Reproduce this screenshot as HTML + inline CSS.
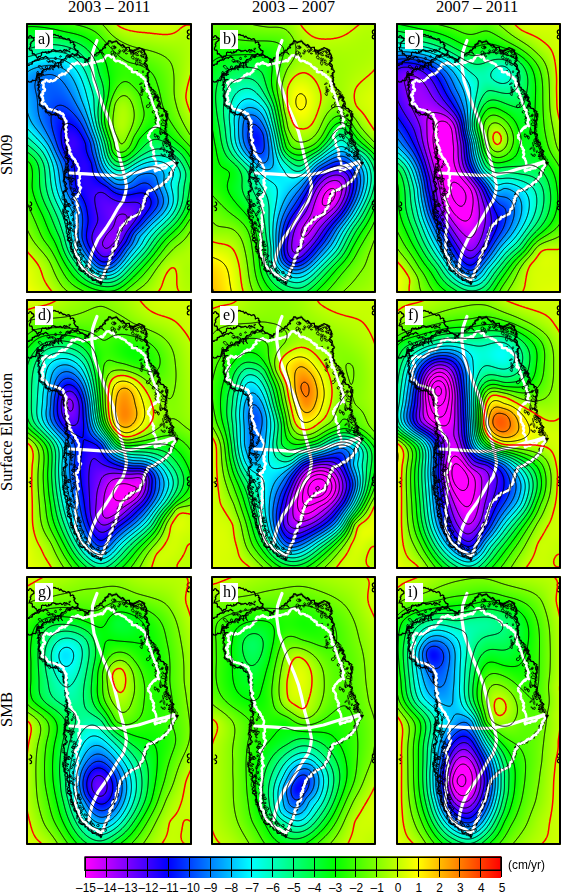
<!DOCTYPE html>
<html><head><meta charset="utf-8">
<style>
html,body{margin:0;padding:0;background:#fff;}
body{width:563px;height:893px;position:relative;overflow:hidden;font-family:"Liberation Serif",serif;color:#000;}
.t{position:absolute;font-size:16.6px;line-height:16px;white-space:nowrap;}
.r{position:absolute;font-size:16.6px;line-height:16px;white-space:nowrap;transform-origin:0 0;transform:rotate(-90deg);}
.s{position:absolute;font-family:"Liberation Sans",sans-serif;font-size:11.9px;line-height:12px;white-space:nowrap;}
canvas{position:absolute;display:block;}
.pn{position:absolute;background:radial-gradient(ellipse 32% 42% at 42% 55%,#3040ff 0%,#00c8ff 45%,#30ff60 75%,#b4f800 100%);box-shadow:inset 0 0 0 2px #000;}
#cbw{background:linear-gradient(90deg,#fff 0,#fff 5px,#f0f 5px,#00f 88px,#0ff 171px,#0f0 254px,#ff0 337px,#f00 421px,#fff 421px);}
</style></head><body>
<div class="t" style="left:68px;top:-1px">2003 &#8211; 2011</div>
<div class="t" style="left:252px;top:-1px">2003 &#8211; 2007</div>
<div class="t" style="left:436px;top:-1px">2007 &#8211; 2011</div>
<div class="r" style="left:-1px;top:175px">SM09</div>
<div class="r" style="left:-1px;top:491px">Surface Elevation</div>
<div class="r" style="left:-1px;top:727px">SMB</div>
<div class="pn" style="left:26px;top:23px;width:166px;height:270px"><svg width="166" height="270" viewBox="0 0 166 270" style="position:absolute;left:0;top:0"><path fill="#7000ff" fill-rule="evenodd" d="M72 169l6 1 3 2 3 2 4 3 5 1 5 1 6 0 6 0 4 2 0 5-2 4-2 4-2 4-2 2-3 4-2 4-3 4-2 4-2 4-2 2-3 4-3 4-3 2-5 1-4-1-3-4-3-4-1-4-1-4 0-6 2-4 2-4 1-4 0-6-1-4-1-6-1-6 2-5z"/><path fill="#1000ff" fill-rule="evenodd" d="M36 92l4 0 4 2 4 3 3 3 3 4 2 4 2 4 2 3 2 5 1 4 1 6 1 4 2 4 1 5 1 5 2 4 3 4 2 2 4 3 4 3 3 2 5 2 4 1 6-1 4 0 5-2 5-1 5 1 3 2 3 4 1 4 0 5-2 4-2 3-3 4-3 3-2 3-4 4-2 2-3 4-3 4-2 4-2 4-2 3-2 3-3 4-3 4-2 2-4 3-4 1-5 0-3-2-4-4-2-2-3-4-2-4-2-4-1-4 0-6 0-4 1-6 0-6-1-4-1-6-2-4-2-4-2-4-3-4-2-4 0-4-1-6 0-6-1-4-2-5-2-4-2-3-3-4-1-4-2-6-1-4-1-6 0-6 2-6 2-3zM71 170l-3 4 1 6 1 6 1 4 0 6-1 5-2 4-2 5-1 4 1 4 2 5 2 4 2 3 4 3 6 0 3-3 3-3 3-3 3-4 2-4 2-4 2-3 2-3 3-4 3-4 2-3 2-4 2-5 0-4-2-2-6-1-6 0-6-1-4-1-4-1-4-3-4-3-4-1z"/><path fill="#0050ff" fill-rule="evenodd" d="M18 52l6-1 4 1 4 2 4 4 2 3 2 3 3 4 2 4 2 4 2 4 3 4 2 4 2 4 2 4 2 4 1 4 2 4 2 4 1 4 2 6 1 4 1 6 1 4 1 4 2 5 2 3 3 4 3 3 3 3 3 2 6 1 6 0 4-2 4-3 2-2 4-3 6-1 4 0 4 1 2 4 1 5 2 4 1 4 2 4 1 6-1 4-2 4-3 4-3 3-3 3-3 3-3 3-3 3-3 3-3 3-2 4-2 5-2 3-3 3-2 4-3 4-2 2-3 4-3 2-4 3-6 1-6-2-3-2-3-3-3-3-3-4-2-3-2-4-2-4-2-5 0-4 0-6 0-6 0-6-1-6-2-4-2-4-3-4-2-4-2-4-1-4-1-5-1-5 0-6-1-4-2-5-2-5-2-4-2-4-2-4-1-4-2-4-2-4-3-4-2-4-2-4-1-4-1-4-1-6 0-6-1-6-1-4-1-6 2-6 2-2 5-2zM36 92l-4 3-2 5 0 6 1 6 1 6 1 4 2 4 2 4 2 4 3 4 1 4 1 4 1 6 1 6 0 4 2 6 2 3 2 3 2 4 2 4 2 6 0 4 1 6-1 6 0 4 0 6 1 4 1 4 2 4 3 4 3 4 2 3 4 3 4 1 4-1 4-2 4-4 2-3 2-3 3-4 3-4 2-3 2-5 2-3 2-3 4-4 2-2 3-4 3-3 2-3 3-4 3-4 1-4-1-4-3-4-3-3-4-2-6 1-4 1-4 1-6 1-6-1-4-2-4-2-2-2-4-3-4-3-2-3-2-3-2-6-1-4-1-4-2-5-1-5-1-6-2-4-2-4-2-4-2-4-2-3-3-3-3-3-4-2-4-1z"/><path fill="#00afff" fill-rule="evenodd" d="M14 40l6-2 6 0 6 1 4 1 4 2 4 3 2 3 3 4 2 4 2 4 1 4 2 5 1 5 2 4 1 4 2 6 1 4 1 4 2 6 1 4 1 4 2 5 2 5 1 4 1 6 1 4 1 4 2 4 2 4 4 4 3 2 5 2 2 0 6-2 4-2 2-2 4-2 4-2 5-2 5-1 6-1 5 2 3 2 3 4 1 6-2 6 2 5 2 5 0 4 0 6-1 4-3 4-2 3-3 3-3 3-3 3-3 3-3 3-3 3-3 3-2 4-2 4-3 4-2 2-3 4-3 4-2 2-3 4-3 3-3 3-3 2-4 2-6 1-4-1-5-2-3-2-3-4-3-3-2-3-4-4-2-4-2-4-2-4-1-4-1-6 0-4-1-6 0-6-1-4-2-4-2-4-3-4-1-4-2-4-2-6-1-4 0-6-1-5-1-5-1-4-2-5-2-5-2-4-2-3-2-3-3-4-3-3-2-3-4-4-2-2-3-4-1-4 0-6 0-6 0-6 0-6 0-6 0-6 0-6 0-6 1-4 5-2 4-1 4-1zM17 52l-5 2-2 2-2 6 1 6 1 4 1 6 0 6 1 6 1 4 1 4 2 4 2 4 3 4 2 4 2 4 1 4 2 4 2 4 2 4 2 5 2 5 1 4 0 6 1 5 1 5 1 4 2 4 2 4 3 4 2 4 2 4 1 6 0 6 0 6 0 6 0 4 2 5 2 4 2 4 2 3 3 4 3 3 3 3 3 2 6 2 6-1 4-3 3-2 3-4 2-2 3-4 2-4 3-3 2-3 2-5 2-4 3-3 3-3 3-3 3-3 3-3 3-3 3-3 3-4 2-4 1-4-1-6-2-4-1-4-2-4-1-5-2-4-4-1-4 0-6 1-4 3-2 2-4 3-4 2-6 0-6-1-3-2-3-3-3-3-3-4-2-3-2-5-1-4-1-4-1-6-1-4-2-6-1-4-2-4-2-4-1-4-2-4-2-4-2-4-2-4-3-4-2-4-2-4-2-4-3-4-2-3-2-3-4-4-4-2-4-1-6 1z"/><path fill="#00ffef" fill-rule="evenodd" d="M26 28l4 0 6 1 4 1 4 2 4 3 4 3 2 2 2 4 3 4 1 4 2 4 2 6 1 4 1 4 1 6 1 6 0 6 0 4 1 6 1 4 2 6 1 4 2 4 1 5 1 5 1 4 2 6 2 4 2 3 4 3 4 1 6-1 4-2 4-2 3-2 4-2 4-2 5-2 4-1 6-1 6 1 4 2 4 2 3 3 3 4 1 4 1 6-2 6 0 4 0 6-1 6-1 6-1 4-3 4-2 3-3 3-3 3-3 3-3 3-3 3-3 3-2 3-3 4-2 4-3 4-2 2-4 4-2 3-3 3-3 3-2 3-4 4-2 2-4 3-4 2-6 1-6-1-4-1-4-2-4-3-3-3-3-4-2-2-3-4-3-4-2-4-2-4-1-4-1-4-1-6-1-4-1-6-2-4-1-4-2-5-2-4-2-4-2-5-1-4-1-4-2-6 0-4-1-6 0-6-1-4-2-4-2-4-2-4-4-4-2-2-4-4-2-2-4-3 0-5 0-6 0-4 2 3 2 3 4 4 2 2 3 4 3 3 2 3 3 4 2 4 2 4 2 4 1 4 2 6 0 4 1 6 1 6 1 4 1 4 2 5 2 4 2 4 2 3 2 5 1 5 1 6 0 6 0 4 2 6 1 4 2 4 2 4 3 4 2 3 3 3 3 4 2 2 4 2 4 2 6 1 4-1 4-2 4-3 3-3 3-3 2-3 3-4 3-3 2-3 3-4 3-4 2-4 2-3 3-3 3-3 3-3 3-3 3-3 3-3 3-3 3-4 2-4 0-4 0-6-1-4-1-4-1-6 1-6-2-6-2-2-4-3-6-1-6 1-4 1-5 2-4 2-3 2-4 3-4 2-4 1-4-1-4-2-4-3-2-3-2-3-2-4-2-6-1-4-1-6-1-4-1-4-2-5-2-5-1-4-1-4-2-6-1-4-1-4-2-6-1-4-1-4-2-5-2-5-2-4-2-4-2-2-4-4-3-2-4-2-5-1-6-1-6 1-6 1-4 1-4 2-4 2 0-5 0-6 4-1 4-2 5-1 5-1 6-1z"/><path fill="#00ff8f" fill-rule="evenodd" d="M14 18l6-1 6 0 5 1 5 1 5 1 5 1 4 2 4 3 3 2 3 3 2 3 3 4 2 4 1 4 2 6 1 4 2 4 1 5 1 5 0 6-1 6-1 4 0 6 1 6 0 4 2 6 1 4 2 4 1 5 1 5 1 4 2 4 3 4 3 2 6 1 4-2 4-2 4-3 3-2 3-2 4-3 4-3 4-2 4-1 6 1 4 1 4 3 4 2 2 2 4 4 2 2 2 4 2 4 2 6 0 6-1 6-1 4-1 6-1 6-1 4-2 4-2 4-2 4-3 4-2 2-4 4-2 2-4 4-2 2-4 4-2 3-2 3-3 4-3 4-2 2-3 4-3 3-3 3-3 3-3 3-3 3-3 3-3 3-4 2-4 2-6 0-6-1-4-1-4-1-4-2-4-3-3-3-3-3-2-3-3-4-3-4-2-4-2-4-2-4-1-4-1-5-2-5-1-4-2-4-1-4-2-4-2-5-2-4-2-4-2-5-1-4-2-4-1-6 0-6 0-4-1-6-1-6-2-4-2-3-3-3-3-3-4-3 0-4 0-6 2 1 4 3 2 2 4 4 2 2 3 4 2 4 2 4 1 4 1 6 1 6 0 4 1 6 1 4 2 6 2 4 1 4 2 4 2 4 2 4 1 4 1 6 1 4 2 6 0 4 2 5 2 5 2 3 2 3 3 4 3 4 2 2 3 4 3 2 4 3 4 1 6 2 6-1 4-1 4-3 4-3 2-2 3-4 3-3 3-3 3-4 2-2 4-4 2-3 2-3 3-4 3-4 2-3 3-3 3-3 3-3 3-3 3-3 3-4 2-3 2-4 1-5 1-6 0-6 0-5 1-5 1-6-2-6-2-3-3-3-3-2-4-2-6-2-6 0-6 2-4 1-4 2-4 2-4 3-3 2-4 2-5 1-5-1-4-2-3-4-2-4-1-4-1-4-2-6-1-4-1-4-2-6-1-4-1-4-1-6-1-5 0-5-1-6 0-6-1-4-2-6-1-4-2-4-1-4-2-4-3-4-3-4-2-2-4-3-4-2-4-1-6-2-5 0-3 0-6 1-5 1-5 1-4 2-4-1 0-6 0-5 4-1 6-1 4-1z"/><path fill="#00ff30" fill-rule="evenodd" d="M2 3l6 0 6 1 4 0 6 1 5 1 5 1 4 1 6 1 4 1 6 2 4 2 4 2 3 2 3 3 3 3 3 4 2 4 2 4 2 4 1 4 1 6 1 4 0 6 0 6-1 4-1 6-1 4-1 6-1 6 0 6 1 6 1 4 2 5 2 5 1 4 1 6 2 3 4 3 4 0 4-2 3-2 3-3 3-3 2-4 2-4 3-4 2-2 4-4 4-2 4 0 4 1 4 3 2 2 4 3 3 3 3 3 4 3 2 2 4 4 2 3 2 3 2 4 0 6 0 6 0 6 0 6 0 6 0 6 0 4-2 6-2 4-2 4-2 3-2 3-3 4-3 3-3 3-3 3-3 3-3 3-2 3-3 4-3 3-2 3-3 4-3 3-2 3-4 4-2 2-4 4-2 3-4 3-2 2-4 4-3 2-4 2-5 2-6 0-6-1-5-1-5-2-4-2-4-2-3-2-3-2-3-4-3-3-2-3-3-4-2-4-2-4-2-4-2-4-1-4-2-4-2-4-2-4-2-4-2-4-2-5-2-5-2-4-2-4-2-4-1-4-2-4-1-6 0-4 0-6 0-6-1-6-2-4-3-4 0-4 0-6 2 0 4 3 3 3 3 4 2 4 1 4 1 6 0 4 0 6 1 6 1 4 2 6 2 4 2 4 1 4 2 4 2 4 1 4 2 4 2 5 2 5 1 4 1 5 2 5 2 4 2 4 2 3 2 3 4 4 2 3 3 3 3 2 4 3 4 2 4 1 6 1 6 0 4-1 4-2 4-3 3-3 3-3 3-3 3-3 3-3 3-3 2-3 4-4 2-3 3-3 2-4 3-4 2-2 4-4 2-2 4-4 2-2 4-4 2-3 2-3 3-4 1-4 2-5 1-5 1-6 0-4 1-6 1-6-1-6-2-4-2-4-3-4-2-2-4-4-3-2-4-2-5-2-4-1-6 1-4 2-3 2-3 2-4 3-4 3-2 2-4 2-4 2-6 1-4-2-3-3-2-4-1-4-2-6-1-4-1-4-2-6-1-4-1-4-1-6 0-6 1-6 1-4 0-6-1-6-1-4-1-4-2-6-1-4-2-4-1-4-2-4-3-4-3-3-3-3-4-2-4-2-5-2-4-1-6-1-4 0-6-1-6 1-4 0-6 1-4 1-2-2 0-6 0-6 2-3z"/><path fill="#30ff00" fill-rule="evenodd" d="M2 0l6 0 6 0 6 0 6 0 6 0 6 0 6 0 6 0 6 0 6 0 4 1 4 2 4 3 2 2 4 4 2 3 3 3 3 2 4 3 4 3 4 2 4 2 4 1 4 1 6 2 4 1 4 2 4 3 2 2 4 4 2 4 1 4 1 5 1 5 0 6 1 4 1 6 1 4 2 5 2 5 2 4 2 3 2 4 2 3 3 4 3 4 2 2 2 4 0 6 0 6-1 2-2-4-3-4-2-2-4-4-2-2-4-3-3-3-3-3-4-3-3-2-4-2-4 0-4 2-3 2-4 4-2 2-2 4-2 4-3 4-3 4-3 2-5 2-3 0-4-2-3-4-1-4-1-5-2-5-1-4-1-4-2-6 0-6 1-6 1-6 0-4 2-6 0-4 1-6 0-6-1-5-1-5-1-5-2-5-2-4-2-4-2-2-3-4-3-3-4-3-3-2-5-2-4-1-4-1-6-1-4-1-6-2-4-1-6-1-4 0-6-1-6 0-4-1zM96 66l-3 2-3 4-2 3-2 5-1 4-1 6 0 4 0 5 1 5 1 5 2 5 1 4 1 4 4 3 4-1 3-4 2-4 2-4 2-4 2-4 2-4 1-5 0-5 0-4-1-6-2-4-2-4-3-4-3-2-5 0zM2 138l2 3 2 5 0 6 0 6 0 6 0 4 2 6 2 4 1 4 2 4 2 4 2 4 2 4 1 4 2 4 2 5 2 3 2 4 2 4 2 5 2 5 2 4 2 4 2 3 2 3 3 4 3 4 2 2 4 3 4 2 4 2 4 2 4 1 6 2 6 0 6-1 4-2 4-2 4-3 2-2 4-4 3-2 3-4 2-2 4-4 2-2 3-4 3-3 2-3 3-4 3-4 2-3 3-3 3-3 3-3 3-3 3-3 3-3 2-3 3-4 2-4 2-4 2-4 1-2 0 6 0 6 0 5-2 3-2 4-3 4-3 4-2 2-4 3-3 3-3 3-3 3-3 4-2 2-3 4-3 4-2 2-3 4-3 4-2 3-3 3-3 3-4 3-2 2-4 3-4 3-4 0-6 0-6 0-6 0-6 0-6 0-6 0-6 0-4-2-4-2-3-2-3-3-2-3-3-4-2-4-2-4-2-4-2-4-2-4-3-4-2-3-2-3-3-4-3-4-2-3-2-4-2-4-2-5-2-4-1-4-1-4 0-6 0-6 0-6 0-6 0-6 0-6 0-6 0-6 2-2z"/><path fill="#8fff00" fill-rule="evenodd" d="M64 0l6 0 6 0 6 0 6 0 4 2 3 2 5 2 4 1 4 1 6 1 6 0 6 1 4 0 6 1 6 0 4-1 4-2 4-3 4-3 4-1 4 1 0 6 0 6 0 6 0 6 0 6 0 6 0 6-1 4-1 4-2 6-1 4-1 5-1 5 1 6 1 4 2 4 1 4 2 4 0 6 0 6 0 6 0 6 0 2-4-4-2-2-3-4-2-4-3-4-2-4-2-4-2-4-1-4-1-4-2-6 0-4-1-6-1-6-1-4-1-5-2-4-2-3-4-4-3-2-4-2-5-2-4-1-4-1-5-2-5-2-4-2-3-2-3-2-4-3-3-3-3-4-2-2-4-4-2-2-4-2-4-2zM98 66l4 1 4 3 2 4 2 4 1 4 1 5 0 5 0 4-2 6-2 4-2 4-2 4-2 4-2 4-2 2-6 0-2-4-1-4-2-4-1-4-2-6 0-4 0-5 1-5 1-6 1-4 2-4 2-4 3-3 4-1zM1 192l1 4 2 4 2 5 2 4 2 4 2 3 3 4 3 4 2 3 2 3 3 4 2 4 2 4 2 4 2 4 2 4 3 4 2 3 3 3 3 2 4 2 2 2-6 0-6 0-6 0-6 0-3-2-3-4-2-3-2-4-2-5-1-4-2-4-2-4-3-4-2-2-4-4-2-3 0-5 0-6 0-6 0-6 0-6 0-6zM166 197l0 5 0 6 0 6 0 6 0 6 0 6 0 6 0 6 0 6 0 6 0 6 0 6-4 2-6 0-3-2-2-4-1-6 0-6 0-4-4-4-4 3-2 3-2 4-2 6-1 4-3 4-2 2-6 0-6 0-6 0-6 0-6 0 4-3 4-3 2-2 4-3 3-3 3-3 2-3 3-4 3-4 2-2 3-4 3-4 2-2 3-4 3-3 3-3 3-3 4-3 2-2 3-4 3-4 2-4 2-3z"/><path fill="#efff00" fill-rule="evenodd" d="M90 0l6 0 6 0 6 0 6 0 6 0 6 0 6 0 6 0 6 0 6 0 6 0 6 0 4 2-2 0-5 0-4 2-3 3-4 2-4 2-6 0-6 0-5-1-5-1-6 0-6-1-4 0-6-2-4-1-4-3-3-2zM166 45l0 5 0 6 0 6 0 6 0 6 0 6 0 6 0 6-2-2-1-4-2-4-1-4-1-6 1-5 1-5 1-4 2-6 1-4zM1 228l3 4 2 2 3 4 3 4 2 4 1 4 2 4 1 4 3 4 3 4 2 3-2 1-6 0-6 0-6 0-6 0 0-6 0-6 0-6 0-6 0-6 0-6 0-6zM144 245l5 1 1 4 0 6 0 6 2 5 2 3-4 0-6 0-6 0-6 0-2 0 3-4 2-4 2-4 1-4 2-4 3-4z"/><g fill="none" stroke-linejoin="round"><polyline points="13.0,62.0 12.0,51.4 18.0,46.9 25.7,43.8 34.8,39.3 39.3,34.8 45.4,33.3 51.4,31.8 56.0,34.8 60.5,36.3 65.0,34.8 69.5,31.8 74.0,28.7 78.6,24.2 83.0,19.0 89.0,18.1 96.6,21.2 101.0,25.7 105.7,27.2 111.7,25.7 119.3,27.2 120.0,33.3 119.3,39.3 121.6,48.4 122.3,57.5 126.8,68.0 131.4,72.6 133.0,81.6 139.0,87.7 142.0,90.7 140.5,98.3 139.0,105.8 140.5,114.9 143.5,121.0 146.5,128.5 148.0,135.0 151.5,139.0 149.0,142.5 143.5,153.0 137.4,160.7 128.4,166.8 122.3,168.3 119.3,175.8 116.3,184.9 110.2,192.5 104.2,194.0 99.6,200.0 95.0,206.0 92.0,213.6 89.0,222.7 86.0,230.0 83.0,239.0 79.0,249.0 77.0,257.0 75.6,260.5 71.0,257.5 63.5,253.0 55.9,246.9 49.9,237.8 46.9,228.7 43.8,219.7 42.3,210.6 40.8,200.0 37.8,191.0 39.3,178.8 37.8,171.3 40.0,162.2 37.8,154.7 41.0,144.0 41.0,135.0 41.0,125.0 40.5,115.0 39.5,107.0 37.0,98.0 31.0,92.0 22.0,89.5 15.0,83.0 12.5,72.0 13.0,62.0" stroke="#000" stroke-width="1.3"/><polyline points="16.6,60.5 19.7,57.5 25.7,58.2 30.2,56.0 34.8,51.4 39.3,49.9 42.3,46.9 45.4,43.8 45.4,40.8 51.4,39.3 57.5,41.6 63.5,40.8 69.5,39.3 75.6,37.8 78.6,34.8 83.0,32.5 89.0,36.3 95.0,39.3 99.6,42.3 105.7,46.9 111.7,51.4 117.8,54.4 120.0,60.5 120.8,66.5 125.3,75.6 128.4,84.7 131.4,93.7 133.0,102.8 128.4,104.3 123.8,108.9 122.3,114.9 125.3,121.0 126.8,128.5 128.4,135.0 130.0,140.0 129.0,148.0 139.0,145.0 146.5,139.0 149.0,142.0 143.5,153.0 137.4,160.7 128.4,166.8 122.3,168.3 119.3,175.8 116.3,184.9 110.2,192.5 104.2,194.0 99.6,200.0 95.0,206.0 92.0,213.6 89.0,222.7 86.0,230.0 83.0,239.0 79.0,249.0 75.6,256.5 71.0,255.5 63.5,251.0 57.5,245.4 52.9,237.8 49.9,228.7 49.9,219.7 49.9,210.6 51.4,203.0 50.6,195.5 52.2,188.0 51.4,180.4 49.9,174.3 52.9,171.3 54.4,165.0 52.9,157.7 53.7,150.0 51.4,141.0 46.9,135.0 43.8,128.5 41.6,121.0 40.8,113.4 39.3,105.8 40.0,98.3 37.8,92.2 33.3,89.2 25.7,87.7 21.2,84.7 16.6,78.6 15.9,72.6 18.1,66.5 16.6,60.5" stroke="#fff" stroke-width="2.3"/><polyline points="71.0,17.5 68.5,24.0 66.5,30.2 65.8,42.3 68.0,57.5 72.6,71.0 77.0,83.0 83.0,96.8 87.5,108.9 90.6,121.0 93.6,135.0 96.5,145.0 99.0,155.0 100.5,163.0 99.5,170.0 97.0,178.0 92.0,185.0 86.0,195.5 80.0,205.0 72.0,216.0 66.5,228.0 64.0,237.0 63.0,244.0" stroke="#fff" stroke-width="3.2"/><polyline points="43.8,150.0 60.0,150.8 83.0,152.4 97.7,152.0 112.5,149.0 128.4,144.0 139.0,141.6 147.9,138.7" stroke="#fff" stroke-width="3.2"/></g><rect x="9" y="7" width="18" height="19" fill="#fff"/><text x="12" y="21" font-family="Liberation Serif" font-size="16">a)</text><rect x="1" y="1" width="164" height="268" fill="none" stroke="#000" stroke-width="2"/></svg><canvas id="p0" width="166" height="270" style="left:0;top:0"></canvas></div>
<div class="pn" style="left:211px;top:23px;width:165px;height:270px"><svg width="165" height="270" viewBox="0 0 165 270" style="position:absolute;left:0;top:0"><path fill="#ff00ff" fill-rule="evenodd" d="M118 166l5 0 0 6-1 4-4 4-4 2-2 0-1-6 1-4 3-4 3-2z"/><path fill="#cf00ff" fill-rule="evenodd" d="M118 156l6-2 6 2 2 3 1 5-1 6-1 4-2 4-2 4-3 3-3 3-3 3-3 3-3 3-3 3-3 3-2 3-3 4-2 4-3 3-4 3-3 2-4 0-1-6 1-6 1-4 2-4 3-4 3-4 2-4 2-4 2-4 1-4 2-4 2-4 2-4 3-4 2-2 4-3zM118 166l-4 3-2 4-1 5 2 4 3-1 4-3 2-2 2-6-2-5-4 1z"/><path fill="#7000ff" fill-rule="evenodd" d="M120 148l6-1 6 1 3 2 2 4 1 4 0 6 0 4-2 6-2 4-2 4-2 4-2 2-3 4-3 3-3 3-3 4-2 2-3 4-3 4-2 3-2 3-3 4-3 3-2 3-4 4-3 2-5 2-5-2-2-4-1-4 0-6 0-4 2-6 1-4 1-4 2-4 3-4 3-4 2-3 2-3 2-5 2-4 2-4 2-4 2-3 2-4 4-4 2-2 4-3 4-2zM117 156l-3 2-4 4-2 2-2 4-2 4-2 4-2 5-2 5-2 4-2 3-2 3-3 4-2 4-1 4-2 6 0 6 4 3 4-3 3-2 3-3 2-3 3-4 2-4 3-3 3-3 3-3 3-3 3-3 3-3 3-3 2-3 2-4 2-6 1-4-1-6-2-4-4-2-6 1z"/><path fill="#1000ff" fill-rule="evenodd" d="M42 108l4 1 2 3 1 6-1 6-3 0-3-3-2-5 1-6zM126 140l4 0 5 2 3 2 3 4 2 4 1 6-1 6-1 6-1 4-2 4-2 4-2 4-3 4-2 3-3 3-3 4-2 2-3 4-3 4-2 4-2 3-3 3-3 4-2 3-3 3-3 4-3 2-3 3-4 2-6 0-4-1-4-3-2-5-1-4 0-6 0-6 1-5 1-5 1-4 2-5 2-4 2-3 3-4 2-4 3-4 2-4 2-3 2-3 2-4 3-4 2-4 3-3 2-3 4-3 4-2 4-2 4-2 4-1zM120 148l-5 2-3 2-4 3-2 3-3 4-2 4-2 4-2 4-2 4-2 4-2 4-3 4-2 2-3 4-2 4-2 4-1 4-1 6-1 5 0 5 0 4 2 5 4 3 6-2 3-2 3-2 3-4 3-3 2-3 4-4 2-3 2-3 3-4 3-4 2-3 3-3 3-3 3-3 3-4 2-4 2-3 2-5 1-4 1-4 1-6-1-4-2-5-4-3-4-1-6 0z"/><path fill="#0050ff" fill-rule="evenodd" d="M38 92l5 0 3 2 4 4 2 4 2 4 1 4 1 4 1 6 0 6 0 6-1 4-4 4-4-2-4-3-3-3-3-3-2-3-3-4-1-5-1-5 0-6 1-6 1-4 3-4zM42 108l-2 6 1 6 3 3 3 1 2-4 0-6-2-4-3-2zM124 134l6-1 5 1 3 2 4 4 2 2 2 4 2 4 1 6 0 6-1 4-2 6-1 4-2 4-2 4-3 4-2 4-2 2-3 4-3 4-2 3-2 3-3 4-2 4-3 4-2 3-3 3-3 4-2 2-3 4-3 2-4 4-3 2-5 2-4 0-4 0-4-2-4-3-2-3-2-5-1-5 0-6 0-6 1-6 0-4 1-6 1-4 2-5 2-4 2-4 2-3 2-4 3-4 3-4 2-2 3-4 3-4 2-2 3-4 3-4 2-2 4-3 4-3 4-2 3-2 5-2zM126 140l-6 2-4 2-4 2-4 2-2 2-3 4-3 4-2 3-2 3-2 4-3 4-2 4-2 4-3 4-2 3-2 3-2 4-2 4-2 4-1 6-1 4-1 6 0 6 1 6 1 4 2 4 3 2 6 1 5-1 4-2 3-3 3-3 3-3 3-3 3-4 2-3 2-3 3-4 3-4 2-3 2-3 3-4 3-3 3-3 2-4 3-4 2-4 2-4 2-4 1-4 1-6 0-6-2-6-2-3-2-3-4-3-4-1-4 0z"/><path fill="#00afff" fill-rule="evenodd" d="M38 80l4 1 4 2 4 3 2 3 2 4 2 5 1 4 1 4 2 6 1 4 1 6 0 4 1 6 1 4 1 6 1 6-4 3-6 0-4-2-4-3-2-2-4-4-2-2-4-3-3-3-3-4-2-4-1-4-1-4-1-6 0-6 0-6 1-6 1-4 3-4 2-2 5-2zM37 92l-3 2-2 5-1 5 0 6 1 6 1 4 1 4 3 4 3 3 3 3 3 2 4 3 5-1 2-4 0-6 0-6-1-6 0-4-2-6-2-4-2-3-2-3-4-3-4-2zM128 126l4 0 4 2 4 3 4 3 2 2 4 4 2 4 1 4 1 4 0 6 0 4-2 6-1 4-1 4-2 4-2 4-3 4-2 4-3 4-2 3-2 3-3 4-3 4-2 4-2 4-2 3-2 3-3 4-3 3-3 3-3 3-3 3-3 3-3 3-3 2-4 2-5 2-4 0-5-1-4-2-3-3-3-3-2-3-2-6 0-4-1-6 0-6 0-6 0-6 1-6 0-4 1-6 1-4 2-6 1-4 2-4 2-4 2-4 3-3 4-2 4-2 4-3 3-2 3-3 2-3 4-4 3-2 3-2 4-3 4-3 3-2 4-2 5-2zM124 134l-5 2-3 2-4 2-4 3-4 3-2 2-3 4-3 4-2 2-3 4-3 4-2 2-3 4-3 4-2 4-2 3-2 4-2 4-2 5-1 4-1 6 0 4-1 6 0 6 0 6 1 5 2 5 2 3 4 3 4 2 4 0 4 0 5-2 3-2 4-4 3-2 3-4 2-2 3-4 3-3 2-3 3-4 2-4 3-4 2-3 2-3 3-4 3-4 2-2 2-4 3-4 2-4 2-4 1-4 2-6 1-4 0-6-1-6-2-4-2-4-2-2-4-4-3-2-5-1-6 1z"/><path fill="#00ffef" fill-rule="evenodd" d="M30 66l6-1 4 1 4 3 3 3 3 3 2 3 3 4 2 4 1 4 2 6 1 4 1 4 1 6 1 4 1 6 1 4 2 6 2 4 2 4 2 2 4 4 3 2 5 2 6-2 2-2 4-4 3-2 3-2 4-3 4-3 2-2 4-3 4-3 2-2 4-3 5 1 3 3 3 3 3 2 4 3 4 3 2 2 3 4 2 4 2 4 1 6 0 6-1 6-1 4-2 5-2 5-2 4-2 4-2 3-2 3-2 4-3 4-3 4-2 3-2 4-2 3-2 4-2 4-2 4-4 4-2 3-3 3-3 3-3 3-3 3-3 3-3 3-4 3-3 2-4 2-5 1-6-1-4-1-4-2-4-3-2-2-3-4-2-4-1-5-1-5 1-6-1-6-1-6 0-4 0-6 0-6 0-6 0-6-1-6-1-5-2-5-2-4-2-3-2-3-2-4-2-4-2-4-3-4-3-2-4-4-2-2-3-4-3-4-2-3-2-5-1-4 0-6 0-6-1-6 0-4 0-5 1-5 1-5 2-5 2-3 3-3 3-2zM37 80l-5 2-2 2-3 4-1 4-1 6 0 6 0 6 1 6 1 4 1 4 2 4 3 4 3 3 4 3 2 2 4 4 2 2 4 3 4 2 6 0 4-3-1-6-1-6-1-4-1-6 0-4-1-6-1-4-2-6-1-4-1-4-2-5-2-4-2-3-4-3-4-2-4-1zM128 126l-5 2-4 2-3 2-4 3-4 3-3 2-3 2-4 4-2 3-3 3-3 2-4 3-4 2-4 2-3 3-2 4-2 4-2 4-1 4-2 6-1 4-1 6 0 4-1 6 0 6 0 6 0 6 1 6 0 4 2 6 2 3 3 3 3 3 4 2 5 1 4 0 5-2 4-2 3-2 3-3 3-3 3-3 3-3 3-3 3-3 3-4 2-3 2-3 2-4 2-4 3-4 3-4 2-3 2-3 3-4 2-4 3-4 2-4 2-4 1-4 1-4 2-6 0-4 0-6-1-4-1-4-2-4-4-4-2-2-4-3-4-3-4-2-4 0z"/><path fill="#00ff8f" fill-rule="evenodd" d="M28 50l6-1 6 1 4 2 3 2 3 4 2 4 1 4 2 4 2 4 2 4 2 4 1 4 1 6 1 4 1 6 1 4 1 6 1 4 2 6 1 4 2 4 3 4 3 2 3 2 6 2 5-2 3-2 4-3 4-2 4-3 2-2 4-3 2-3 4-4 2-3 3-3 4-2 3 0 4 4 2 2 3 4 3 3 3 3 3 2 4 3 3 3 3 4 2 4 2 4 0 4 0 6 0 6 0 5-1 5-2 4-1 4-2 4-2 4-2 4-3 4-2 4-3 4-2 3-2 3-2 4-2 4-2 4-2 4-3 4-3 4-2 3-3 3-3 3-3 3-3 3-3 3-3 4-2 2-4 3-3 3-3 2-4 3-6 1-6-1-4-1-4-2-4-3-4-3-2-2-3-4-2-4-1-4-1-6-1-6 0-6 0-5-1-5-1-6 0-4-2-6 0-4-2-5-2-5-2-4-2-4-2-3-2-4-2-5-1-4 0-6-1-4-2-5-2-3-4-4-2-2-4-4-2-2-2-4-2-5-1-5-1-4-1-6-1-6 0-4-1-6 0-6-1-6 1-6 1-6 1-4 1-4 3-4 3-2 4-3 4-1zM30 66l-4 3-3 3-2 4-1 4-2 6 0 4 0 6 0 4 1 6 0 6 1 6 1 4 2 4 2 4 3 4 2 2 4 4 2 2 4 4 2 3 2 4 2 3 2 4 3 4 2 4 2 4 1 4 1 6 1 6 0 6 0 6 0 6 0 4 1 6 0 6 1 6 0 6 0 4 2 6 2 3 2 3 4 3 4 3 4 2 4 1 6 0 4-1 4-3 4-3 3-2 3-3 3-3 3-3 3-3 3-3 3-3 3-4 2-2 2-4 2-4 2-4 2-4 3-4 2-4 3-4 2-3 2-3 3-4 2-4 2-4 2-4 1-4 2-6 1-4 1-6-1-6-1-6-2-4-2-3-2-3-4-3-4-3-2-2-4-3-3-3-3-3-5 1-3 2-4 3-3 3-3 2-4 3-4 3-3 2-3 3-4 3-2 2-4 3-6 1-4-3-4-3-2-2-3-4-2-4-2-4-1-4-1-6-1-5-1-5-1-4-2-6-1-4-1-5-2-5-2-4-2-3-3-3-3-4-3-2-3-2-6-1-4 1z"/><path fill="#00ff30" fill-rule="evenodd" d="M18 32l6 0 6-1 6 0 6 0 6 0 5 1 3 2 3 4 1 4 1 6-1 6 0 4 0 4 1 6 2 4 1 5 1 5 1 4 2 6 0 4 1 6 1 4 2 6 1 4 1 6 2 4 2 2 4 2 6 2 6-2 4-2 4-2 4-2 2-2 3-4 3-3 2-3 2-4 3-4 3-3 4-2 5 1 3 2 3 4 3 4 2 3 3 3 3 3 3 3 3 2 4 4 2 2 2 4 0 6 0 5-2-5-2-4-2-3-3-3-3-3-4-2-3-3-3-3-2-3-4-4-2-2-4-2-4 1-3 3-3 4-2 2-3 4-3 2-4 4-3 2-3 2-4 2-4 3-4 2-6 0-4-2-4-3-2-2-2-4-2-4-1-6-1-4-1-6-1-4-1-6-1-4-2-6-1-4-1-4-2-4-2-5-2-4-2-4-2-4-2-4-4-3-4-2-4-1-6 0-4 1-5 2-4 2-3 3-2 4-2 5-1 4-1 6 0 6 1 6 0 6 1 5 1 5 0 6 1 4 1 6 1 4 2 4 2 4 4 4 2 2 4 4 2 3 2 3 2 4 1 6 1 6 1 4 1 4 3 4 2 4 2 4 2 4 1 4 2 6 1 4 1 6 0 4 1 6 1 4 0 6 0 6 1 6 1 5 2 5 2 3 2 3 4 4 3 2 3 2 5 2 5 1 6 1 5-2 3-2 4-3 4-3 2-2 4-4 2-3 3-3 3-3 3-3 3-3 3-3 3-4 2-3 2-4 2-4 2-4 2-3 2-4 3-4 2-4 3-4 2-3 2-4 2-4 2-4 2-4 2-5 1-4 1-2 0 6 0 6 0 5-2 4-2 4-2 5-2 3-2 4-2 3-3 4-2 4-3 4-2 4-2 4-2 4-2 3-2 3-3 4-3 3-3 3-3 3-2 3-4 4-2 3-3 3-3 3-3 3-3 2-6 0-6 0-6 0-6 0-6 0-6 0-4-1-3-3-3-3-2-3-2-4-2-6-1-4-1-6 0-4-1-6 0-6-1-6-1-4-1-6-1-4-2-4-2-4-3-3-2-3-4-4-2-3-3-3-3-4-2-2-2-4-2-5 0-5 1-4 1-6-4-4-3-2-3-4-1-4-1-4-1-6-1-4-1-6-1-4-1-6-1-4 0-6 0-6 0-6 0-6 0-6 0-6 0-6 0-6 0-6 0-6 1-4 3-2 4-2 6-2 4 0z"/><path fill="#30ff00" fill-rule="evenodd" d="M2 5l6 0 6 0 6 0 4 1 6 2 4 1 6 1 4 0 6 1 6 0 6 0 6 1 4 2 3 2 2 4 2 4-1 6-1 4-2 4-2 4-2 4-1 5-1 5-1 4 0 6 0 4 1 6 1 5 1 5 1 6 1 4 1 6 1 4 1 4 2 4 2 4 4 4 4 0 5 0 5-2 4-2 2-2 3-4 3-4 2-4 2-4 2-4 2-3 4-3 4-2 6 1 4 3 2 2 4 4 2 3 2 3 3 4 3 4 2 2 4 4 2 2 4 4 0 4 0 4-2-2-4-4-2-2-4-3-3-3-3-3-3-3-2-4-3-3-2-3-4-2-6 0-3 2-3 3-2 3-2 4-3 4-3 4-2 2-4 3-4 2-4 2-4 2-6 0-5-1-3-2-3-4-1-4-2-6-1-4-1-4-1-6-1-5-1-5-1-5-1-5-1-4-2-6-1-4-1-6 0-4 0-4 1-6-1-6-2-4-2-2-4-2-6-1-6 0-6 0-6 0-6 1-5 0-5 1-4 1-4 2-4 3 0-5 0-6 0-6 0-6 0-6 0-4zM0 102l1 6 1 4 1 6 1 5 1 5 1 6 1 4 2 4 3 3 4 2 2 5-2 6 0 4 0 4 2 4 2 4 3 4 3 3 2 3 4 4 2 2 3 4 3 4 2 4 1 4 2 4 1 6 0 4 1 6 1 6 0 6 0 4 1 6 1 4 2 4 2 4 3 4 3 3 3 3-5 0-6 0-4 0-3-4-1-4-2-5-1-5-1-6-1-4 0-6-1-5-1-5-1-6-1-4-1-4-2-4-4-4-2-2-4-3-4-2-4-2-4-3-2-2-4-4-2-2-2-4 0-6 0-6 0-6 0-6 0-6 0-6 0-6 0-6 0-6 0-6 0-6 0-6 0-6zM164 183l0 5 0 6 0 6 0 4-2 4-2 4-2 4-2 4-2 4-2 4-2 4-3 4-2 4-3 4-2 2-3 4-3 4-2 3-3 3-3 4-2 2-4 4-4 0-6 0-6 0 1-2 3-3 3-3 3-3 2-3 4-4 2-3 3-3 3-3 3-3 3-4 2-3 2-3 2-4 2-4 2-4 3-4 2-4 3-4 2-3 2-4 2-3 2-5 2-4 2-4z"/><path fill="#8fff00" fill-rule="evenodd" d="M2 0l6 0 6 0 6 0 6 0 6 0 6 0 6 0 6 0 6 0 6 0 6 0 6 0 6 0 6 0 4 2 2 3 3 3 3 3 4 2 4 2 6 1 6-1 6 0 4-1 4-2 4-2 4-3 4-3 2-2 4-2 6 0 6 0 2 4 0 6 0 6 0 6 0 6 0 6 0 6 0 5-3 3-3 3-3 3-3 2-4 4-2 2-2 4-1 6 0 6 2 4 3 4 2 2 3 4 3 4 2 3 2 3 2 4 2 4 0 6 0 6-2 0-4-4-2-2-4-4-2-3-3-3-2-4-3-4-2-2-4-4-3-2-5-2-6 2-3 2-3 4-2 4-2 4-2 4-2 3-2 3-4 4-3 2-5 2-4 0-5 0-4-2-2-4-2-4-1-4-2-6-1-4-1-6-1-4-1-6 0-4-1-6-1-4 0-6 0-4 2-6 1-4 1-4 2-4 2-4 2-5 1-5-1-5-2-3-4-4-4-2-4-1-6 0-6 0-6-1-4 0-6-1-4-1-6-2-4 0-6-1-6 0-6 0-4-1 2-4zM88 50l-3 2-3 2-3 4-2 4-1 4 0 6 0 6 0 4 1 6 2 4 1 4 2 4 3 4 5 1 6-1 3-2 3-4 2-4 2-4 1-4 1-4 1-6 0-6-1-4-2-5-2-4-3-3-3-3-4-1-6 0zM2 184l2 2 4 4 2 2 4 3 4 2 4 2 4 3 2 2 4 4 2 4 1 4 1 4 1 6 1 5 1 5 0 6 1 4 1 6 1 5 2 5 1 4 3 4-6 0-6 0-4-1-1-5-1-4-1-6-1-6 0-4-1-6-2-4-1-4-2-4-4-3-4-2-5-1-5-1-4-1 0-6 0-6 0-6 0-6 0-6 0-6zM164 204l0 4 0 6 0 6 0 6 0 6 0 6 0 6 0 6 0 6 0 6 0 6-4 2-6 0-6 0-6 0-6 0-6 0-6 0-2-2 2-2 4-4 2-3 3-3 3-4 2-3 2-3 3-4 3-4 2-3 2-4 2-4 2-4 2-3 2-4 2-4 2-4 2-4z"/><path fill="#efff00" fill-rule="evenodd" d="M90 0l6 0 6 0 6 0 6 0 6 0 6 0 6 0 6 0 6 0 5 0-3 2-4 4-3 2-3 2-4 2-5 2-5 1-6 1-6-1-6-1-4-2-3-2-3-3-3-3-2-4zM164 45l0 5 0 6 0 6 0 6 0 6 0 6 0 6 0 6 0 6 0 6 0 4-2-3-2-3-3-4-3-4-2-4-2-2-4-4-2-4-1-4 0-6 1-4 2-4 4-4 2-2 4-3 3-3 3-3zM90 49l5 1 4 2 3 3 2 3 3 4 1 4 1 6 0 6-1 5-2 5-1 4-2 4-2 4-3 3-4 2-6 0-4-2-2-3-2-4-2-6-1-4-1-6 0-4 0-6 0-4 2-6 2-3 2-3 4-3 4-2zM1 218l5 2 4 0 6 2 4 2 2 2 2 4 2 6 1 4 1 5 1 5 0 6 1 4 1 6 1 4-4 0-6 0-6 0-4-2-1-4-1-5-1-5-2-4-2-4-3-2-2-4 0-6 0-6 0-6 0-4z"/><path fill="#ffaf00" fill-rule="evenodd" d="M2 244l3 2 2 4 2 4 1 5 1 5 1 4-2 2-6 0-4-2 0-6 0-6 0-6 0-6z"/><g fill="none" stroke-linejoin="round"><polyline points="13.0,62.0 12.0,51.4 18.0,46.9 25.7,43.8 34.8,39.3 39.3,34.8 45.4,33.3 51.4,31.8 56.0,34.8 60.5,36.3 65.0,34.8 69.5,31.8 74.0,28.7 78.6,24.2 83.0,19.0 89.0,18.1 96.6,21.2 101.0,25.7 105.7,27.2 111.7,25.7 119.3,27.2 120.0,33.3 119.3,39.3 121.6,48.4 122.3,57.5 126.8,68.0 131.4,72.6 133.0,81.6 139.0,87.7 142.0,90.7 140.5,98.3 139.0,105.8 140.5,114.9 143.5,121.0 146.5,128.5 148.0,135.0 151.5,139.0 149.0,142.5 143.5,153.0 137.4,160.7 128.4,166.8 122.3,168.3 119.3,175.8 116.3,184.9 110.2,192.5 104.2,194.0 99.6,200.0 95.0,206.0 92.0,213.6 89.0,222.7 86.0,230.0 83.0,239.0 79.0,249.0 77.0,257.0 75.6,260.5 71.0,257.5 63.5,253.0 55.9,246.9 49.9,237.8 46.9,228.7 43.8,219.7 42.3,210.6 40.8,200.0 37.8,191.0 39.3,178.8 37.8,171.3 40.0,162.2 37.8,154.7 41.0,144.0 41.0,135.0 41.0,125.0 40.5,115.0 39.5,107.0 37.0,98.0 31.0,92.0 22.0,89.5 15.0,83.0 12.5,72.0 13.0,62.0" stroke="#000" stroke-width="1.3"/><polyline points="16.6,60.5 19.7,57.5 25.7,58.2 30.2,56.0 34.8,51.4 39.3,49.9 42.3,46.9 45.4,43.8 45.4,40.8 51.4,39.3 57.5,41.6 63.5,40.8 69.5,39.3 75.6,37.8 78.6,34.8 83.0,32.5 89.0,36.3 95.0,39.3 99.6,42.3 105.7,46.9 111.7,51.4 117.8,54.4 120.0,60.5 120.8,66.5 125.3,75.6 128.4,84.7 131.4,93.7 133.0,102.8 128.4,104.3 123.8,108.9 122.3,114.9 125.3,121.0 126.8,128.5 128.4,135.0 130.0,140.0 129.0,148.0 139.0,145.0 146.5,139.0 149.0,142.0 143.5,153.0 137.4,160.7 128.4,166.8 122.3,168.3 119.3,175.8 116.3,184.9 110.2,192.5 104.2,194.0 99.6,200.0 95.0,206.0 92.0,213.6 89.0,222.7 86.0,230.0 83.0,239.0 79.0,249.0 75.6,256.5 71.0,255.5 63.5,251.0 57.5,245.4 52.9,237.8 49.9,228.7 49.9,219.7 49.9,210.6 51.4,203.0 50.6,195.5 52.2,188.0 51.4,180.4 49.9,174.3 52.9,171.3 54.4,165.0 52.9,157.7 53.7,150.0 51.4,141.0 46.9,135.0 43.8,128.5 41.6,121.0 40.8,113.4 39.3,105.8 40.0,98.3 37.8,92.2 33.3,89.2 25.7,87.7 21.2,84.7 16.6,78.6 15.9,72.6 18.1,66.5 16.6,60.5" stroke="#fff" stroke-width="2.3"/><polyline points="71.0,17.5 68.5,24.0 66.5,30.2 65.8,42.3 68.0,57.5 72.6,71.0 77.0,83.0 83.0,96.8 87.5,108.9 90.6,121.0 93.6,135.0 96.5,145.0 99.0,155.0 100.5,163.0 99.5,170.0 97.0,178.0 92.0,185.0 86.0,195.5 80.0,205.0 72.0,216.0 66.5,228.0 64.0,237.0 63.0,244.0" stroke="#fff" stroke-width="3.2"/><polyline points="43.8,150.0 60.0,150.8 83.0,152.4 97.7,152.0 112.5,149.0 128.4,144.0 139.0,141.6 147.9,138.7" stroke="#fff" stroke-width="3.2"/></g><rect x="9" y="7" width="18" height="19" fill="#fff"/><text x="12" y="21" font-family="Liberation Serif" font-size="16">b)</text><rect x="1" y="1" width="163" height="268" fill="none" stroke="#000" stroke-width="2"/></svg><canvas id="p1" width="165" height="270" style="left:0;top:0"></canvas></div>
<div class="pn" style="left:396px;top:23px;width:165px;height:270px"><svg width="165" height="270" viewBox="0 0 165 270" style="position:absolute;left:0;top:0"><path fill="#ff00ff" fill-rule="evenodd" d="M44 98l4 0 4 3 2 3 2 6 0 4 1 6 0 6 0 6 0 6 1 4 2 5 2 4 2 3 4 4 2 3 3 3 2 4 1 4 1 6-1 6-1 4-1 5-2 3-6 1-4-3-3-2-3-4-2-3-2-4-2-5-1-4-1-5-1-5-1-6-1-4-1-5-1-5-1-4-2-5-2-5-1-4 0-6 0-6 1-6 1-4 3-3z"/><path fill="#cf00ff" fill-rule="evenodd" d="M22 70l3 2 3 3 3 3 3 2 4 3 4 2 4 2 4 3 3 2 3 4 2 3 2 5 1 4 1 6 0 4 1 6 0 6 1 6 1 4 1 5 2 4 2 3 3 4 3 4 2 2 2 4 2 4 2 6 1 4 1 6 0 4 0 4-1 6-1 6-1 4-2 4-2 4-3 3-6-1-2-2-3-4-3-4-2-2-3-4-2-4-3-4-2-4-2-3-2-5-2-4-1-4-1-5-1-5-1-5-1-5-1-4-2-6-1-4-1-4-2-6-1-4-1-4-1-6-1-4-1-6 0-6-1-4-1-6-1-4-2-6 0-4-1-6zM44 98l-4 3-2 4-1 5 0 6 0 6 1 5 2 5 1 4 1 4 2 6 1 4 1 5 1 5 1 6 0 4 2 6 2 4 2 4 2 4 2 2 4 4 2 2 6 1 4-3 1-4 1-5 1-5-1-6 0-4-2-4-3-4-3-4-2-2-3-4-3-4-1-4-1-4-1-6 0-6 0-6-1-6 0-4-1-6-2-4-3-3-4-1z"/><path fill="#7000ff" fill-rule="evenodd" d="M6 44l6 0 4 0 6 2 4 2 3 2 3 3 3 3 2 4 3 4 2 4 2 4 2 3 2 3 4 4 2 3 2 3 3 4 3 4 1 4 1 4 1 6 1 5 1 5 0 6 1 6 1 4 1 6 2 4 2 4 2 3 2 3 3 4 3 4 2 3 2 5 2 4 1 4 2 4 1 6 1 4 0 6-1 4-2 6-1 4-2 4-2 4-3 4-2 3-3 3-3 2-5 0-3-2-4-4-2-4-2-3-2-3-2-4-3-4-2-4-3-4-2-4-2-4-2-4-2-4-1-4-1-4-1-6-1-4-2-6 0-4-2-6-1-4-1-5-2-5-1-4-1-4-2-5-2-5-1-4-2-4-1-4-2-5-2-3-2-4-3-4-2-4-2-4-2-4-2-4-1-4 0-6 0-6 0-6 0-6 2-3 4-1zM22 70l0 6 0 4 1 6 1 4 2 6 0 4 1 6 1 6 0 4 1 6 1 4 2 6 1 4 1 4 2 6 1 4 1 4 2 6 1 4 1 6 1 4 1 5 2 5 2 4 2 4 2 4 2 3 2 3 3 4 3 4 2 3 2 3 4 4 4 2 4-3 2-3 2-4 2-6 1-4 1-6 0-4 0-4-1-6-1-5-1-5-2-4-2-4-3-4-2-3-2-3-3-4-3-4-1-4-1-5-1-5 0-6 0-6-1-5-1-5-1-6-1-4-3-4-2-3-4-3-3-2-4-2-4-2-3-2-4-3-3-3-3-3-4-3z"/><path fill="#1000ff" fill-rule="evenodd" d="M2 38l6-1 6 1 4 0 6 2 4 1 4 2 4 3 3 2 3 3 2 3 2 4 3 4 1 4 3 4 2 4 2 4 2 4 3 4 2 4 1 4 1 4 1 6 1 5 1 5 1 4 1 6 0 6 1 4 2 6 1 4 2 4 3 4 2 3 2 3 4 4 2 4 2 4 2 3 2 4 2 3 2 4 3 4 2 4 0 6-1 5-2 5-2 3-2 4-2 3-2 4-3 4-2 4-3 4-2 2-3 4-3 3-4 2-4-2-4-3-2-2-3-4-3-4-2-4-2-3-2-3-2-4-2-4-3-4-2-4-2-4-2-4-2-4-1-4-2-5-1-5-1-5-1-5-1-4-1-6-1-5-1-5-1-4-2-5-2-4-2-5-2-3-2-4-2-3-2-4-2-4-3-4-3-4-2-3-2-3 0-6 0-6 0-6 0-6 1 2 2 4 2 4 2 4 2 4 3 4 2 4 2 3 2 5 1 4 2 4 1 4 2 5 2 5 1 4 1 4 2 5 1 5 1 4 2 6 0 4 2 6 1 4 1 6 1 4 1 4 2 4 2 4 2 4 2 4 3 4 2 4 3 4 2 4 2 3 2 3 2 4 4 4 3 2 5 0 3-2 3-3 2-3 3-4 2-4 2-4 1-4 2-6 1-4 0-6-1-4-1-6-2-4-1-4-2-4-2-5-2-3-3-4-3-4-2-3-2-3-2-4-2-4-1-6-1-4-1-6 0-6-1-5-1-5-1-6-1-4-1-4-3-4-3-4-2-3-2-3-4-4-2-3-2-3-2-4-2-4-3-4-2-4-3-3-3-3-3-2-4-2-6-2-4 0-6 0-4 1-2 1 0-6 2-2z"/><path fill="#0050ff" fill-rule="evenodd" d="M2 32l6 0 4 0 6 1 6 1 4 1 4 2 4 1 4 2 4 3 3 3 3 3 3 3 2 4 2 4 2 4 2 4 2 4 1 4 2 5 1 5 1 4 1 6 1 6 0 4 2 6 1 4 1 6 0 4 1 6 1 4 2 6 2 4 2 3 2 3 3 4 3 3 2 3 2 4 4 4 3 2 5 1 4 1 4 3 2 3 2 6 0 6-2 6-2 4-2 4-2 4-2 2-3 4-3 4-2 3-2 3-3 4-3 4-2 3-3 3-3 4-2 3-4 3-4 1-4-1-4-2-4-4-2-2-3-4-3-4-2-4-2-3-2-3-2-4-3-4-2-4-2-4-2-4-1-4-2-4-2-4-2-6-1-4-1-6-1-4-1-6 0-4-1-6-1-4-2-5-2-5-2-4-2-4-2-3-2-3-4-4-2-3-3-3-3-4 0-4 0-6 0-6 3 4 3 4 2 4 2 3 2 3 2 4 2 4 3 4 2 4 2 4 1 4 2 5 1 5 1 4 1 6 1 4 1 6 1 4 1 6 1 4 2 5 2 5 2 4 2 4 2 3 2 4 2 4 2 3 2 4 3 4 2 4 2 4 3 4 2 2 4 4 3 2 5 0 3-2 3-3 2-3 3-4 3-4 2-3 2-3 2-4 3-4 2-4 2-4 1-4 1-6 0-6-3-4-2-2-2-4-2-4-3-4-2-4-2-4-3-4-2-2-3-4-3-4-2-4-2-4-1-4-1-4-1-6 0-6-1-4-1-6-1-4-1-6-1-5-2-5-1-4-2-4-3-4-2-4-2-3-2-4-2-4-2-4-2-4-2-3-3-4-3-3-4-3-4-2-4-2-4-1-5-1-5-1-6 0-5 1-1-2 1-4z"/><path fill="#00afff" fill-rule="evenodd" d="M2 26l6 0 6 1 6 1 4 1 6 1 4 1 4 2 4 2 4 2 4 2 4 3 2 2 4 4 2 3 2 3 3 4 2 4 1 4 1 6 1 5 0 5 1 6-1 6 1 6 0 6 1 4 2 6 1 4 1 6 0 4 2 6 1 4 2 4 2 4 3 3 3 3 3 4 2 2 3 4 5 0 4-2 6 1 4 2 4 2 3 3 2 4 2 4 0 6-1 6-1 4-1 4-2 4-3 4-2 4-3 3-2 3-4 4-2 2-3 4-3 3-2 3-3 4-3 4-2 2-3 4-3 4-2 2-4 3-4 1-5 0-5-2-4-2-2-2-4-4-2-3-2-3-3-4-2-4-3-4-2-3-2-4-2-3-2-4-2-5-2-4-2-5-2-4-1-4-1-4-1-6-1-4-1-6-1-6 0-4-2-6-1-4-1-4-2-4-2-4-3-4-3-3-3-3-3-3-2-3 0-6 0-5 2 3 3 4 3 4 2 2 3 4 3 4 2 4 2 4 2 4 1 4 1 4 1 6 1 4 1 6 1 5 1 5 1 5 1 5 2 4 2 4 1 4 2 4 2 4 2 4 3 4 2 4 2 4 3 4 2 4 2 3 2 3 4 4 2 2 4 3 4 2 5-1 4-2 3-4 2-2 3-4 3-4 2-2 3-4 2-4 3-4 2-3 3-3 3-4 2-3 2-4 2-5 1-4 1-6-1-6-2-4-3-3-4-1-6-2-4-2-2-2-3-4-2-4-3-3-2-3-3-4-3-4-2-4-1-4-1-4-1-6-1-5-1-5-1-5-1-5-1-5-1-5 0-6-1-4-2-6-1-4-2-4-1-4-2-4-2-4-2-4-2-4-3-4-3-3-3-3-3-2-4-3-4-2-4-1-6-2-4-1-6-1-4 0-6 0-4 0 0-4z"/><path fill="#00ffef" fill-rule="evenodd" d="M2 19l5 1 5 1 6 0 4 1 6 1 4 1 5 2 5 2 4 2 4 2 4 2 3 2 3 2 4 3 4 3 3 2 3 3 4 3 2 2 2 6-1 6-1 5-1 5-1 6-1 4-1 6 0 4 0 6 0 4 2 6 1 4 1 6 1 4 1 6 1 4 2 4 2 4 3 4 2 2 4 3 4 2 6 0 6 0 6 0 4 1 5 2 4 2 3 2 4 4 1 4 1 4 0 6 0 4-2 6-1 4-2 4-3 4-2 4-2 2-3 4-2 4-3 3-3 3-3 3-3 3-3 3-3 3-3 4-2 3-3 3-3 4-2 3-2 3-4 4-2 2-4 2-6 1-4-1-5-2-4-2-3-2-4-4-2-3-3-3-2-4-3-4-2-3-2-3-3-4-2-4-2-4-2-4-2-4-2-4-1-4-2-4-2-6-1-4-1-5-1-5-1-6 0-4-1-6-1-5-2-5-1-4-2-4-2-4-3-3-3-3-3-3 0-5 1-2 3 3 3 3 3 3 2 3 3 4 2 4 1 4 2 6 1 4 1 4 1 6 1 6 0 4 2 6 1 4 1 5 2 5 2 4 1 4 2 4 2 4 2 4 3 4 2 4 2 3 2 3 2 4 3 4 3 4 2 2 4 4 3 2 5 2 4 0 4 0 4-2 4-4 2-3 2-3 4-4 2-3 3-3 3-4 2-3 2-3 4-4 2-2 4-4 2-3 2-3 3-4 2-4 1-4 2-5 1-5 0-6-1-4-2-5-3-3-3-2-4-2-6-2-6 2-4 1-3-3-3-4-2-2-3-4-3-3-2-3-2-4-2-5-1-5-1-4-1-6-1-5-1-5-1-4-1-6 0-6-1-6 0-6 0-6 0-4-1-6-1-4-2-4-2-4-3-4-3-4-2-2-4-4-3-2-3-2-4-2-4-2-4-2-6-2-4-1-5-1-5-1-6 0-6-1-4 0 0-6zM100 44l6-1 4 1 4 4 1 4-1 4-4 3-4 1-4-1-4-2-3-3 0-6 3-3z"/><path fill="#00ff8f" fill-rule="evenodd" d="M2 11l6 1 4 1 6 1 4 1 6 1 4 1 4 1 6 2 4 2 4 1 4 3 4 2 4 2 4 2 4 2 4 1 4 1 4 0 6-1 4-1 6-1 6 0 6 1 4 2 4 2 2 2 4 4 2 4 1 4 0 6-1 6-1 4-2 4-3 3-6 1-6-1-4-1-6-2-6 1-4 3-2 3-2 4-2 5-1 4-1 4-1 6 1 6 1 4 1 4 1 6 1 4 2 6 1 4 2 4 3 3 4 3 4 1 6 0 6-1 6 0 6 1 6 0 5 1 5 2 3 2 3 4 2 3 2 5 0 4 1 6 0 6-1 4-2 6-1 4-3 4-2 4-2 2-3 4-3 3-3 3-3 4-2 3-2 3-4 4-3 2-3 3-3 3-3 4-2 3-3 3-3 4-2 3-2 3-3 4-3 4-2 2-4 2-6 2-6 0-6-2-4-2-3-2-3-2-4-3-3-3-3-4-2-3-2-3-3-4-3-4-2-3-2-3-3-4-2-4-2-4-2-4-1-4-2-4-2-5-2-5-1-4-1-4-2-6 0-4-1-6 0-6-1-6-1-4-1-4-2-5-2-3-4-4 0-4 0-5 3 3 3 3 3 3 2 4 2 4 1 4 2 5 1 5 1 6 0 4 1 6 1 5 1 5 1 4 2 6 2 4 1 4 2 4 2 4 2 4 2 4 2 4 3 4 2 3 2 3 3 4 2 4 3 3 2 3 4 4 3 2 4 2 5 2 4 1 6-1 4-2 2-2 4-4 2-3 2-3 3-4 3-3 2-3 3-4 3-3 3-3 3-3 3-3 3-3 3-3 2-4 3-4 2-2 2-4 3-4 2-4 1-4 2-6 0-4 0-6-1-4-1-4-4-4-3-2-4-2-5-2-4-1-6 0-6 0-6 0-4-2-4-3-2-2-3-4-2-4-2-4-1-4-1-6-1-4-1-6-1-4-2-6 0-4 0-6 0-4 1-6 1-4 1-6 1-5 1-5 1-6-2-6-2-2-4-3-3-3-3-2-4-3-4-3-3-2-3-2-4-2-4-2-4-2-5-2-5-2-4-1-6-1-4-1-6 0-5-1-5-1-2-3 0-5zM100 44l-4 3-2 5 3 4 3 2 6 2 2 0 4-2 2-4 0-5-2-3-4-3-6 0z"/><path fill="#00ff30" fill-rule="evenodd" d="M2 1l6 1 4 1 5 1 5 1 5 1 5 1 4 1 6 2 4 1 4 2 4 1 4 2 4 3 4 2 4 1 6 1 6-1 4-1 6-1 6 1 4 1 4 2 6 2 4 2 4 2 3 2 3 2 4 4 2 2 3 4 2 4 1 5 1 5 0 6 0 6 0 6 0 6-1 6 0 6 0 4 0 6 0 4 1 6 1 4 2 5 2 5 2 4 2 3 2 3 3 4 2 4 2 4 2 4 1 6 0 4 1 6 0 6 0 6-1 4-2 6-1 4-3 4-2 3-3 3-3 2-4 4-3 2-3 3-2 3-3 4-3 3-2 3-4 3-3 3-3 4-2 2-3 4-2 4-3 4-2 2-2 4-3 4-3 4-2 2-6 0-6 0-6 0-6 0-6 0-6 0-5 0-3-2-4-3-3-3-3-4-2-3-2-3-2-4-3-4-3-4-2-3-2-3-3-4-2-4-2-4-2-4-2-4-2-4-2-4-2-4-1-4-2-5-1-5-1-6 0-6 0-6 0-4-1-6-1-4 0-6 0-6 0-2 4 4 2 3 2 5 1 4 1 4 1 6 0 6 1 6 0 4 2 6 1 4 1 4 2 5 2 5 2 4 1 4 2 4 2 4 2 4 3 4 2 3 2 3 3 4 3 4 2 3 2 3 3 4 3 3 4 3 3 2 3 2 4 2 6 2 6 0 6-2 4-2 2-2 3-4 3-4 2-3 2-3 3-4 3-3 2-3 3-4 3-3 3-3 3-2 4-4 2-3 2-3 3-4 3-3 3-3 3-4 2-2 2-4 3-4 1-4 2-6 1-4 0-6-1-6 0-4-2-5-2-3-3-4-3-2-5-2-5-1-6 0-6-1-6 0-6 1-6 0-4-1-4-3-3-3-2-4-1-4-2-6-1-4-1-6-1-4-1-4-1-6 1-6 1-4 1-4 2-5 2-4 2-3 4-3 6-1 6 2 4 1 6 1 6-1 3-3 2-4 1-4 1-6 0-6-1-4-2-4-4-4-2-2-4-2-4-2-6-1-6 0-6 1-4 1-6 1-4 0-4-1-4-1-4-2-4-2-4-2-4-2-4-3-4-1-4-2-6-2-4-1-4-1-6-1-4-1-6-1-4-1-6-1-2-3 0-6zM91 86l-3 3-2 4-2 4-1 5 1 6 1 4 1 6 1 4 1 4 2 5 2 3 4 4 4 1 6 0 4-1 5-2 3-2 3-4 1-4 2-6 1-4-1-5-2-5-1-4-2-4-3-3-3-3-3-2-4-3-4-2-6-1-5 2z"/><path fill="#30ff00" fill-rule="evenodd" d="M2 0l6 0 6 0 6 0 6 0 6 0 6 0 6 0 6 0 6 0 4 0 5 2 5 1 6 1 6-2 4-1 6 1 4 1 4 3 3 2 3 2 4 3 4 3 4 2 3 2 4 2 3 2 4 3 3 3 3 2 3 4 3 4 2 4 2 4 0 4 1 6 0 6 1 6 0 6 0 6 0 4 1 6 0 6 1 5 1 5 1 6 1 4 1 5 2 5 2 3 2 3 2 4 0 6 0 6 0 6 0 6 0 6 0 6 0 6 0 6 0 6 0 6 0 6-2 4-3 2-3 2-4 2-4 2-4 2-4 3-3 3-3 4-2 3-3 3-3 4-2 2-3 4-2 4-3 4-2 4-2 3-2 3-2 4-2 4-6 0-5 0 3-4 2-3 2-3 2-4 3-4 3-4 2-3 2-3 4-4 2-3 3-3 3-2 3-4 3-4 2-2 3-4 3-3 4-3 2-2 4-3 3-3 3-4 2-4 1-4 1-4 1-6 0-6 0-6-1-6-1-4-1-6-2-4-2-4-2-3-2-3-3-4-2-4-2-4-2-4-1-4-1-6-1-6 0-4 0-4 0-6 1-6 0-6 0-6 0-6 0-6 0-6-1-4-2-6-2-3-2-3-4-4-2-2-4-3-4-2-4-2-4-2-4-1-5-2-5-1-6 0-6 1-4 1-6 0-4-1-5-2-4-2-4-2-4-2-5-2-4-2-4-1-4-1-6-1-4-1-6-1-4-1-6-2-4 0-6-2zM92 85l6-1 5 2 4 2 4 2 3 3 3 3 3 4 1 4 2 4 1 4 0 6-1 4-1 4-2 5-2 3-4 2-5 2-5 1-6 0-4-2-2-3-2-4-2-4-2-6 0-4-2-6 0-4-1-6 1-4 2-4 3-4 3-3zM95 96l-3 2-2 4-1 6 1 6 0 4 2 6 2 3 3 3 5 1 4-1 4-3 2-3 2-6 0-4-1-4-1-4-3-4-3-3-4-3-4-1zM0 158l2 6 0 4 0 6 0 6 1 6 1 6 1 4 1 4 2 4 2 4 2 5 2 4 2 4 2 3 2 4 3 4 2 4 3 4 2 3 2 3 3 4 2 4 3 4 2 3 3 3 3 3 4 3-2 0-6 0-6 0-6 0-2-4-2-4-1-4-2-4-2-4-3-4-2-4-2-3-2-3-3-4-3-4-2-2-2-4-3-4-1-4 0-6 0-6 0-6 0-6 0-6 0-6 0-6 0-6 0-6 0-2z"/><path fill="#8fff00" fill-rule="evenodd" d="M60 0l6 0 6 0 6 0 6 0 6 0 6 0 6 0 6 0 6 0 4 1 4 3 2 2 4 2 4 2 5 2 4 2 3 2 4 3 3 3 3 3 2 4 2 5 0 4 1 6 1 6 0 4 0 6 0 6 0 6 0 6 1 6 1 6 0 4 2 6 0 4 0 6 0 6 0 6 0 6 0 6-1 2-2-4-3-4-2-4-1-4-1-5-1-5-1-6 0-4-1-6-1-6 0-4 0-6 0-6 0-6-1-6 0-6-1-4-2-6-2-4-2-3-2-3-4-3-3-3-3-2-4-3-4-3-4-2-3-2-3-2-4-2-4-3-4-3-3-2-4-2-5-1-6 1-4 1-6 1-6-2-4-1-2-1zM96 96l5 0 4 2 3 3 3 3 2 4 1 5 0 5-1 4-2 4-3 3-4 2-6 0-3-3-3-4-1-4-1-4-1-6 0-6 2-4 3-4zM98 110l-1 6 2 4 4 0 2-4-1-4-4-4zM164 206l0 6 0 6 0 6-4 2-6 0-4 0-5 2-3 3-2 3-3 4-3 4-2 3-2 5 0 4-1 6-1 4-2 4-4 2-6 0-6 0-4 0 2-4 2-4 2-3 2-3 2-4 3-4 2-4 3-4 2-2 3-4 3-3 2-3 3-4 3-3 4-3 4-2 4-2 4-2 3-2 3-2zM0 216l3 4 2 4 3 4 2 3 2 3 3 4 3 4 2 4 2 3 2 3 2 5 2 5 2 4 2 3-2 1-6 0-6 0-5 0 0-6 0-6-1-5-2-3-3-4-3-4-2-3-2-3 0-6 0-6 0-6 0-2z"/><path fill="#efff00" fill-rule="evenodd" d="M118 0l6 0 6 0 6 0 6 0 6 0 6 0 6 0 4 2 0 6 0 6 0 6 0 6 0 6 0 6 0 6 0 6 0 6 0 6 0 6 0 6 0 6 0 6 0 6 0 6 0 2-2-6 0-4-1-6-1-6 0-6 0-6 0-6 0-6 0-4-1-6-1-6 0-4-2-5-2-4-3-3-3-3-4-3-3-2-4-2-5-2-4-2-4-2-2-2-4-3zM98 109l5 1 2 4-1 4-4 3-3-3 0-6zM152 226l6 0 6-1 0 5 0 6 0 6 0 6 0 6 0 6 0 6-2 4-6 0-6 0-6 0-6 0-6 0-6 0 0-2 2-5 1-5 1-6 1-4 2-4 2-4 3-3 2-3 3-4 3-3 5-1zM1 238l3 4 2 2 3 4 2 4 2 4 0 6 0 6-3 2-6 0-4-2 0-6 0-6 0-6 0-6 0-6z"/><g fill="none" stroke-linejoin="round"><polyline points="13.0,62.0 12.0,51.4 18.0,46.9 25.7,43.8 34.8,39.3 39.3,34.8 45.4,33.3 51.4,31.8 56.0,34.8 60.5,36.3 65.0,34.8 69.5,31.8 74.0,28.7 78.6,24.2 83.0,19.0 89.0,18.1 96.6,21.2 101.0,25.7 105.7,27.2 111.7,25.7 119.3,27.2 120.0,33.3 119.3,39.3 121.6,48.4 122.3,57.5 126.8,68.0 131.4,72.6 133.0,81.6 139.0,87.7 142.0,90.7 140.5,98.3 139.0,105.8 140.5,114.9 143.5,121.0 146.5,128.5 148.0,135.0 151.5,139.0 149.0,142.5 143.5,153.0 137.4,160.7 128.4,166.8 122.3,168.3 119.3,175.8 116.3,184.9 110.2,192.5 104.2,194.0 99.6,200.0 95.0,206.0 92.0,213.6 89.0,222.7 86.0,230.0 83.0,239.0 79.0,249.0 77.0,257.0 75.6,260.5 71.0,257.5 63.5,253.0 55.9,246.9 49.9,237.8 46.9,228.7 43.8,219.7 42.3,210.6 40.8,200.0 37.8,191.0 39.3,178.8 37.8,171.3 40.0,162.2 37.8,154.7 41.0,144.0 41.0,135.0 41.0,125.0 40.5,115.0 39.5,107.0 37.0,98.0 31.0,92.0 22.0,89.5 15.0,83.0 12.5,72.0 13.0,62.0" stroke="#000" stroke-width="1.3"/><polyline points="16.6,60.5 19.7,57.5 25.7,58.2 30.2,56.0 34.8,51.4 39.3,49.9 42.3,46.9 45.4,43.8 45.4,40.8 51.4,39.3 57.5,41.6 63.5,40.8 69.5,39.3 75.6,37.8 78.6,34.8 83.0,32.5 89.0,36.3 95.0,39.3 99.6,42.3 105.7,46.9 111.7,51.4 117.8,54.4 120.0,60.5 120.8,66.5 125.3,75.6 128.4,84.7 131.4,93.7 133.0,102.8 128.4,104.3 123.8,108.9 122.3,114.9 125.3,121.0 126.8,128.5 128.4,135.0 130.0,140.0 129.0,148.0 139.0,145.0 146.5,139.0 149.0,142.0 143.5,153.0 137.4,160.7 128.4,166.8 122.3,168.3 119.3,175.8 116.3,184.9 110.2,192.5 104.2,194.0 99.6,200.0 95.0,206.0 92.0,213.6 89.0,222.7 86.0,230.0 83.0,239.0 79.0,249.0 75.6,256.5 71.0,255.5 63.5,251.0 57.5,245.4 52.9,237.8 49.9,228.7 49.9,219.7 49.9,210.6 51.4,203.0 50.6,195.5 52.2,188.0 51.4,180.4 49.9,174.3 52.9,171.3 54.4,165.0 52.9,157.7 53.7,150.0 51.4,141.0 46.9,135.0 43.8,128.5 41.6,121.0 40.8,113.4 39.3,105.8 40.0,98.3 37.8,92.2 33.3,89.2 25.7,87.7 21.2,84.7 16.6,78.6 15.9,72.6 18.1,66.5 16.6,60.5" stroke="#fff" stroke-width="2.3"/><polyline points="71.0,17.5 68.5,24.0 66.5,30.2 65.8,42.3 68.0,57.5 72.6,71.0 77.0,83.0 83.0,96.8 87.5,108.9 90.6,121.0 93.6,135.0 96.5,145.0 99.0,155.0 100.5,163.0 99.5,170.0 97.0,178.0 92.0,185.0 86.0,195.5 80.0,205.0 72.0,216.0 66.5,228.0 64.0,237.0 63.0,244.0" stroke="#fff" stroke-width="3.2"/><polyline points="43.8,150.0 60.0,150.8 83.0,152.4 97.7,152.0 112.5,149.0 128.4,144.0 139.0,141.6 147.9,138.7" stroke="#fff" stroke-width="3.2"/></g><rect x="9" y="7" width="18" height="19" fill="#fff"/><text x="12" y="21" font-family="Liberation Serif" font-size="16">c)</text><rect x="1" y="1" width="163" height="268" fill="none" stroke="#000" stroke-width="2"/></svg><canvas id="p2" width="165" height="270" style="left:0;top:0"></canvas></div>
<div class="pn" style="left:26px;top:299px;width:166px;height:270px"><svg width="166" height="270" viewBox="0 0 166 270" style="position:absolute;left:0;top:0"><path fill="#ff00ff" fill-rule="evenodd" d="M92 185l6-1 6 2 4 1 1 5-3 4-2 2-4 2-6 1-5-1-2-4 1-6 2-4z"/><path fill="#cf00ff" fill-rule="evenodd" d="M112 176l4 1 2 4 0 4-1 5-2 4-2 4-3 3-4 3-3 2-3 2-4 4-3 2-3 3-4 2-4 3-4 0-3-2-2-4-1-6 1-6 1-6 0-4 2-6 2-4 2-4 3-2 5-1 6-1 6 1 6-1 6 0zM90 186l-2 3-1 5 1 5 4 2 6 0 4-2 4-3 2-2 1-6-4-2-5-2-6 1z"/><path fill="#7000ff" fill-rule="evenodd" d="M42 92l4 1 3 3 2 4 1 4 1 6 0 6-1 4-2 5-6 0-4-2-2-3-2-4-1-6 0-6 1-6 2-4 3-2zM66 160l4 0 4 3 4 3 4 1 4 1 6 2 4 1 6 0 6 1 6 0 4 1 3 3 2 4-1 6 0 4-2 6-2 3-2 3-4 4-3 2-3 3-3 3-3 2-4 4-3 2-3 2-4 3-4 3-3 2-5 1-4-3-2-3-2-5-1-4-1-4-1-6 0-6 0-6 0-6-1-6 0-6 1-6 0-6 2-4zM112 176l-6 0-6 1-6-1-6 1-5 1-3 2-2 4-2 4-2 6 0 4-1 6-1 6 1 6 2 4 3 2 4 0 4-3 4-2 3-3 3-2 4-4 3-2 3-2 4-3 3-3 2-4 2-4 1-5 0-4-2-4-4-1z"/><path fill="#1000ff" fill-rule="evenodd" d="M42 82l4 1 4 3 2 3 2 4 2 5 1 4 1 6 0 4 0 6 1 6 1 6 1 4 3 4 2 2 4 3 4 3 2 4 2 4 2 3 3 3 4 2 4 2 5 2 4 1 6 1 6 0 4 0 5 2 3 3 2 3 1 6 0 6-1 5-2 5-2 3-2 3-3 4-3 3-3 3-3 3-4 3-2 2-4 3-4 3-2 2-4 4-3 2-3 4-3 2-3 2-4 0-4-4-2-3-2-3-2-4-2-5-2-5-1-4-1-6 0-4-1-6-1-4-1-6-1-5-1-5 0-6 0-6 0-6 1-6 0-6-1-6-2-4-3-3-3-3-3-2-4-4-2-2-3-4-1-4-1-6 0-6 1-6 0-4 2-5 2-4 3-3 5-2zM41 92l-3 2-2 4-1 6 0 6 1 6 2 4 2 3 4 2 6 0 2-5 1-4 0-6-1-6-1-4-2-4-3-3-4-1zM66 160l-2 4-1 6-1 6 0 6 1 6 0 6 0 6 0 6 1 6 0 4 2 6 2 4 2 4 3 2 5 0 4-2 3-2 3-2 4-3 4-3 2-2 4-3 3-3 3-3 4-3 2-2 3-4 3-4 1-4 1-4 1-6-1-4-2-4-4-2-6-1-6 1-6-1-5-1-5-1-4-1-5-2-4-2-3-2-4-3z"/><path fill="#0050ff" fill-rule="evenodd" d="M36 73l6-1 4 2 4 3 3 3 2 4 2 4 2 4 1 6 1 4 1 6 0 5 1 5 1 6 1 4 2 4 2 4 3 3 3 3 3 3 2 4 2 3 4 4 3 2 4 2 5 2 4 1 6 1 5 0 5 1 4 1 4 3 3 3 3 4 1 4 0 6-1 6-1 4-2 4-3 4-2 3-3 3-3 4-2 2-4 4-2 2-4 4-3 2-3 2-4 4-3 2-3 3-3 3-3 4-2 2-4 2-6 1-4-2-3-3-3-4-2-3-2-4-2-4-2-5-1-4-1-4-2-6-1-4-1-5-1-5-1-5-1-5-1-6 0-4-1-6 0-6 1-6 0-4 0-6-1-4-1-4-4-4-2-2-4-4-2-3-3-3-2-4-1-4 0-6 0-5 0-5 1-6 1-6 1-4 2-4 2-4 3-4zM42 82l-5 2-3 3-2 4-2 5 0 4-1 6 0 6 1 6 1 4 3 4 2 2 4 4 3 2 3 3 3 3 2 4 1 6 0 6-1 6 0 6 0 6 0 6 1 5 1 5 1 6 1 4 1 6 0 4 1 6 1 4 2 5 2 5 2 4 2 3 2 3 4 4 4 0 3-2 3-2 3-4 3-2 4-4 2-2 4-3 4-3 2-2 4-3 3-3 3-3 3-3 3-4 2-3 2-3 2-5 1-5 0-6-1-6-2-3-3-3-5-2-4 0-6 0-6-1-4-1-5-2-4-2-4-2-3-3-2-3-2-4-2-4-4-3-4-3-2-2-3-4-1-4-1-6-1-6 0-6 0-4-1-6-1-4-2-5-2-4-2-3-4-3-4-1z"/><path fill="#00afff" fill-rule="evenodd" d="M30 64l6-2 6 1 4 1 4 3 3 3 3 4 2 4 2 4 1 4 1 4 1 6 1 4 1 6 0 6 1 5 1 5 1 4 2 4 2 4 4 4 2 2 3 4 2 4 3 3 4 3 3 2 5 2 4 1 6 1 6 0 4 0 5 2 4 2 3 2 4 4 2 3 2 3 2 6-1 6-1 5-2 4-2 4-2 3-3 4-3 3-2 3-3 4-3 4-2 2-4 3-3 3-3 2-4 3-3 3-3 3-4 3-2 2-3 4-3 3-4 3-4 1-6 0-4-3-3-2-3-3-2-3-2-4-3-4-2-4-1-4-2-5-2-5-1-4-1-4-2-6 0-4-2-6 0-4-1-6-1-4 0-6-1-6 0-6 1-6 0-4 0-4-2-6-2-3-2-3-4-4-2-2-3-4-3-4-2-4 0-4 0-6 0-4 0-6 1-6 1-6 1-4 1-6 1-4 1-4 3-4 3-2zM34 74l-2 2-2 4-2 4-2 6-1 4-1 6 0 6 0 4 0 6 0 4 2 4 3 4 3 4 2 2 4 4 2 2 3 4 1 5 0 5 0 4-1 6 0 6 1 6 0 5 1 5 1 6 1 4 1 6 1 4 1 6 1 4 1 4 2 6 2 4 1 4 2 4 3 4 2 3 3 3 3 2 6 1 4-2 4-3 2-3 3-3 3-3 3-3 3-2 4-3 4-3 2-2 4-4 2-2 4-4 2-2 3-4 3-4 2-3 2-4 2-5 1-4 0-6-1-5-2-4-2-3-4-3-4-2-6-1-4 0-6-1-6-1-4-1-4-2-4-3-2-2-3-4-3-4-2-3-3-3-3-3-2-3-2-4-2-4-1-6-1-6 0-4-1-6-1-6-1-4-1-4-2-5-2-3-3-4-3-3-4-2-6-1z"/><path fill="#00ffef" fill-rule="evenodd" d="M28 54l6-1 6 0 4 2 4 1 4 3 3 3 3 4 2 4 2 4 1 4 1 4 1 6 1 4 1 6 1 6 0 4 1 6 1 6 1 4 1 4 3 4 3 4 2 3 3 3 3 4 2 3 4 2 4 2 4 1 6 1 6 0 6 1 4 1 5 1 4 2 3 2 4 3 2 3 3 4 2 4 1 4 1 6-1 4-2 4-2 4-3 4-3 4-2 2-3 4-3 4-2 3-2 3-3 4-3 3-4 3-2 2-4 3-3 3-3 2-4 4-2 2-3 4-3 3-3 3-3 2-4 3-4 1-4 0-5-2-3-2-4-3-3-3-3-4-2-4-2-3-2-4-2-4-2-5-2-4-1-4-1-4-2-5-1-5-1-4-1-6-1-5-1-5 0-6-1-6 0-6 0-6 1-6-1-6 0-4-2-4-3-4-3-4-2-2-4-4-2-2-3-4-2-4-1-6 0-6 1-6 0-6 0-6 1-6 0-4 1-6 1-5 2-5 2-3 2-3 4-3 4-1zM30 64l-4 3-2 3-2 6-1 4-1 6 0 4-1 6-1 6 0 5-1 5 1 6 1 4 2 4 3 4 2 2 4 4 2 3 3 3 2 4 1 5 0 5 0 4-1 6 0 6 1 6 0 4 1 6 1 6 1 4 1 6 1 4 1 4 2 6 1 4 1 4 2 5 2 4 2 4 2 4 2 3 3 4 3 3 4 3 4 1 6 0 4-2 3-3 3-3 2-3 4-4 3-2 3-3 4-3 2-2 4-3 4-3 2-2 3-4 3-3 2-3 3-4 3-4 2-3 2-3 3-4 1-4 2-6-1-6-1-4-2-4-4-4-2-2-4-3-4-1-6-2-4 0-6-1-6-1-4-1-4-2-4-2-3-3-3-4-2-3-2-3-4-4-2-3-2-3-2-4-2-6 0-4-1-6-1-6 0-4-1-6-1-4-2-6-1-4-2-4-3-4-2-3-3-3-4-2-5-2-6 0-4 2z"/><path fill="#00ff8f" fill-rule="evenodd" d="M22 46l6-2 6 0 6 1 5 1 5 2 4 2 2 2 4 4 2 4 2 4 1 4 1 4 1 6 1 4 1 6 1 6 0 4 1 6 0 6 1 5 1 5 1 4 2 4 2 4 3 4 3 3 2 3 4 4 3 2 5 2 4 0 6 1 6 0 6 0 6 1 4 0 5 2 4 2 3 3 3 3 3 3 2 3 2 4 2 6 0 4 0 4-2 5-2 3-2 4-3 4-3 3-2 3-4 4-2 3-2 3-3 4-2 4-3 4-2 2-4 4-3 2-3 3-4 3-2 2-4 4-2 3-3 3-3 3-3 3-3 3-4 3-4 2-4 0-6 0-4-1-4-3-3-2-3-3-3-3-3-4-2-3-2-3-2-4-2-4-2-4-2-5-2-5-2-4-1-4-1-4-1-6-1-4-1-6-1-6 0-4-1-6 0-6 0-6 0-6 0-6 0-6-1-4-2-4-3-4-3-3-3-3-3-3-3-3-3-4-2-4-1-4-1-6 0-4 0-6 0-6 0-6 0-6 0-4 1-6 1-4 2-6 2-4 2-3 2-3 4-3 4-3zM28 54l-5 2-3 2-3 4-2 4-1 4-1 6-1 6 0 4-1 6 0 6 0 6-1 6 1 6 1 5 2 4 2 3 4 4 2 2 4 4 2 3 2 3 2 5 1 5-1 6 0 6 0 6 0 6 1 6 1 6 0 4 1 6 1 4 1 6 1 4 2 5 2 5 1 4 2 4 1 4 2 4 3 4 2 4 3 4 2 3 3 3 3 2 4 3 5 1 3 0 5-2 3-2 4-3 3-3 3-4 2-2 4-4 2-2 4-3 3-3 3-2 4-3 3-3 3-3 2-3 3-4 3-4 2-3 2-3 3-4 3-3 2-4 2-3 2-5 1-5-1-6-2-4-2-4-2-2-3-4-3-2-4-3-4-1-6-2-4 0-6-1-6 0-5-1-5-2-4-2-3-2-3-4-2-3-2-3-4-4-2-3-2-4-2-5-1-4 0-6-1-5-1-5 0-6-1-4-1-6-1-4-2-6-1-4-2-4-2-4-3-3-3-3-3-2-6-2-4-1-6 0-4 1z"/><path fill="#00ff30" fill-rule="evenodd" d="M20 36l6-1 6 0 6 0 4 1 6 1 4 1 4 2 4 2 4 4 2 3 2 3 2 6 1 4 0 6 1 6 0 4 1 6 0 6 1 6 0 6 0 4 1 6 1 6 1 4 1 4 3 4 2 4 3 3 2 3 4 3 4 2 4 1 6 0 4 0 6-1 6 0 6 0 6-1 6 1 4 1 4 3 4 3 2 3 2 3 3 4 2 4 1 4 2 6 0 4 0 4-2 5-2 3-3 4-3 3-4 3-2 2-3 4-3 3-3 3-2 4-3 4-2 4-2 4-2 2-3 4-3 3-3 3-3 3-3 3-3 3-2 3-3 4-3 3-2 3-4 4-2 2-6 0-6 0 2-2 3-2 3-3 3-3 3-3 3-3 3-3 2-3 4-4 3-2 3-3 3-3 3-2 4-4 2-3 2-3 3-4 2-4 3-4 2-2 3-4 3-3 2-3 3-4 3-4 1-4 1-4 0-6-1-4-2-4-3-4-2-3-3-3-3-3-4-3-4-1-4-1-6-1-6 0-6 0-6 0-5-1-5-1-4-3-2-2-4-4-2-3-2-3-3-4-2-4-2-4-1-6 0-4-1-6-1-6 0-4-1-6-1-6 0-4-1-6-1-4-2-6-2-4-2-4-2-2-4-4-4-2-4-2-4-1-6-1-6 0-6 1-4 1-4 3-4 3-2 3-2 3-2 4-2 6-1 4-1 6 0 4 0 6 0 6 0 6 0 6 0 4 1 6 1 4 2 4 3 4 3 3 3 3 3 3 3 3 3 4 2 4 1 4 0 6 0 6 0 6 0 6 0 6 1 6 0 4 1 6 1 6 1 4 1 6 1 4 1 4 2 4 2 5 2 5 2 4 2 4 2 4 2 3 2 3 3 4 3 3 3 3 3 2 4 3 2 1-6 0-6 0-3-2-3-3-2-3-3-4-3-4-2-4-2-4-2-4-2-4-2-4-2-4-2-4-1-4-1-4-1-6-1-6-1-4 0-6-1-5 0-5-1-6 0-6 0-6 1-6 0-6-1-6-2-4-3-4-2-3-4-3-2-2-4-3-3-3-1-4 0-6 0-6 0-6 0-6 0-6 0-6 0-6 0-6 0-6 0-6 0-6 0-6 2-4 2-3 3-3 3-2 4-2 6-2z"/><path fill="#30ff00" fill-rule="evenodd" d="M28 24l6 0 4 0 4 0 6 0 6 0 4 0 6 1 6 0 6 0 6 0 6 0 5 1 5 2 4 1 4 1 5 2 5 2 4 2 4 1 4 3 3 2 3 3 2 3 3 4 1 4 1 6 0 6-1 6-2 4-2 2-6 1-4-1-4-3-4-2-4-2-4-1-5-2-5-2-4 0-6-1-6 1-3 2-2 4-1 4-1 6 0 6 0 6 1 6 0 6 0 4 1 6 1 4 2 4 2 4 3 4 3 3 4 3 4 2 4 0 4 0 6-2 4-1 5-1 5-2 4-2 4-1 4-2 6-1 6 1 4 2 4 3 3 2 3 3 2 3 0 6 0 6 0 6 0 6 0 6 0 6 0 6 0 6 0 6-2 4-4 2-4 1-4 2-4 3-2 2-3 4-2 4-3 4-1 4-2 4-3 4-2 3-2 3-4 4-2 3-3 3-3 4-2 3-2 4-2 3-3 4-5 0-6 0-2 0 4-4 2-2 3-4 3-4 2-2 3-4 3-3 3-3 3-3 3-3 3-3 2-3 3-4 2-4 2-4 3-4 2-3 3-3 3-4 2-2 4-3 3-3 3-3 2-3 2-4 2-6 0-4 0-4-2-5-2-5-2-3-2-4-3-3-3-4-3-2-4-2-5-1-6-1-6 1-6 0-6 1-6 0-4 0-5 0-5-1-4-3-2-2-3-4-3-4-2-3-2-4-2-5-1-4 0-6-1-6 0-4-1-6 0-6-1-6 0-6 0-4-1-6-1-6-1-4-1-4-3-4-3-4-2-2-4-2-5-2-5-1-4-1-6-1-6 0-6 0-4 1-6 2-4 2-3 2-3 3-2 3-2 2 0-6 0-6 0-6 2-4 3-2 5-1 6-1 6 0 4 0zM1 128l3 3 4 3 2 2 4 3 2 3 3 4 2 4 1 6 0 6-1 6 0 6 0 6 1 6 0 5 1 5 0 6 1 4 1 6 1 6 1 4 1 4 2 4 2 4 2 4 2 4 2 4 2 4 2 4 3 4 3 4 2 3 3 3 1 2-6 0-5 0-3-4-2-3-2-4-2-3-2-4-2-4-2-4-2-4-2-4-2-4-2-4-2-6-1-4 0-6-1-6 0-4-1-6 0-6-1-6 0-6 0-6 1-6 0-6 0-6-1-4-2-4-3-4-3-3-4-3-2-2 0-6z"/><path fill="#8fff00" fill-rule="evenodd" d="M28 2l4-2 6 0 6 0 6 0 6 0 6 0 6 0 6 0 6 0 6 0 6 0 6 0 6 0 6 0 4 2 2 2 4 4 2 2 4 2 4 2 5 2 5 2 4 1 4 2 3 3 3 3 2 3 3 4 3 4 2 4 2 4 0 4 0 6 0 6 0 6 0 6 0 6 0 6 0 6 0 6 0 6 0 6 0 6 0 6 0 6 0 6 0 6-1 2-3-3-4-3-3-2-3-2-6-2-6 1-4 1-5 2-5 2-4 2-4 1-4 1-6 1-6 1-2 0-6-2-3-2-3-3-2-3-3-4-2-4-1-4-2-6 0-4 0-6-1-6 0-6 0-6 1-6 1-4 1-4 3-4 5-1 6 0 4 1 6 2 4 1 4 1 4 2 4 2 4 3 4 2 6 0 4-3 2-4 1-4 0-6-1-6-1-4-1-4-3-4-3-3-4-3-3-2-4-2-5-2-4-2-4-1-4-1-5-2-5-2-4-1-6 0-6 0-6 0-6 0-6-1-5 0-5 0-6 0-4 0-4 0-6 0-4 0-6 0-6 0-6 1-4 2-4 2 0-5 0-6 0-6 2-2 6-2 4-1 5-1 5-1 4-2zM96 76l-6 1-4 3-2 3-2 5 0 4 0 6 0 6 0 6 0 4 1 6 2 4 2 4 3 4 2 2 4 2 6 1 5-1 5-2 4-2 2-2 4-3 2-3 2-4 1-6-1-6-1-4-1-4-2-4-2-4-3-4-3-4-3-2-3-2-4-2-6-2-2 0zM2 136l2 2 4 3 3 3 2 4 2 4 0 6 0 6-1 6 0 6 0 6 1 6 0 6 0 6 1 5 0 5 1 6 1 6 1 4 2 4 2 4 2 4 2 4 2 4 2 4 2 4 2 4 3 4 2 4 2 2-2 2-6 0-6 0-3-2-3-4-2-4-2-3-2-4-2-5-2-3-2-5-2-4-1-4-1-6 0-5 0-5 0-6 0-6 0-6-1-6 0-6 0-6 0-6 1-6 0-4 1-6-1-6-1-4-3-3-2-3 0-6zM164 202l2 2 0 6 0 5-6-1-4 0-4 1-2 3-3 4-2 4-1 4-2 6-1 4-2 4-3 4-2 2-3 4-3 4-1 4-1 4-2 4-6 0-6 0-5 0 3-4 2-3 2-4 2-3 3-4 3-3 2-3 4-4 2-3 2-3 3-4 2-4 1-4 3-4 2-4 3-4 2-2 4-3 4-2 4-1 4-2zM164 244l2 2 0 6 0 6 0 6 0 6-6 0-6 0-3-2 1-5 2-3 3-4 2-4 1-4 4-4z"/><path fill="#efff00" fill-rule="evenodd" d="M2 0l6 0 6 0 6 0 6 0 5 0-3 2-4 2-6 2-4 1-6 1-4 1-4 2 0-5 0-6zM114 0l6 0 6 0 6 0 6 0 6 0 6 0 6 0 6 0 4 2 0 6 0 6 0 6 0 6 0 6 0 6 0 6 0 2-2-4-2-4-3-4-3-4-2-3-3-3-3-3-4-2-4-1-5-2-5-2-4-2-4-2-2-2-4-4-2-2zM96 76l4 0 5 2 4 2 3 3 3 3 3 3 2 3 2 4 2 4 2 6 1 4 0 6-1 4-2 4-3 4-3 2-4 3-4 2-4 1-6 1-5-1-3-2-4-4-2-3-2-5-1-4-1-6 0-4 0-6 0-6 0-5 1-5 1-4 4-4 4-2 4 0zM93 86l-3 3-2 5-1 4 0 6 0 6 0 6 1 4 2 5 3 3 3 2 6 0 4-1 3-3 3-3 2-5 0-4 0-4-1-6-1-4-2-5-2-4-3-3-3-2-6-1zM1 144l3 3 2 4 1 5-1 6 0 4-1 6 0 6 0 6 0 6 1 6 0 6 0 6 0 6 0 6 0 4 1 6 1 4 2 6 2 4 2 4 2 4 2 4 2 4 2 3 2 4 2 3-4 0-6 0-6 0-6 0-4-2 0-6 0-6 0-6 0-6 0-6 0-6 0-6 0-6 0-6 0-6 0-6 0-6 0-6 0-6 0-6 0-6 0-6 0-6 0-6 0-6 0-5zM154 214l6 0 4 1 2 3 0 6 0 6 0 6 0 6-2 2-4 4-1 4-2 4-3 4-2 3-1 5 1 2-6 0-6 0-6 0-6 0-3-2 1-4 2-5 2-4 2-3 4-4 2-3 2-3 2-5 1-5 1-4 2-5 2-3 3-4 3-2z"/><path fill="#ffaf00" fill-rule="evenodd" d="M94 85l6 0 4 2 3 3 3 4 1 4 1 4 2 6 0 4 0 5-2 5-2 3-3 3-4 2-5 1-4-2-3-3-2-4-1-4-1-6 0-6 0-6 1-6 1-4 3-4z"/><g fill="none" stroke-linejoin="round"><polyline points="13.0,62.0 12.0,51.4 18.0,46.9 25.7,43.8 34.8,39.3 39.3,34.8 45.4,33.3 51.4,31.8 56.0,34.8 60.5,36.3 65.0,34.8 69.5,31.8 74.0,28.7 78.6,24.2 83.0,19.0 89.0,18.1 96.6,21.2 101.0,25.7 105.7,27.2 111.7,25.7 119.3,27.2 120.0,33.3 119.3,39.3 121.6,48.4 122.3,57.5 126.8,68.0 131.4,72.6 133.0,81.6 139.0,87.7 142.0,90.7 140.5,98.3 139.0,105.8 140.5,114.9 143.5,121.0 146.5,128.5 148.0,135.0 151.5,139.0 149.0,142.5 143.5,153.0 137.4,160.7 128.4,166.8 122.3,168.3 119.3,175.8 116.3,184.9 110.2,192.5 104.2,194.0 99.6,200.0 95.0,206.0 92.0,213.6 89.0,222.7 86.0,230.0 83.0,239.0 79.0,249.0 77.0,257.0 75.6,260.5 71.0,257.5 63.5,253.0 55.9,246.9 49.9,237.8 46.9,228.7 43.8,219.7 42.3,210.6 40.8,200.0 37.8,191.0 39.3,178.8 37.8,171.3 40.0,162.2 37.8,154.7 41.0,144.0 41.0,135.0 41.0,125.0 40.5,115.0 39.5,107.0 37.0,98.0 31.0,92.0 22.0,89.5 15.0,83.0 12.5,72.0 13.0,62.0" stroke="#000" stroke-width="1.3"/><polyline points="16.6,60.5 19.7,57.5 25.7,58.2 30.2,56.0 34.8,51.4 39.3,49.9 42.3,46.9 45.4,43.8 45.4,40.8 51.4,39.3 57.5,41.6 63.5,40.8 69.5,39.3 75.6,37.8 78.6,34.8 83.0,32.5 89.0,36.3 95.0,39.3 99.6,42.3 105.7,46.9 111.7,51.4 117.8,54.4 120.0,60.5 120.8,66.5 125.3,75.6 128.4,84.7 131.4,93.7 133.0,102.8 128.4,104.3 123.8,108.9 122.3,114.9 125.3,121.0 126.8,128.5 128.4,135.0 130.0,140.0 129.0,148.0 139.0,145.0 146.5,139.0 149.0,142.0 143.5,153.0 137.4,160.7 128.4,166.8 122.3,168.3 119.3,175.8 116.3,184.9 110.2,192.5 104.2,194.0 99.6,200.0 95.0,206.0 92.0,213.6 89.0,222.7 86.0,230.0 83.0,239.0 79.0,249.0 75.6,256.5 71.0,255.5 63.5,251.0 57.5,245.4 52.9,237.8 49.9,228.7 49.9,219.7 49.9,210.6 51.4,203.0 50.6,195.5 52.2,188.0 51.4,180.4 49.9,174.3 52.9,171.3 54.4,165.0 52.9,157.7 53.7,150.0 51.4,141.0 46.9,135.0 43.8,128.5 41.6,121.0 40.8,113.4 39.3,105.8 40.0,98.3 37.8,92.2 33.3,89.2 25.7,87.7 21.2,84.7 16.6,78.6 15.9,72.6 18.1,66.5 16.6,60.5" stroke="#fff" stroke-width="2.3"/><polyline points="71.0,17.5 68.5,24.0 66.5,30.2 65.8,42.3 68.0,57.5 72.6,71.0 77.0,83.0 83.0,96.8 87.5,108.9 90.6,121.0 93.6,135.0 96.5,145.0 99.0,155.0 100.5,163.0 99.5,170.0 97.0,178.0 92.0,185.0 86.0,195.5 80.0,205.0 72.0,216.0 66.5,228.0 64.0,237.0 63.0,244.0" stroke="#fff" stroke-width="3.2"/><polyline points="43.8,150.0 60.0,150.8 83.0,152.4 97.7,152.0 112.5,149.0 128.4,144.0 139.0,141.6 147.9,138.7" stroke="#fff" stroke-width="3.2"/></g><rect x="9" y="7" width="18" height="19" fill="#fff"/><text x="12" y="21" font-family="Liberation Serif" font-size="16">d)</text><rect x="1" y="1" width="164" height="268" fill="none" stroke="#000" stroke-width="2"/></svg><canvas id="p3" width="166" height="270" style="left:0;top:0"></canvas></div>
<div class="pn" style="left:211px;top:299px;width:165px;height:270px"><svg width="165" height="270" viewBox="0 0 165 270" style="position:absolute;left:0;top:0"><path fill="#ff00ff" fill-rule="evenodd" d="M106 187l1 1 0 2-1 0-1 0 0-2 1-1z"/><path fill="#ff00ff" fill-rule="evenodd" d="M104 178l6-1 4 2 3 3 1 4 0 4-2 4-4 4-4 2-4 1-6 1-4-4 0-4 0-4 2-5 2-3 4-3zM105 188l0 2 1 0 1 0 0-2-1-1-1 1z"/><path fill="#ff00ff" fill-rule="evenodd" d="M104 172l6-1 4 1 4 2 4 4 2 4 0 4 0 4-2 5-2 3-4 4-2 2-4 2-4 3-4 2-4 2-4 2-4-1-3-4-1-4 0-4 1-6 1-5 2-5 2-4 2-3 2-3 4-2 4-2zM103 178l-3 2-4 4-1 4-1 4 0 5 2 4 6 1 5-2 4-2 3-2 3-4 1-4 0-4-3-4-3-2-6-1z"/><path fill="#cf00ff" fill-rule="evenodd" d="M102 168l6-1 6 0 5 1 3 2 4 4 2 4 1 4 1 6-2 6-1 4-3 4-2 2-4 4-2 2-4 3-3 3-3 2-4 3-4 2-4 1-6 2-6-1-2-3-1-6 0-6 1-6 1-4 1-5 1-5 2-4 2-4 2-4 3-4 2-2 4-2 4-2zM104 172l-5 2-3 2-3 4-2 4-2 4-1 4-1 6-1 4 0 4 2 6 2 2 6 0 4-1 4-3 3-2 3-2 4-2 4-3 2-3 3-4 1-4 0-6-1-4-3-4-2-2-4-2-6-1-4 1z"/><path fill="#7000ff" fill-rule="evenodd" d="M114 162l4 0 6 2 3 2 3 4 2 4 1 4 2 4 0 6-1 4-2 6-2 3-2 3-3 4-3 4-2 2-4 4-3 2-3 3-4 2-4 2-4 3-4 1-4 2-4 1-6 0-4-2-2-3-2-5 0-4 0-4 1-6 1-4 1-6 1-4 2-4 2-5 2-5 2-3 2-3 3-4 3-3 4-3 4-1 4-2 6-1 4 0zM102 168l-5 2-3 2-3 4-3 4-2 4-2 4-1 4-1 4-2 6 0 4-1 6 0 6 1 5 4 2 6 0 4-1 5-2 4-2 3-2 4-3 4-3 2-2 4-4 2-2 3-4 3-4 1-4 1-6-1-6-2-4-3-4-2-2-4-2-6-2-6 1-4 1z"/><path fill="#1000ff" fill-rule="evenodd" d="M114 158l6-1 6-1 4 2 2 4 2 5 2 5 2 4 1 4 1 6-1 6-2 4-2 4-2 4-3 4-2 3-2 3-3 4-3 3-4 3-2 2-4 2-4 3-4 2-4 2-4 3-4 1-4 2-6 1-5-2-3-3-2-3-2-5-1-5-1-6 1-6 1-6 1-4 1-4 2-5 2-4 2-4 2-4 2-4 2-3 4-4 2-3 4-3 4-2 4-1 4-1 6-1 4-1zM113 162l-5 1-6 1-4 1-4 2-4 3-2 3-2 3-3 4-2 4-2 4-1 4-2 6-1 4-1 4-1 6-1 4 0 6 1 4 2 4 3 3 4 2 5-1 5-2 4-1 4-2 4-3 4-2 3-2 3-3 4-3 2-2 3-4 3-3 2-3 3-4 2-4 1-4 1-6-1-6-1-4-2-4-3-4-2-3-4-2-4-1-5 0z"/><path fill="#0050ff" fill-rule="evenodd" d="M42 105l4 2 2 3 2 5 1 5-1 6 0 4-2 6 0 4-2 5-4 2-2-3-1-6 0-6-1-4-1-6 0-6 1-6 2-4zM126 149l6 0 4 2 2 4 0 5 1 6 1 4 2 5 1 5 1 6-1 6-2 4-2 4-2 4-2 4-3 4-2 3-2 3-3 4-3 3-4 3-3 2-3 2-4 3-4 2-4 3-4 2-4 2-4 2-4 1-6 1-5-2-3-3-2-3-2-4-2-4-1-6-1-4-1-6 1-6 0-4 1-6 1-4 2-5 2-4 2-4 2-3 3-4 3-3 3-3 3-3 3-3 3-2 4-2 5-2 5-1 4-2 5-1 5-2 4-1 4-2zM113 158l-5 1-5 1-5 2-4 1-4 3-3 2-3 4-2 2-2 4-3 4-2 4-2 4-1 4-2 5-1 5-1 4-1 6 0 6 0 6 1 4 2 4 3 4 3 3 6 1 6-2 4-1 4-2 4-3 4-2 4-2 3-2 3-2 4-3 3-3 3-4 2-2 3-4 3-4 2-3 2-4 2-5 1-4 1-6-2-6-1-4-2-4-1-4-2-5-2-3-6-2-6 1-5 1z"/><path fill="#00afff" fill-rule="evenodd" d="M38 88l4 0 4 3 2 3 2 4 2 4 2 5 2 5 0 4 1 6 0 6 0 6-1 6 0 4-1 6-1 5-2 5-1 4-2 4-5 1-4-2-3-3-2-4-1-4-2-6-1-4 0-6 0-6 0-6-1-6 0-6 0-6 1-6 1-4 2-6 2-4 2-2zM40 106l-2 4-1 4 0 6 1 6 0 4 1 6 1 6 1 4 4 0 2-4 1-4 1-6 1-4 1-6-1-6-1-4-3-4-2-2zM124 145l6-1 6 1 4 2 4 3 1 4 0 6-1 4 1 4 1 5 1 5 1 6-1 6-1 4-2 4-2 4-2 4-3 4-3 4-2 4-2 3-2 3-4 4-2 2-4 3-4 3-3 2-3 2-4 2-4 3-4 3-4 2-4 2-4 1-6 0-4-1-4-3-3-3-3-4-2-4-2-4-1-4-1-4-1-6-1-4 0-6 0-6 0-6 0-4 1-6 1-4 2-5 3-3 3-2 4-3 4-2 4-2 4-3 2-2 4-3 4-2 4-1 5-2 5-1 4-2 4-1 4-2 4-2zM124 150l-4 2-4 1-4 1-6 2-4 1-4 1-5 2-3 2-4 3-3 3-3 3-3 3-3 3-2 3-2 4-3 4-2 4-1 4-1 6-1 4-1 6 0 6 1 5 1 5 1 4 2 4 2 4 3 4 3 2 6 2 6-1 4-2 4-2 4-2 4-3 4-2 3-2 3-2 4-2 4-3 3-3 3-4 2-2 2-4 3-4 3-4 2-3 2-4 2-5 1-4 1-6-1-6-1-4-2-4-1-6-1-6 0-4-4-4-4-1-6 1z"/><path fill="#00ffef" fill-rule="evenodd" d="M36 76l6 0 4 2 2 2 3 4 2 4 2 4 1 4 2 6 1 4 1 4 2 6 0 4 1 6 0 6-1 6 0 4 0 6 0 4 2 5 3 3 4 2 5 0 4-1 4-3 3-2 3-2 6-2 4-1 4-1 5-2 5-2 3-2 5-2 4-2 4 0 5 0 5 1 4 2 4 3 2 3 2 5-1 6 0 6 0 6 1 6-1 6-1 6-1 4-1 4-2 4-2 4-3 4-3 4-2 3-2 3-2 4-3 4-3 3-3 3-3 2-4 3-4 3-3 2-3 2-4 3-4 3-3 2-4 2-5 2-4 0-5 0-5-2-4-2-2-2-3-4-3-4-2-4-2-4-2-4-1-4-1-4-1-6-1-4-1-6-1-5-1-5-1-6-1-4-2-4-2-4-3-3-2-3-3-4-2-4-1-4-2-5-1-5-1-6 0-4-1-6 0-6 0-6-1-6 0-6 1-6 0-6 1-4 2-6 1-4 1-4 3-4 3-2zM38 88l-3 4-2 4-1 4-1 6-1 6 0 6 0 6 1 6 0 6 0 6 1 6 0 4 2 5 2 5 2 3 4 3 4 1 4-2 2-5 1-4 1-4 1-6 1-5 0-5 1-6 0-6 0-6-1-6-1-4-1-4-2-5-2-4-2-3-3-4-3-2-4 0zM122 146l-4 2-4 2-4 1-4 2-5 1-5 2-4 1-4 2-4 3-2 2-4 3-4 2-4 2-4 3-3 2-3 3-2 5-1 4-1 6 0 4 0 6 0 6 0 6 1 4 1 6 1 4 1 4 2 4 2 4 3 4 3 3 4 3 4 1 6 0 4-1 4-2 4-2 4-3 4-3 4-2 3-2 3-2 4-3 4-3 2-2 4-4 2-3 2-3 2-4 3-4 3-4 2-4 2-4 2-4 1-4 1-6-1-6-1-5-1-5-1-4 1-4 0-6-1-4-4-3-4-2-6-1-6 1z"/><path fill="#00ff8f" fill-rule="evenodd" d="M36 66l4 0 6 2 3 2 3 3 2 4 2 4 2 4 2 5 1 4 1 5 1 5 1 4 2 6 1 4 1 5 0 5 0 6 0 4-1 6 2 4 3 4 4 2 6-1 4-2 4-1 6-2 4-1 4-1 5-2 4-2 3-2 4-2 6-2 4-1 6 0 4 1 4 2 4 2 4 3 2 3 3 4 1 4 0 6 0 4-1 6 0 6-1 5-1 5-1 5-2 5-1 4-2 4-3 4-2 3-2 3-3 4-2 4-3 4-2 4-2 2-4 4-2 2-4 4-3 2-3 2-4 3-3 3-3 2-4 3-4 3-4 2-4 1-5 1-3 0-6-1-4-2-4-2-3-3-3-3-2-3-3-4-2-4-2-4-2-4-1-4-2-6-1-4-1-4-2-6-1-4-1-4-1-6-2-4-1-4-2-4-2-4-2-4-2-4-2-4-2-6-1-4-1-6 0-4-1-6-1-6 0-4-1-6-1-6 0-4 0-6 0-4 1-6 1-6 1-4 1-4 2-6 1-4 2-4 3-3 4-3zM35 76l-3 3-2 4-2 5-1 4-1 5-1 5 0 6-1 6 0 6 1 6 0 6 1 6 0 6 0 4 1 6 1 4 2 5 2 5 2 3 2 3 3 4 3 4 2 4 2 4 1 4 1 6 0 4 1 6 1 5 1 5 1 4 2 6 1 4 2 4 2 4 2 4 3 4 2 2 4 3 4 2 4 1 6 0 4-1 4-1 4-2 4-3 4-3 2-2 4-2 4-3 4-3 3-2 3-3 3-3 3-3 2-3 2-4 3-4 3-4 2-3 2-4 2-3 2-5 2-5 1-4 0-6 0-6 0-6 0-6 1-6-1-6-2-4-3-3-4-3-4-1-4-1-6 0-4 1-4 2-4 2-4 2-4 2-5 1-5 1-4 2-4 1-4 2-4 3-4 2-4 1-4 0-4-3-3-3-1-5-1-5 1-6 0-4 1-6 0-6-1-6-1-4-1-4-2-6-1-4-1-4-2-6-2-4-2-3-2-3-4-3-4-2-5 1z"/><path fill="#00ff30" fill-rule="evenodd" d="M34 54l6-1 4 1 4 3 3 3 3 4 2 4 2 4 1 4 2 4 2 4 1 4 2 6 1 4 1 6 1 4 1 4 1 6 1 4 1 6 1 6 1 4 3 4 2 2 6 1 6-1 4 0 6-2 4-1 4-3 4-2 4-2 4-2 4-1 4-2 6 0 4 2 4 1 4 2 4 2 4 4 2 2 3 4 3 4 0 4 0 6 0 6 0 4-2 6-1 4-1 5-1 5-2 4-1 4-2 4-2 4-3 4-3 4-2 2-3 4-2 4-2 4-2 4-3 4-2 2-4 4-2 2-4 4-2 2-4 3-3 3-3 3-4 3-3 2-3 2-4 2-6 2-4 0-6 0-4-1-4-1-4-2-4-3-3-3-3-3-3-3-3-4-2-3-2-4-2-4-2-5-1-4-1-5-2-5-1-4-1-4-2-6-1-4-2-4-1-4-2-6-2-4-2-4-1-4-2-4-1-5-1-5-1-4-1-6 0-6-1-4-1-6-1-4-2-6-1-4-1-5-1-5 0-6 0-6 1-6 0-4 2-6 1-4 1-4 2-5 2-3 3-4 3-4 2-2 4-3 4-1zM36 66l-5 2-3 3-2 3-2 4-1 6-2 4-1 5-1 5-1 6 0 4 0 6 0 4 1 6 1 6 0 4 1 6 1 6 0 5 1 5 1 5 1 5 2 4 2 4 2 4 2 4 2 4 2 4 1 4 2 6 0 4 2 5 1 5 1 4 2 5 1 5 1 4 2 4 2 4 2 4 3 4 2 4 3 3 3 3 3 2 4 2 6 2 4 0 4 0 6-2 4-2 3-2 3-2 4-3 3-3 3-2 4-3 4-3 2-2 4-4 2-2 4-4 2-3 2-4 2-4 2-3 3-4 3-4 2-3 2-4 2-4 2-5 1-4 1-6 0-4 1-6 1-6 0-4 0-6 0-4-2-4-3-4-3-3-4-2-4-2-4-1-6-1-6 1-4 1-4 2-4 2-4 3-4 1-4 2-6 1-4 1-4 1-4 2-6 2-6-2-2-2-2-4 0-6 0-6 0-4 0-6-1-4-1-6-1-4-1-4-2-6-1-4-1-5-2-5-1-4-2-4-3-4-2-3-4-3-4-1-5-1z"/><path fill="#30ff00" fill-rule="evenodd" d="M40 32l6 0 4 0 6 2 4 2 2 2 2 6-2 6-1 4-1 6 1 6 1 4 2 4 2 5 2 4 2 5 1 4 1 6 1 4 1 6 1 4 1 5 1 5 1 5 2 5 2 2 4 3 4 1 5 0 5-1 4-2 4-2 4-3 4-2 4-2 3-2 3-4 2-4 2-3 4-3 5 2 3 2 4 4 2 4 2 3 4 3 2 2 4 4 2 2 2 4 0 6 0 5-2-4-2-3-4-4-2-2-4-3-4-2-4-2-4-1-6-1-4 1-6 2-4 2-4 2-3 2-4 2-5 2-4 1-4 1-6 1-6 0-4-3-2-2-2-5-1-5 0-6-1-4-1-6-1-4-2-6-1-4-1-6-1-4-1-4-2-4-2-5-2-5-2-4-2-3-2-3-3-4-3-3-4-2-6 0-4 1-4 2-4 4-2 3-3 3-2 4-2 4-2 4-1 5-1 5-1 4-1 6 0 6 0 6 1 6 0 4 2 6 1 4 1 4 2 6 0 4 1 6 1 6 0 4 2 6 1 4 1 4 2 5 2 4 2 5 1 4 2 4 1 4 2 6 1 4 1 4 2 5 2 5 1 4 1 5 2 5 1 4 3 4 2 4 2 2 3 4 3 3 3 3 3 2 4 3 4 2 4 1-4 0-6 0-6 0-3-2-3-2-4-4-2-2-3-4-3-3-2-3-2-4-2-5-1-5-1-4-2-6-1-4-1-4-2-6-1-4-2-4-1-4-2-4-2-6-1-4-2-4-1-4-2-6-1-4 0-6-1-6 0-4-1-6-1-5-2-5-2-4-2-4-1-4-2-4-1-4 0-6 0-6 0-6 0-6 0-6 0-6 0-6 0-6 0-6 0-5 2-5 2-4 2-3 3-3 3-3 4-2 4-1 5-2 5-1 6-1 4 0zM164 168l0 4 0 6 0 6 0 6-1 4-2 4-2 4-3 4-2 4-2 3-2 3-4 4-2 2-3 4-1 4-2 4-2 4-3 4-3 4-2 2-4 4-2 3-3 3-3 3-3 3-3 2-4 4-4 0-6 0-6 0 2-1 4-2 4-2 4-3 2-2 4-3 3-3 3-2 4-4 2-2 4-4 2-2 4-4 2-3 2-4 2-4 2-3 3-4 3-4 2-2 2-4 3-4 2-4 2-4 1-4 2-6 1-4 1-5 1-5 1-4z"/><path fill="#8fff00" fill-rule="evenodd" d="M24 2l4-2 6 0 6 0 6 0 6 0 6 0 6 0 6 0 6 0 6 0 6 0 6 0 6 0 5 0 3 4 3 2 3 2 4 2 4 2 5 2 5 2 4 1 5 1 5 2 4 2 2 2 3 4 3 4 2 4 2 4 1 4 1 4 0 6 0 6 0 6 0 6 0 6 0 6 0 6 0 6 0 6 0 6 0 6 0 6 0 6 0 6 0 6-4-4-2-2-4-4-3-2-3-4-2-3-2-3-4-3-4-3-5 2-3 3-2 4-2 4-4 3-4 2-3 2-3 2-4 2-4 2-6 2-4 0-4 0-4-2-4-4-2-4-1-4-1-6-1-4-1-6-1-4-1-5-1-5-1-5-2-5-1-4-2-4-2-4-1-4-1-6 0-6 1-5 1-5 0-6-3-4-3-2-5-1-4-1-6 0-4 0-6 1-6 1-4 1-4 1-4 2-4 3-3 3-3 4-2 4-2 4 0-2 0-6 0-6 0-6 0-6 0-6 0-6 0-6 2-3 4-2 6-1 4-1 4-1 4-2zM88 48l-6 2-4 2-3 2-3 3-2 3-2 6 1 6 2 4 2 4 2 4 1 6 0 4 2 6 1 4 1 6 1 4 1 4 2 6 2 3 4 3 4 0 4-1 4-1 4-3 3-3 3-2 3-4 2-4 1-4 2-6 0-4 1-6-1-6-1-4-1-5-2-5-2-4-2-3-2-3-3-4-3-3-4-3-3-2-5-2-4 0zM0 116l2 6 1 4 2 4 2 4 2 4 1 4 1 6 1 6 0 4 1 6 1 6 1 4 1 5 2 5 1 4 2 4 1 4 2 4 2 6 1 4 2 4 1 4 2 6 1 4 1 4 1 6 1 4 2 4 2 4 3 4 3 4 2 2 4 4 2 2 4 3-2 1-6 0-6 0-4-1-4-3-2-2-4-3-2-4-2-5-1-4-1-5-1-5-1-6 0-4-2-5-2-3-2-4-3-4-2-4-2-4-1-5-1-5 0-6-1-6 0-4-1-6 0-6 0-6 0-6 0-6-1-4-2-4-2-4 0-6 0-6 0-6 0-2zM164 191l0 5 0 6-1 4-2 4-2 4-2 4-3 3-4 3-2 2-2 4-2 6-2 4-2 4-2 4-1 4-3 4-2 3-3 3-3 4-2 3-4 1-6 0-6 0-2 0 4-4 3-2 3-3 3-3 3-3 2-3 4-4 2-2 3-4 3-4 2-4 2-4 1-4 3-4 2-2 4-4 2-3 2-3 2-4 3-4 2-4 2-4zM160 248l4 0 0 6 0 6 0 6-2 3-4-1-3-4 0-6 1-4 2-4z"/><path fill="#efff00" fill-rule="evenodd" d="M2 0l6 0 6 0 6 0 6 0-2 2-4 2-4 1-4 1-6 1-4 2-2-3 0-6zM106 0l6 0 6 0 6 0 6 0 6 0 6 0 6 0 6 0 6 0 4 2 0 6 0 6 0 6 0 6 0 6 0 6 0 6 0 2-2-5-2-5-2-4-2-3-2-3-4-4-3-2-5-2-4-1-5-1-5-2-4-1-4-2-4-2-4-2-4-3-2-3zM88 48l4 0 5 2 3 2 4 3 3 3 3 4 2 3 2 3 2 4 2 5 1 5 1 4 1 6-1 6 0 4-2 6-1 4-2 4-3 4-3 2-3 3-4 3-4 1-4 1-4 0-4-3-2-3-2-6-1-4-1-4-1-6-1-4-2-6 0-4-1-6-2-4-2-4-2-4-1-6 2-6 2-3 3-3 3-2 4-2 6-2zM87 62l-4 2-3 4-1 4 1 6 1 4 0 6 1 4 1 6 1 4 2 5 2 5 2 4 4 2 3 0 4-2 3-4 2-4 1-4 2-4 0-6 0-6-1-4-2-5-2-4-2-4-3-3-3-3-4-3-4 0zM1 138l2 4 1 4 1 6 0 6 0 6 0 6 1 6 0 6 0 4 1 6 1 6 0 4 2 4 2 4 2 4 3 4 2 4 2 4 1 5 1 5 1 6 1 4 1 4 1 6 3 4 2 3 4 3 3 2 1 2-6 0-6 0-6 0-6 0-6 0-6 0-4-2 0-6 0-6 0-6 0-6 0-6 0-6 0-6 0-6 0-6 0-6 0-6 0-6 0-6 0-6 0-6 0-6 0-6 0-6 0-6 0-6 0-6 0-6zM164 205l0 5 0 6 0 6 0 6 0 6 0 6 0 6-4 2-2 2-2 5-1 5 1 6 2 2 6 1-4 1-6 0-6 0-6 0-6 0-6 0-6 0 1-2 3-4 2-3 3-3 2-4 3-4 1-4 2-4 2-4 1-4 2-5 2-3 4-3 3-3 3-4 2-3 2-4 2-4z"/><path fill="#ffaf00" fill-rule="evenodd" d="M88 62l4 0 4 3 3 3 3 3 2 4 2 4 2 5 1 4 0 6 0 6-2 4-1 4-2 4-3 4-4 2-3 0-4-2-2-4-2-5-2-5-1-4-1-6-1-4 0-6-1-4-1-6 1-4 3-4 4-2zM91 84l-2 4 2 4 2 4 3 0 2-6-2-5-4-2z"/><path fill="#ff5000" fill-rule="evenodd" d="M92 83l4 2 2 5-2 6-3 0-2-4-2-4 2-4z"/><g fill="none" stroke-linejoin="round"><polyline points="13.0,62.0 12.0,51.4 18.0,46.9 25.7,43.8 34.8,39.3 39.3,34.8 45.4,33.3 51.4,31.8 56.0,34.8 60.5,36.3 65.0,34.8 69.5,31.8 74.0,28.7 78.6,24.2 83.0,19.0 89.0,18.1 96.6,21.2 101.0,25.7 105.7,27.2 111.7,25.7 119.3,27.2 120.0,33.3 119.3,39.3 121.6,48.4 122.3,57.5 126.8,68.0 131.4,72.6 133.0,81.6 139.0,87.7 142.0,90.7 140.5,98.3 139.0,105.8 140.5,114.9 143.5,121.0 146.5,128.5 148.0,135.0 151.5,139.0 149.0,142.5 143.5,153.0 137.4,160.7 128.4,166.8 122.3,168.3 119.3,175.8 116.3,184.9 110.2,192.5 104.2,194.0 99.6,200.0 95.0,206.0 92.0,213.6 89.0,222.7 86.0,230.0 83.0,239.0 79.0,249.0 77.0,257.0 75.6,260.5 71.0,257.5 63.5,253.0 55.9,246.9 49.9,237.8 46.9,228.7 43.8,219.7 42.3,210.6 40.8,200.0 37.8,191.0 39.3,178.8 37.8,171.3 40.0,162.2 37.8,154.7 41.0,144.0 41.0,135.0 41.0,125.0 40.5,115.0 39.5,107.0 37.0,98.0 31.0,92.0 22.0,89.5 15.0,83.0 12.5,72.0 13.0,62.0" stroke="#000" stroke-width="1.3"/><polyline points="16.6,60.5 19.7,57.5 25.7,58.2 30.2,56.0 34.8,51.4 39.3,49.9 42.3,46.9 45.4,43.8 45.4,40.8 51.4,39.3 57.5,41.6 63.5,40.8 69.5,39.3 75.6,37.8 78.6,34.8 83.0,32.5 89.0,36.3 95.0,39.3 99.6,42.3 105.7,46.9 111.7,51.4 117.8,54.4 120.0,60.5 120.8,66.5 125.3,75.6 128.4,84.7 131.4,93.7 133.0,102.8 128.4,104.3 123.8,108.9 122.3,114.9 125.3,121.0 126.8,128.5 128.4,135.0 130.0,140.0 129.0,148.0 139.0,145.0 146.5,139.0 149.0,142.0 143.5,153.0 137.4,160.7 128.4,166.8 122.3,168.3 119.3,175.8 116.3,184.9 110.2,192.5 104.2,194.0 99.6,200.0 95.0,206.0 92.0,213.6 89.0,222.7 86.0,230.0 83.0,239.0 79.0,249.0 75.6,256.5 71.0,255.5 63.5,251.0 57.5,245.4 52.9,237.8 49.9,228.7 49.9,219.7 49.9,210.6 51.4,203.0 50.6,195.5 52.2,188.0 51.4,180.4 49.9,174.3 52.9,171.3 54.4,165.0 52.9,157.7 53.7,150.0 51.4,141.0 46.9,135.0 43.8,128.5 41.6,121.0 40.8,113.4 39.3,105.8 40.0,98.3 37.8,92.2 33.3,89.2 25.7,87.7 21.2,84.7 16.6,78.6 15.9,72.6 18.1,66.5 16.6,60.5" stroke="#fff" stroke-width="2.3"/><polyline points="71.0,17.5 68.5,24.0 66.5,30.2 65.8,42.3 68.0,57.5 72.6,71.0 77.0,83.0 83.0,96.8 87.5,108.9 90.6,121.0 93.6,135.0 96.5,145.0 99.0,155.0 100.5,163.0 99.5,170.0 97.0,178.0 92.0,185.0 86.0,195.5 80.0,205.0 72.0,216.0 66.5,228.0 64.0,237.0 63.0,244.0" stroke="#fff" stroke-width="3.2"/><polyline points="43.8,150.0 60.0,150.8 83.0,152.4 97.7,152.0 112.5,149.0 128.4,144.0 139.0,141.6 147.9,138.7" stroke="#fff" stroke-width="3.2"/></g><rect x="9" y="7" width="18" height="19" fill="#fff"/><text x="12" y="21" font-family="Liberation Serif" font-size="16">e)</text><rect x="1" y="1" width="163" height="268" fill="none" stroke="#000" stroke-width="2"/></svg><canvas id="p4" width="165" height="270" style="left:0;top:0"></canvas></div>
<div class="pn" style="left:396px;top:299px;width:165px;height:270px"><svg width="165" height="270" viewBox="0 0 165 270" style="position:absolute;left:0;top:0"><path fill="#ff00ff" fill-rule="evenodd" d="M40 87l4 1 1 6-3 2-3-2 1-6z"/><path fill="#ff00ff" fill-rule="evenodd" d="M40 79l6 1 2 2 2 4 1 6 0 6-1 4-2 6-2 3-4 1-3-2-3-4-1-4-2-4 0-6 1-6 2-3 3-3zM40 88l-1 6 3 2 3-2-1-6-4-1zM60 169l4 2 3 3 1 4 0 4-4 3-4-3-2-4 0-4 1-4z"/><path fill="#ff00ff" fill-rule="evenodd" d="M40 73l6 0 4 3 2 3 2 4 1 5 1 6 0 6-1 6 0 6-1 5-1 5-3 4-4 0-4-1-4-2-4-3-2-3-2-5 0-4-1-6 0-6 0-6 1-4 2-5 2-3 4-4zM39 80l-3 3-2 3-1 6 0 6 2 4 1 4 3 4 3 2 4-1 2-3 2-6 1-4 0-6-1-6-2-4-2-2-6-1zM56 158l5 0 3 2 3 4 3 4 2 2 3 4 3 4 1 4 0 6-1 5-1 5-2 4-2 4-5 0-3-2-3-4-2-3-2-4-2-4-2-5-1-4-1-6 0-4 1-4 1-5 2-3zM59 170l-1 4 0 4 2 4 4 3 4-3 0-4-1-4-3-3-4-2z"/><path fill="#cf00ff" fill-rule="evenodd" d="M40 68l6-1 4 2 4 3 2 4 1 4 1 4 1 6 1 6 0 6 0 6 0 5 0 5 0 6 0 4 0 4 1 6 1 4 2 6 1 4 3 4 2 4 2 3 3 3 3 2 4 2 4 3 2 3 1 6-1 6 0 4-1 6-1 4-1 6-1 4-2 6-1 4-3 4-2 2-6 2-4-3-2-3-3-4-1-4-2-4-2-6-1-4-2-4-1-4-2-6-1-4-1-6 0-4 0-6 0-4 1-6 1-6 0-4 0-4-2-5-2-3-4-3-4-3-3-2-3-2-4-3-2-3-1-6 0-6 0-6 0-6 1-6 1-4 1-5 2-5 2-3 3-3 4-2zM38 74l-2 2-3 4-2 4-1 4-1 6 0 6 1 6 0 4 2 6 2 4 2 2 4 2 5 2 4 0 3-3 2-5 0-4 1-6 1-6 0-6-1-6-1-6-1-4-3-4-2-2-6-1zM56 158l-2 4-2 6 0 4 0 4 1 6 2 4 1 4 2 4 3 4 3 4 2 3 4 2 4-2 2-4 1-5 1-4 1-6-1-6-1-4-3-3-2-3-4-4-2-3-2-3-4-3-4 1z"/><path fill="#7000ff" fill-rule="evenodd" d="M38 63l6-1 6 1 4 2 3 3 2 4 2 4 1 6 1 4 0 6 1 6 0 6 0 4 0 6 1 6 0 6 0 6 1 6 1 4 1 5 2 4 2 4 2 3 4 4 4 2 4 1 4 1 4 2 4 4 2 4 1 4-1 6-1 4-1 5-2 5-1 4-2 4-1 4-2 6-1 4-2 4-3 4-2 3-2 3-4 4-4 2-5-2-3-2-3-4-3-4-2-4-2-4-1-4-1-4-2-6-1-4-1-6-1-4-1-6-1-4 0-6-1-6 0-6 1-6 0-6 0-6-1-5-2-3-4-4-2-2-4-3-4-2-4-3-2-2-2-4 0-6 0-4 1-6 0-6 1-6 1-4 1-6 1-4 2-4 2-4 3-3 4-3zM39 68l-4 2-3 3-2 3-2 5-1 5-1 4-1 6 0 6 0 6 0 6 1 6 2 3 4 3 3 2 3 2 4 3 4 3 2 3 2 5 0 4 0 4-1 6-1 6 0 4 0 6 0 4 1 6 1 4 2 6 1 4 2 4 1 4 2 6 2 4 1 4 3 4 2 3 4 3 6-2 2-2 3-4 1-4 2-6 1-4 1-6 1-4 1-6 0-4 1-6-1-6-2-3-4-3-4-2-3-2-3-3-2-3-2-4-3-4-1-4-2-6-1-4-1-6 0-4 0-4 0-6 0-5 0-5 0-6 0-6-1-6-1-6-1-4-1-4-2-4-4-3-4-2-6 1z"/><path fill="#1000ff" fill-rule="evenodd" d="M42 58l6 0 4 0 4 2 4 3 2 3 2 5 1 5 1 6 0 4 1 6 0 6 1 6 0 6 0 4 0 6 1 6 0 6 1 6 0 4 2 5 2 4 2 3 4 3 4 2 4 2 4 1 4 2 4 2 4 3 3 3 2 4 1 4 1 6-1 5-2 5-1 4-3 4-2 4-2 4-2 4-2 4-2 4-2 3-2 3-3 4-2 4-3 4-2 2-4 4-4 1-5-1-3-2-4-4-2-2-3-4-3-4-1-4-2-4-1-4-2-6-1-4-1-6 0-4-1-6-1-6 0-4-1-6 0-6 0-6 0-6 0-6 0-6-1-4-3-4-3-3-4-3-4-2-3-2-3-2-3-4-2-4 0-6 1-6 1-4 0-6 1-5 1-5 1-5 1-5 1-4 2-4 3-4 3-3 4-3 4-1 4-1zM36 64l-3 2-3 3-2 3-2 4-2 6-1 4-1 6 0 4-1 6 0 6-1 4 0 6 1 4 3 4 3 2 3 2 4 3 4 3 3 2 2 4 2 4 0 6 0 6-1 6 0 6 0 6 1 6 1 5 1 5 1 6 1 4 1 5 1 5 1 4 2 5 2 5 2 4 2 3 3 3 3 3 4 3 6-2 2-2 3-4 3-4 2-3 2-4 2-4 1-5 2-4 1-5 2-5 2-4 1-4 1-5 1-5-1-6-2-4-2-2-4-3-4-2-4-1-5-2-3-2-3-4-3-4-2-4-1-4-1-5-1-5 0-6 0-6-1-6 0-6 0-6 0-4-1-6 0-6-1-6-1-4-1-5-2-4-3-3-3-2-6-2-6 1z"/><path fill="#0050ff" fill-rule="evenodd" d="M40 54l6-1 6 0 4 1 4 2 4 3 2 3 2 5 1 5 1 6 0 5 0 5 1 6 0 6 0 6 0 6 0 6 1 6 0 4 0 6 1 6 1 4 2 4 3 4 3 2 4 2 4 2 6 2 4 2 4 1 4 3 3 2 3 4 2 3 2 4 1 5 0 6-1 6-2 4-2 4-2 2-3 4-3 4-2 3-2 3-2 4-3 4-2 4-3 3-2 3-3 4-3 4-2 3-3 3-4 2-5 1-4-2-4-2-4-3-2-2-3-4-3-4-2-3-2-4-2-5-1-4-1-4-1-6-1-6 0-4-1-6-1-6 0-4-1-6 0-6 0-6 0-6 0-6 0-6-1-4-3-4-3-3-4-3-3-2-3-2-4-3-2-3-3-4-1-6 1-6 1-5 1-5 1-6 0-4 1-6 1-4 2-6 1-4 2-4 3-4 3-2 3-2 4-2 5-2zM41 58l-5 1-4 3-3 2-3 3-2 3-2 5-2 5 0 4-1 6-1 4-1 6-1 6 0 4-1 6 1 6 2 4 2 2 4 3 4 2 4 3 3 2 3 4 2 3 1 5 0 6 0 6 0 6 0 6 0 6 1 6 0 4 1 6 1 5 1 5 1 6 1 4 1 5 2 5 1 4 3 4 2 4 2 2 4 4 2 2 4 2 6 1 4-2 2-3 3-4 3-4 2-3 2-3 3-4 2-4 2-4 2-4 2-4 2-4 2-4 3-4 1-4 1-4 1-6-1-5-2-5-2-3-3-3-3-2-4-2-4-2-6-2-4-1-4-3-2-2-3-4-2-4-1-5-1-5 0-6 0-6-1-6 0-4 0-6 0-6-1-6 0-6-1-6 0-4-1-6-1-4-2-4-3-4-3-2-6-2-4 0-5 0z"/><path fill="#00afff" fill-rule="evenodd" d="M38 50l6-1 6-1 6 1 6 1 4 2 3 2 3 4 1 4 1 4 1 6 0 6-1 6 0 4 0 6 0 4 0 6 0 6 0 6 1 6 0 6 0 6 1 5 2 5 2 4 2 2 4 3 4 2 4 1 5 2 5 2 4 1 4 3 3 2 3 3 3 3 2 4 2 4 1 4 0 6 0 4-2 6-2 4-2 3-2 3-4 4-2 2-3 4-3 4-2 3-2 3-3 4-3 4-2 2-3 4-3 4-2 3-2 3-4 3-4 3-4 0-4 0-5-2-3-2-4-3-3-3-3-3-2-3-3-4-2-4-2-4-2-4-1-5-1-5-1-6 0-4-1-6-1-6 0-6 0-4-1-6 0-6 0-6 0-6 0-6 0-6-2-4-2-4-3-2-4-3-4-3-3-2-3-3-3-3-2-4-1-4 0-5 1-5 1-6 0-4 1-6 1-5 1-5 1-6 1-4 1-4 3-4 3-4 2-2 4-3 4-2 4-2 4-1zM39 54l-5 2-4 2-3 2-3 2-3 4-2 4-1 4-2 6-1 4-1 6 0 4-1 6-1 5-1 5-1 6 1 6 3 4 2 3 4 3 3 2 3 2 4 3 3 3 3 4 1 4 0 6 0 6 0 6 0 6 0 6 1 6 0 4 1 6 1 6 0 4 1 6 1 6 1 4 1 4 2 5 2 4 2 3 3 4 3 4 2 2 4 3 4 2 4 2 5-1 4-2 3-3 2-3 3-4 3-4 2-3 3-3 2-4 3-4 2-4 2-3 2-3 3-4 3-4 2-2 2-4 2-4 1-6 0-6-1-5-2-4-2-3-3-4-3-2-4-3-4-1-4-2-6-2-4-2-4-2-3-2-3-4-2-4-1-4-1-6 0-6 0-4-1-6 0-6 0-6 0-6 0-6-1-6 0-5 0-5-1-6-1-5-2-5-2-3-4-3-4-2-4-1-6 0-6 1z"/><path fill="#00ffef" fill-rule="evenodd" d="M44 44l6-1 6 0 6 0 5 1 5 1 5 1 5 1 6-1 4-1 4-1 6-1 6 0 4 3 3 2 2 4 1 4 0 4-2 5-3 3-5 2-6-1-4-1-6-2-6 2-2 2-2 4-2 6-1 4-1 4-1 6 0 6 0 6 0 6 0 6 0 6 1 6 0 4 2 6 1 4 3 3 4 3 3 2 5 2 4 1 4 2 4 1 4 2 4 2 4 3 4 3 2 2 3 4 2 4 1 4 1 6-1 5-1 5-2 4-1 4-3 4-3 4-2 2-3 4-3 3-3 3-3 4-2 3-2 3-3 4-3 3-2 3-3 4-3 4-2 3-3 3-3 3-4 2-4 1-6 0-4-1-4-3-4-2-2-2-4-3-3-3-3-4-2-3-2-4-2-3-2-5-2-5-1-4-1-5-1-5 0-6-1-6 0-4-1-6 0-6 0-6-1-6 1-6 0-6 0-6 0-6-2-4-3-4-3-2-3-2-4-3-4-3-2-2-4-4-2-4-1-4 0-6 1-4 1-6 1-6 0-4 1-6 1-6 0-4 2-6 1-4 2-4 2-4 3-3 4-3 4-2 4-2 4-1 4-2 6-1zM37 50l-5 2-4 2-4 2-2 2-4 4-2 3-2 4-2 5 0 4-2 6 0 4-1 6-1 6 0 4-2 6 0 4 0 5 1 5 3 3 3 3 3 3 4 2 4 3 2 2 4 4 2 3 1 5 0 6 0 6 0 6 0 6 0 6 1 6 0 4 1 6 0 6 1 6 0 4 1 6 1 4 2 6 2 4 2 4 2 3 2 3 3 4 3 3 3 3 3 2 4 2 4 2 6 0 4-1 4-3 2-2 3-4 2-4 3-4 2-2 3-4 3-3 2-3 3-4 2-4 3-3 2-3 4-4 2-3 3-3 2-4 2-4 1-5 1-5-1-6-2-4-2-4-2-3-3-3-3-3-4-2-4-2-4-2-4-1-4-2-5-2-4-2-3-2-3-4-2-4-1-4-1-6 0-6-1-6 0-6 0-6 0-6 0-5 0-5 0-6 0-4 1-6 0-6-1-4-1-6-2-4-3-3-4-2-4-1-6-2-6 0-6 1-5 1z"/><path fill="#00ff8f" fill-rule="evenodd" d="M96 34l4 0 6 1 5 1 5 2 3 2 3 2 4 4 2 4 1 4 1 6-1 6-1 4-2 4-4 3-4 2-4 1-6 0-4 0-6-2-6 1-4 2-3 3-2 4-2 4-1 6 0 5 0 5-1 6 1 6 0 6 0 4 1 6 2 4 2 4 3 3 4 2 4 2 4 1 5 2 5 2 4 1 4 2 4 2 4 2 4 3 2 2 3 4 2 4 1 4 1 6-1 6-1 4-1 4-2 4-2 5-2 3-3 4-3 4-2 3-3 3-3 4-2 3-3 3-3 4-2 3-3 3-3 4-2 3-2 3-3 4-3 3-3 3-3 3-4 1-6 0-6 0-6 0-4-2-3-2-3-2-4-3-3-3-3-4-2-3-2-3-3-4-2-4-2-4-1-4-2-6-1-4-1-6 0-4-1-6 0-6-1-6 0-6 0-4 0-6 0-6 0-6 0-4 1-6-1-6-2-4-2-3-4-3-3-2-3-2-4-3-4-3-2-3 0-5 0-6 0-6 0-6 0-6 0-6 0-6 0-6 0-4 1-6 1-4 2-6 2-4 2-3 3-3 3-2 4-2 5-2 5-2 4-1 4-1 6-2 4-1 6 0 6-1 6 0 6 0 6 0 4 0 6-1 6-1 4 0zM42 44l-4 1-4 1-6 2-4 2-4 2-2 2-4 3-2 3-2 4-2 5-1 5-1 4-1 6-1 6 0 4-1 6-1 6 0 4-1 6 1 6 2 4 2 2 4 4 3 2 3 2 4 3 4 3 2 3 2 3 1 6 0 6 0 6-1 6 1 6 0 6 0 6 1 6 0 4 1 6 0 6 1 6 1 4 1 6 2 4 1 4 2 4 3 4 2 4 2 2 3 4 3 3 4 3 3 2 4 2 5 2 4 1 4-1 4-2 4-3 3-3 3-4 2-3 2-3 3-4 3-3 2-3 3-4 3-3 2-3 3-4 3-3 2-3 4-4 2-3 2-3 3-4 1-4 2-6 0-4 1-6-1-4-2-4-2-4-4-4-2-2-4-3-4-2-4-2-4-2-4-1-6-2-4-2-4-2-3-2-3-3-2-4-2-5 0-4-1-6 0-6 0-6 0-6 0-6 0-6 1-6 0-4 2-6 1-4 2-4 3-4 4-2 6 1 4 1 6 2 6-1 3-3 3-4 0-4 0-4-2-4-3-4-4-2-5-1-6 0-4 1-6 2-4 1-6-1-4-1-6-1-4 0-6-1-6 0-6 0z"/><path fill="#00ff30" fill-rule="evenodd" d="M84 26l6-1 6 0 6 1 4 1 4 1 6 2 4 2 4 2 4 2 3 2 3 3 3 3 2 4 1 4 1 6-1 6 0 4-2 6-1 4-3 4-2 2-4 3-6 1-6-1-6 0-6-1-4-1-6 0-4 2-3 3-2 4-1 4-1 6-1 6 0 6 0 4 0 4 1 6 1 5 2 4 2 3 4 4 4 2 4 1 4 2 5 1 5 1 4 1 4 2 5 2 4 2 4 2 3 3 3 3 2 4 1 4 1 6 0 6-1 4-2 6-1 4-2 4-2 4-2 4-2 4-3 4-2 3-2 3-3 4-3 4-2 3-2 3-3 4-3 4-2 2-3 4-3 4-2 3-3 3-3 4-4 0-6 0 1-2 3-3 3-3 3-4 2-2 3-4 3-4 2-3 3-3 3-4 2-3 2-3 4-4 2-3 2-3 4-4 2-3 2-3 2-4 2-4 2-5 1-5 1-4 1-6-1-5-2-5-2-4-2-2-4-3-4-3-3-2-4-2-5-2-4-1-4-1-5-2-5-2-4-2-3-2-3-4-2-4-1-4-1-6 0-4-1-6 1-6 0-6 0-4 1-6 1-6 2-4 2-4 3-2 5-2 6 1 6 1 4 0 5 0 5-2 4-2 2-3 2-4 1-5 1-6-1-6-2-4-3-4-2-2-4-3-4-2-4-1-6-2-4 0-5 0-5 0-6 1-6 1-4 0-6 0-6 0-6 0-6 1-6 1-4 1-6 1-4 1-4 2-4 1-4 2-4 2-4 3-3 3-2 4-2 4-1 4-1 6-1 4 0-4 0-6 0-6 0-6 0-6 2-3 3-3 4-2 5-2 4-1 4-1 6-2 4-1 4-1 6-1 4-1 6-1 6-1 4 0 6 0 6-1 6 0 4-1zM1 128l3 3 3 3 3 2 4 3 4 3 3 2 2 4 2 4 0 6-1 6 0 4 0 6 0 6 0 6 0 4 1 6 0 6 1 6 0 5 1 5 1 6 1 4 1 4 2 5 2 4 2 4 2 4 2 3 4 4 2 3 3 3 3 2 4 3 4 3-2 0-6 0-4 0-4-4-2-2-3-4-3-4-2-3-2-3-2-4-2-4-2-4-2-5-2-5 0-4-1-6-1-6 0-4-1-6 0-6 0-6-1-6 0-6 0-6 1-6 1-6 0-6-2-6-2-3-4-3-2-2-4-3-4-3-2-2 0-5z"/><path fill="#30ff00" fill-rule="evenodd" d="M84 12l4 0 6 1 4 1 6 2 4 1 4 2 4 1 4 2 4 2 5 2 4 2 3 2 4 3 4 3 2 2 3 4 2 4 1 5 0 5 0 6 0 6 0 4-1 6-1 5-2 5-2 3-3 3-4 2-5 1-6 0-4-1-6-2-4-1-5-1-5-1-6-1-6 2-2 2-2 4-2 6-1 4 0 6 0 6 0 6 1 6 2 4 2 3 3 3 3 2 4 2 6 2 4 1 6 1 4 1 6 1 4 1 4 1 5 2 4 2 3 3 2 3 2 4 1 6 1 6 0 3 0 5-1 6-1 4-2 4-2 5-2 5-2 4-2 3-2 4-2 3-2 4-3 4-2 4-2 4-3 4-2 3-2 3-3 4-2 4-3 4-2 3-2 3-6 0-6 0-2 0 3-4 3-3 2-3 3-4 3-4 2-2 3-4 3-4 2-3 2-3 3-4 3-4 2-3 2-3 3-4 2-4 2-4 2-4 2-4 1-4 2-6 1-4 0-6-1-6-1-4-2-4-3-3-3-3-4-2-4-2-5-2-4-2-4-1-5-1-5-1-4-2-4-1-4-2-4-4-2-3-2-4-1-5-1-6 0-4 0-4 0-6 1-6 1-6 1-4 2-4 3-3 4-2 6 0 4 1 6 1 6 0 6 1 6-1 4-3 2-2 3-4 1-4 2-6 0-4 1-6-1-6-1-4-2-4-3-3-3-3-3-2-4-2-4-2-4-2-6-2-4-1-4-1-6-1-6 0-6 1-4 1-6 0-6 1-6 0-4 0-6 1-6 1-4 1-6 1-4 1-4 1-6 2-4 1-4 1-5 2-4 2-3 3-2 1 0-6 0-6 2-3 4-2 4-1 6-2 4-1 5-1 5-1 4-1 6-2 4-1 4-1 6-2 4 0 6-1 5-1 5-1 6-1 4 0zM1 134l3 2 4 3 4 3 3 2 3 4 2 4 0 6-1 6-1 6 0 6 0 6 0 6 1 6 0 6 1 6 0 5 0 5 1 6 1 4 2 6 1 4 2 4 2 4 2 4 2 4 3 4 2 3 2 3 4 4 2 2 2 2-6 0-5 0-3-4-2-3-2-3-3-4-2-4-2-4-2-4-2-4-2-4-1-4-1-6-1-4-1-6 0-6 0-6 0-6-1-6 0-6 0-4 0-4 0-6 1-6 1-6 0-4 0-4-2-4-3-4-3-2-4-3-2-3 1-2z"/><path fill="#8fff00" fill-rule="evenodd" d="M26 1l4-1 6 0 6 0 6 0 6 0 6 0 6 0 6 0 6 0 6 0 6 0 6 0 6 0 6 0 4 2 4 2 4 1 4 1 5 2 5 2 4 1 4 1 4 2 4 2 4 4 2 2 3 4 2 4 3 4 0 4 0 6 0 6 0 6 0 6 0 6 0 6 0 6 0 6 0 6 0 6 0 6 0 6 0 6-2 3-4 2-6 0-4-1-4-3-4-2-4-3-4-2-4-2-4-2-3-2-4-2-4-2-4-2-5-1-4-1-4 0-4 3-2 4-1 5-1 5-1 5 0 6 1 4 2 5 2 3 4 4 3 2 5 2 4 1 6 0 6 1 6 0 6-1 6 0 4 1 6 1 4 2 3 3 2 4 2 4 1 6 1 4 0 6 0 6 0 6-1 6 0 4-1 6-1 4-2 6-1 4-1 4-2 4-3 4-2 4-2 4-3 4-1 4-2 4-1 4-2 4-2 4-3 4-3 4-4 0-6 0-6 0-4 0 2-3 2-3 3-4 2-4 3-4 2-3 2-3 3-4 2-4 2-4 3-4 2-4 2-3 2-4 2-3 2-4 2-5 2-5 2-4 1-4 1-6 0-5 0-3-1-6-1-6-2-4-2-3-3-3-4-2-5-2-4-1-4-1-6-1-4-1-6-1-4-1-6-2-4-2-3-2-3-3-2-3-2-4-1-6 0-6 0-6 0-6 1-4 2-6 2-4 2-2 6-2 6 1 5 1 5 1 4 1 6 2 4 1 6 0 5-1 4-2 3-3 2-3 2-5 1-5 1-6 0-4 0-6 0-6 0-5-1-5-2-4-3-4-2-2-4-3-4-3-3-2-4-2-5-2-4-2-4-2-4-1-4-2-4-1-6-2-4-1-6-1-4 0-4 0-6 1-5 1-5 1-6 1-4 0-6 2-4 1-4 1-6 2-4 1-5 1-5 1-4 1-6 2-4 1-4 2-2 1 0-6 0-6 0-6 2-3 4-3 4-2 4-1 4-1 6-2zM0 138l4 2 4 4 2 2 3 4 1 4 0 4-1 6-1 6 0 6 0 4 0 4 0 6 0 6 1 6 0 6 0 6 1 6 0 4 1 6 1 4 2 5 2 4 2 4 2 4 2 3 2 4 3 4 3 4 2 3-2 1-6 0-5 0-3-4-2-2-4-3-2-3-3-4-1-4-1-6-1-4 0-6-1-6 0-6 0-6 0-6 0-6 0-6 0-6 0-6 0-6 0-6 1-6 0-4 1-6 0-6-2-4-3-3-2-3 0-4zM160 256l4 0 0 6 0 5-6-1-1-4 1-4z"/><path fill="#efff00" fill-rule="evenodd" d="M2 0l6 0 6 0 6 0 6 0 2 1-4 1-6 2-4 1-4 1-4 2-4 3-2 1 0-6 0-6zM110 0l6 0 6 0 6 0 6 0 6 0 6 0 6 0 6 0 6 0 0 6 0 6 0 6 0 6 0 6 0 5-2-4-2-3-3-4-3-4-2-2-4-3-4-2-4-1-5-2-5-2-4-1-4-1-5-2-5-2-4-2zM96 96l5 0 5 1 4 1 4 2 4 2 4 3 4 2 4 2 4 2 4 3 4 2 3 2 4 2 5 2 6-1 4-3 0 2 0 6 0 6 0 6 0 6 0 6 0 6 0 6 0 6 0 6 0 6 0 6 0 6 0 6 0 6 0 6 0 6 0 6 0 6 0 6 0 6 0 6 0 6-2 3-4 3-1 4 1 4 6 1-2 3-6 0-6 0-6 0-6 0-6 0-2-2 2-3 2-3 2-4 2-4 2-6 1-4 3-4 2-4 2-4 2-3 2-4 2-4 2-5 1-4 1-4 1-6 1-5 0-5 1-6 0-6 0-6-1-6 0-4-2-6-2-4-2-4-4-2-4-1-4-1-6-1-6 0-6 1-6 0-6-1-6-1-4-1-4-2-4-3-2-2-3-4-1-4-1-6 1-6 0-4 1-6 2-4 2-4 3-2zM96 106l-3 4-1 4-1 6 0 6 2 4 3 4 2 2 4 2 5 2 5 0 4 0 5-2 3-2 3-4 0-6-1-4-2-4-3-4-3-2-4-3-4-2-5-1-5-2-4 2zM1 144l3 3 2 3 1 6-1 6 0 4-1 6 0 6 0 6 0 6 0 6 0 6 0 6 0 6 0 6 0 6 0 6 1 6 0 4 1 6 2 4 1 4 3 4 3 2 4 4 2 2-2 2-6 0-6 0-6 0-2-4 0-6 0-6 0-6 0-6 0-6 0-6 0-6 0-6 0-6 0-6 0-6 0-6 0-6 0-6 0-6 0-6 0-6 0-6 0-6 0-6 1-2z"/><path fill="#ffaf00" fill-rule="evenodd" d="M96 106l6-1 4 1 6 2 4 2 3 2 3 4 2 3 2 5 1 4-1 5-2 3-4 2-6 2-4 0-4 0-5-2-3-2-4-4-2-3-1-5 0-6 1-4 2-6 2-2zM101 114l-3 2-2 6 2 5 2 3 5 2 3 0 4-2 2-6-2-6-2-2-5-2-4 0z"/><path fill="#ff5000" fill-rule="evenodd" d="M102 114l4 0 4 2 3 4 1 6-2 4-4 2-4 0-4-2-3-4 0-6 1-4 4-2z"/><g fill="none" stroke-linejoin="round"><polyline points="13.0,62.0 12.0,51.4 18.0,46.9 25.7,43.8 34.8,39.3 39.3,34.8 45.4,33.3 51.4,31.8 56.0,34.8 60.5,36.3 65.0,34.8 69.5,31.8 74.0,28.7 78.6,24.2 83.0,19.0 89.0,18.1 96.6,21.2 101.0,25.7 105.7,27.2 111.7,25.7 119.3,27.2 120.0,33.3 119.3,39.3 121.6,48.4 122.3,57.5 126.8,68.0 131.4,72.6 133.0,81.6 139.0,87.7 142.0,90.7 140.5,98.3 139.0,105.8 140.5,114.9 143.5,121.0 146.5,128.5 148.0,135.0 151.5,139.0 149.0,142.5 143.5,153.0 137.4,160.7 128.4,166.8 122.3,168.3 119.3,175.8 116.3,184.9 110.2,192.5 104.2,194.0 99.6,200.0 95.0,206.0 92.0,213.6 89.0,222.7 86.0,230.0 83.0,239.0 79.0,249.0 77.0,257.0 75.6,260.5 71.0,257.5 63.5,253.0 55.9,246.9 49.9,237.8 46.9,228.7 43.8,219.7 42.3,210.6 40.8,200.0 37.8,191.0 39.3,178.8 37.8,171.3 40.0,162.2 37.8,154.7 41.0,144.0 41.0,135.0 41.0,125.0 40.5,115.0 39.5,107.0 37.0,98.0 31.0,92.0 22.0,89.5 15.0,83.0 12.5,72.0 13.0,62.0" stroke="#000" stroke-width="1.3"/><polyline points="16.6,60.5 19.7,57.5 25.7,58.2 30.2,56.0 34.8,51.4 39.3,49.9 42.3,46.9 45.4,43.8 45.4,40.8 51.4,39.3 57.5,41.6 63.5,40.8 69.5,39.3 75.6,37.8 78.6,34.8 83.0,32.5 89.0,36.3 95.0,39.3 99.6,42.3 105.7,46.9 111.7,51.4 117.8,54.4 120.0,60.5 120.8,66.5 125.3,75.6 128.4,84.7 131.4,93.7 133.0,102.8 128.4,104.3 123.8,108.9 122.3,114.9 125.3,121.0 126.8,128.5 128.4,135.0 130.0,140.0 129.0,148.0 139.0,145.0 146.5,139.0 149.0,142.0 143.5,153.0 137.4,160.7 128.4,166.8 122.3,168.3 119.3,175.8 116.3,184.9 110.2,192.5 104.2,194.0 99.6,200.0 95.0,206.0 92.0,213.6 89.0,222.7 86.0,230.0 83.0,239.0 79.0,249.0 75.6,256.5 71.0,255.5 63.5,251.0 57.5,245.4 52.9,237.8 49.9,228.7 49.9,219.7 49.9,210.6 51.4,203.0 50.6,195.5 52.2,188.0 51.4,180.4 49.9,174.3 52.9,171.3 54.4,165.0 52.9,157.7 53.7,150.0 51.4,141.0 46.9,135.0 43.8,128.5 41.6,121.0 40.8,113.4 39.3,105.8 40.0,98.3 37.8,92.2 33.3,89.2 25.7,87.7 21.2,84.7 16.6,78.6 15.9,72.6 18.1,66.5 16.6,60.5" stroke="#fff" stroke-width="2.3"/><polyline points="71.0,17.5 68.5,24.0 66.5,30.2 65.8,42.3 68.0,57.5 72.6,71.0 77.0,83.0 83.0,96.8 87.5,108.9 90.6,121.0 93.6,135.0 96.5,145.0 99.0,155.0 100.5,163.0 99.5,170.0 97.0,178.0 92.0,185.0 86.0,195.5 80.0,205.0 72.0,216.0 66.5,228.0 64.0,237.0 63.0,244.0" stroke="#fff" stroke-width="3.2"/><polyline points="43.8,150.0 60.0,150.8 83.0,152.4 97.7,152.0 112.5,149.0 128.4,144.0 139.0,141.6 147.9,138.7" stroke="#fff" stroke-width="3.2"/></g><rect x="9" y="7" width="18" height="19" fill="#fff"/><text x="12" y="21" font-family="Liberation Serif" font-size="16">f)</text><rect x="1" y="1" width="163" height="268" fill="none" stroke="#000" stroke-width="2"/></svg><canvas id="p5" width="165" height="270" style="left:0;top:0"></canvas></div>
<div class="pn" style="left:26px;top:576px;width:166px;height:269px"><svg width="166" height="269" viewBox="0 0 166 269" style="position:absolute;left:0;top:0"><path fill="#7000ff" fill-rule="evenodd" d="M70 200l5 0 3 2 2 4 0 6-1 4-3 3-6-1-2-2-2-4-1-6 2-4 3-2z"/><path fill="#1000ff" fill-rule="evenodd" d="M68 189l6-1 4 2 4 3 2 3 2 4 2 5 1 5-1 6-1 4-2 4-3 4-3 2-5 1-4-2-4-3-2-3-3-3-1-4-2-6 1-6 1-5 2-4 2-3 4-3zM69 200l-3 4-1 4 1 5 2 4 4 2 6-1 2-4 1-4-1-4-2-4-4-3-5 1z"/><path fill="#0050ff" fill-rule="evenodd" d="M70 178l4 0 5 2 3 3 3 3 3 3 2 3 2 4 2 5 1 5 1 6-1 6-1 4-2 5-2 3-3 4-3 3-4 3-4 1-4-1-4-2-4-4-2-3-2-3-2-4-2-4-2-5-1-5 0-6 1-6 1-4 2-4 3-4 2-3 3-3 4-2zM67 190l-3 2-3 4-1 4-2 6 1 6 1 5 2 4 2 3 4 4 3 2 5 1 4-1 4-4 2-3 2-5 1-4-1-6 0-4-2-5-2-3-3-4-3-2-6-2-5 2z"/><path fill="#00afff" fill-rule="evenodd" d="M64 166l6-2 5 2 3 2 4 3 3 3 3 4 2 2 3 4 3 4 2 4 2 4 1 4 1 4 1 6-1 6-1 4-1 5-2 5-2 3-2 4-3 3-3 4-3 2-3 2-6 2-6-1-4-3-3-2-3-4-2-3-2-4-2-4-2-5-2-4-1-4-1-6 0-6 1-6 1-6 1-4 1-4 2-4 2-4 2-4 3-4 3-2zM69 178l-4 2-3 3-2 3-3 4-2 4-1 4-1 6 0 6 1 5 2 5 2 4 2 4 2 3 2 3 4 4 4 2 4 1 4-1 4-3 3-3 3-4 2-3 2-5 1-4 1-6-1-6-1-5-2-5-2-4-2-3-3-3-3-3-3-3-5-2-4 0z"/><path fill="#00ffef" fill-rule="evenodd" d="M38 62l6 0 4 1 4 3 2 3 2 5 0 6-1 6-1 4-2 6-2 4-2 4-2 3-3 3-5 0-3-2-3-4-2-4-2-4-1-4-1-4-1-6 0-6 1-4 2-4 4-4 4-2zM62 149l6 0 4 2 3 3 3 3 3 3 3 3 3 3 3 3 3 3 3 3 2 3 3 4 3 4 2 4 2 4 1 4 1 6 0 6-1 6-1 6-1 4-2 4-2 4-2 4-3 4-2 3-3 3-3 3-4 3-4 2-4 2-4 0-4 0-4-2-4-3-3-3-3-3-2-3-2-4-2-5-2-5-1-4-2-4-1-5-1-5 0-6 0-6 0-6 1-5 1-5 1-5 1-5 1-4 2-4 2-5 2-4 2-3 4-4zM64 166l-4 3-2 3-2 4-2 4-2 5-2 5-1 4-1 6 0 6 0 6 2 6 1 4 2 4 2 4 2 4 2 4 3 4 2 3 4 3 4 1 6 0 4-1 4-3 4-3 2-3 2-3 3-4 2-4 1-4 2-6 0-4 0-6 0-4-1-6-2-4-2-4-3-4-2-3-2-3-3-4-3-3-4-3-2-2-4-3-6-1-4 2z"/><path fill="#00ff8f" fill-rule="evenodd" d="M32 52l6-1 6 1 4 1 4 1 4 2 4 3 3 3 1 4 2 6 0 6-1 6-1 6-1 4-1 6 0 4-1 6 0 6 1 6 1 4 1 4 3 4 3 3 4 3 2 2 3 4 2 4 3 4 2 2 4 3 4 3 2 2 4 3 3 3 3 3 3 3 3 4 2 3 2 4 1 5 1 4 1 6-1 6 0 5-1 5-1 5-2 5-2 4-2 4-2 4-2 3-2 3-3 4-3 3-3 3-3 2-4 3-4 3-4 2-4 1-6 0-4-1-4-2-4-3-3-3-3-3-2-3-2-4-2-4-2-4-2-6-1-4-1-4-2-6-1-4 0-6-1-6 0-6 0-4 0-4 1-6 0-6 1-4 1-6 1-4 2-6 1-4 1-6-1-6-3-4-2-2-4-3-4-3-2-2-4-3-3-3-2-4-1-4-1-6 0-6-1-5-1-5 0-6 0-6 0-6 1-5 2-5 2-4 2-3 4-3 4-2zM37 62l-5 2-2 2-3 4-1 4-1 6 0 6 1 4 2 6 2 4 2 4 2 3 4 3 4 0 3-2 3-4 2-4 2-4 1-4 1-4 1-6 1-6-1-6-3-4-3-2-5-2-4 0zM61 150l-3 2-3 4-2 4-2 4-2 4-1 4-2 6-1 4-1 6-1 4 0 6 0 6 0 6 1 6 1 4 1 4 2 6 1 4 2 4 2 4 3 4 2 3 2 3 4 3 4 2 4 1 4 0 6-2 4-2 3-2 3-3 3-3 3-4 2-3 2-3 2-4 2-4 2-6 1-4 1-6 0-6-1-6-1-5-2-5-2-4-2-3-2-3-3-4-3-3-3-3-3-3-3-3-3-3-3-3-3-3-3-3-3-2-6-1z"/><path fill="#00ff30" fill-rule="evenodd" d="M92 36l6 0 4 1 4 1 4 2 4 4 2 2 2 4 2 6 0 2-1 6-3 3-6-1-4 0-6-1-6 0-6-1-4 0-4 1-2 4-1 5-1 4-2 6-1 4-1 5-1 5 0 6 0 6 0 6 1 6 1 4 2 4 3 4 2 3 2 3 2 4 3 4 3 3 4 2 4 2 4 2 4 1 5 2 5 1 4 2 4 2 4 3 2 4 0 4 1 6 0 6-1 6 0 4-1 6-1 6-1 4-1 6-1 4-2 4-2 4-2 4-2 4-3 4-2 4-2 3-2 3-4 4-2 2-4 4-3 2-3 2-6 0-6 0-6 0-6 0-6 0-6 0-5 0-3-4-2-2-3-4-2-4-2-4-2-4-2-4-1-4-2-6-1-4-1-4-1-6-1-4-1-6-1-6 0-6 0-6 0-6 1-6 0-6 1-4 1-6 1-4 1-6-1-5-2-4-2-3-4-3-3-3-3-2-4-3-4-3-2-3-2-5 0-4 0-4 0-6 0-6 0-6 0-6 0-6 0-6 0-6 1-6 1-5 2-5 2-4 2-2 4-3 4-1 6-2 6 0 6 0 6 1 6 1 4 1 4 2 4 1 4 2 4 2 6 1 3-3 2-4 3-4 2-2 4-2zM31 52l-5 2-3 2-3 4-2 3-2 5-1 4 0 6 0 6 0 6 1 6 0 4 1 6 0 6 1 4 2 5 2 3 4 3 4 3 3 2 3 2 4 4 2 2 2 6-1 6-1 5-1 5-1 4-2 6 0 4-1 6-1 6 0 6 0 2 0 6 1 6 0 6 1 5 1 5 1 4 2 6 1 4 2 4 2 4 2 4 2 4 3 3 3 3 3 3 4 2 4 2 6 0 6-1 3-2 4-2 3-2 4-3 3-3 3-3 2-3 3-4 3-4 2-4 2-4 2-4 2-4 1-4 1-6 0-4 1-6-1-6 0-4-2-6-1-4-3-4-2-3-3-3-3-3-3-3-3-2-4-4-3-2-3-3-4-3-2-3-2-3-3-4-3-4-3-2-3-3-2-3-3-4-1-5-1-5 0-6 1-6 0-4 1-6 1-6 1-4 1-6 0-6-1-6-1-4-3-4-3-3-4-2-4-2-4-1-6-1-6 0z"/><path fill="#30ff00" fill-rule="evenodd" d="M84 20l6-1 6 0 4 2 4 1 5 2 5 1 4 1 4 2 5 2 4 2 3 2 4 4 2 3 2 3 2 5 1 5 1 4 1 6 1 4 1 6 1 6 0 4 0 6 1 6 0 6 0 6 1 6 0 4 1 6 1 6 0 6 0 4 1 6 1 6 0 4 0 6 0 4-2 6-2 4-1 4-2 4-1 4-2 5-2 5-1 4-1 4-2 6-2 4-1 4-2 4-1 4-2 4-2 4-2 4-2 4-3 4-2 4-2 4-3 4-2 3-2 3-4 2-6 0-6 0-2-1 4-3 2-2 4-4 2-2 3-4 3-4 2-3 2-3 2-4 2-4 2-4 2-4 2-6 1-4 1-5 1-5 1-6 0-4 1-6 0-6 0-6-1-5-2-5-2-2-4-3-4-1-6-2-4-1-4-1-4-2-5-2-3-2-4-3-3-3-2-4-2-4-3-4-2-3-2-3-2-5-1-5 0-6 0-6 0-6 1-6 1-4 1-5 2-5 0-4 2-6 1-4 3-2 6 0 4 1 6 0 6 1 4 0 6 1 4-2 2-5 0-2-1-6-2-4-3-4-2-2-4-3-4-1-5-2-5-1-4 1-4 2-4 4-2 4-2 3-4 2-4-1-4-2-4-2-5-2-5-2-4 0-6-1-6-1-6 0-6 1-5 1-4 2-3 2-3 4-2 4-1 4-1 6-1 6 0 6 0 6 0 6 0 6 0 6 0 6 0 5 0 4 1 5 1 4 4 4 3 2 3 2 4 3 4 3 2 2 3 4 1 4 1 6-1 4-1 6-1 4-1 6-1 6 0 6 0 6 0 6 1 6 0 6 1 4 1 6 1 4 1 6 1 4 2 5 2 5 2 4 2 4 2 4 2 3 2 3 3 4 1 2-6 0-6 0-2-2-3-4-3-4-2-4-2-3-2-3-2-4-2-6-1-4-1-4-1-6-1-4-1-6-1-6 0-5 0-5 0-6 0-6 0-4 1-6 0-6 1-4 1-6 1-4 0-6-1-4-3-4-2-2-4-3-4-3-3-2-1-4 0-6 0-6 0-6 0-6 0-6 0-6 0-6 0-6 0-6 0-6 0-6 0-6 0-6 0-6 0-6 2-4 3-2 4-2 5-1 4-1 6-1 6-1 4-1 6 0 6 0 6 0 6 0 6 0 6 0 4-1 4-2 5-2zM93 80l-5 1-4 3-2 3-2 4-1 5-1 6 1 6 0 6 1 6 1 4 2 4 3 4 2 4 2 3 3 3 5 1 4-1 4-3 2-3 2-5 1-5 1-5 1-5 0-6-1-6-1-4-1-5-2-4-2-3-3-4-3-2-6-2z"/><path fill="#8fff00" fill-rule="evenodd" d="M16 1l4-1 6 0 6 0 6 0 6 0 6 0 6 0 6 0 6 0 6 0 6 0 6 0 6 0 6 0 6 0 6 0 6 0 6 0 6 0 6 0 6 0 6 0 6 0 6 0 3 2 0 6-1 6-1 4 0 6 1 4 2 6 1 4 2 4 1 5 0 5 0 6 0 6 0 6 0 6 0 6 0 6 0 6 0 6 0 6 0 6 0 6 0 6 0 6 0 6 0 6 0 6 0 6 0 6 0 6 0 6 0 6 0 6 0 6-2 4-2 4-2 4-1 4-1 6-1 4-1 6-1 4-2 4-1 4-3 4-3 4-2 2-2 6-1 4-1 5-2 4-2 3-4 2-6 0-6 0-6 0-4 0 2-3 3-3 2-4 3-4 2-3 2-4 2-4 2-3 2-4 2-4 2-5 2-5 1-4 2-4 2-4 1-4 2-6 1-4 1-4 2-5 2-5 1-4 2-4 2-4 1-6 0-4 0-6 0-4-1-6-1-6 0-4-1-6 0-6-1-6 0-4-1-6 0-6 0-6-1-6 0-6 0-4-1-6-1-4-1-6-1-5-1-5-1-4-2-4-2-4-4-4-2-2-4-3-4-2-4-1-6-2-4-1-4-1-5-2-5-2-4-1-6 0-5 1-5 2-4 2-4 1-6 0-6 0-6 0-6 0-6 0-6 0-4 1-6 1-6 1-4 1-5 1-4 2-3 2-2-2 0-6 0-6 0-6 0-4 4-2 4-3 4-2 4-2zM94 80l4 1 4 2 2 3 3 4 2 4 2 4 1 6 1 4 0 6-1 6 0 4-2 6-1 4-2 4-3 3-4 2-6 0-3-3-3-4-2-4-2-3-2-4-2-5-1-4 0-6-1-6 0-6 2-6 1-4 3-4 3-2 5-2zM92 92l-4 2-2 5 0 3 2 6 1 4 3 3 5-1 1-4 1-6-1-6-1-4-4-2zM1 132l3 2 4 3 4 3 2 2 3 4 1 4 0 6-1 4-1 6-1 4 0 6-1 6 0 4 0 6 0 6 0 5 0 5 1 6 1 6 1 4 1 6 1 4 1 4 2 6 2 4 2 3 2 3 2 4 3 4 3 4 0 2-6 0-6 0-6 0-4-2-2-2-4-4-2-4-1-4-1-4-2-6-1-4-1-6 0-4 0-6 0-6 0-6 0-6 0-6 0-6 0-5 0-5 1-6 1-6 0-4 2-6 0-4 0-6-1-4-3-2 0-6 0-6zM158 244l5 0 3 3 0 5 0 6 0 6-2 4-3 0-4-2-2-4 0-6 1-6 1-4z"/><path fill="#efff00" fill-rule="evenodd" d="M2 0l6 0 6 0 2 1-4 2-4 2-4 3-4 2 0-2 0-6zM160 0l6 0 0 6 0 6 0 6 0 6 0 6 0 6 0 6 0 5-1-5-2-4-1-4-2-6-1-4 0-6 1-4 1-6 0-6-1-2zM92 92l4 1 2 4 1 5 0 6-1 4-4 4-4-3-2-4-1-5-1-4 1-4 3-3zM0 144l4 4 1 4-1 6-1 4-1 6-1 4 0 6-1 6 0 2 0-6 0-6 0-6 0-6 0-6 0-6 0-6zM166 190l0 4 0 6 0 6 0 6 0 6 0 6 0 6 0 6 0 6 0 5-3-3-5 0-2 4 0 4-1 6 0 6 3 3 2 1-6 0-6 0-6 0-6 0 0-2 3-4 1-4 2-6 1-4 1-4 4-4 2-3 2-4 2-5 1-4 1-4 2-6 0-4 2-6 1-4 2-4 2-4zM0 230l1 6 1 4 1 6 1 4 2 5 2 4 2 3 4 4 2 2-4 0-6 0-6 0 0-6 0-6 0-6 0-6 0-6 0-6 0-2zM164 268l2-2 0 2-2 0-2 0 2 0z"/><g fill="none" stroke-linejoin="round"><polyline points="13.0,62.0 12.0,51.4 18.0,46.9 25.7,43.8 34.8,39.3 39.3,34.8 45.4,33.3 51.4,31.8 56.0,34.8 60.5,36.3 65.0,34.8 69.5,31.8 74.0,28.7 78.6,24.2 83.0,19.0 89.0,18.1 96.6,21.2 101.0,25.7 105.7,27.2 111.7,25.7 119.3,27.2 120.0,33.3 119.3,39.3 121.6,48.4 122.3,57.5 126.8,68.0 131.4,72.6 133.0,81.6 139.0,87.7 142.0,90.7 140.5,98.3 139.0,105.8 140.5,114.9 143.5,121.0 146.5,128.5 148.0,135.0 151.5,139.0 149.0,142.5 143.5,153.0 137.4,160.7 128.4,166.8 122.3,168.3 119.3,175.8 116.3,184.9 110.2,192.5 104.2,194.0 99.6,200.0 95.0,206.0 92.0,213.6 89.0,222.7 86.0,230.0 83.0,239.0 79.0,249.0 77.0,257.0 75.6,260.5 71.0,257.5 63.5,253.0 55.9,246.9 49.9,237.8 46.9,228.7 43.8,219.7 42.3,210.6 40.8,200.0 37.8,191.0 39.3,178.8 37.8,171.3 40.0,162.2 37.8,154.7 41.0,144.0 41.0,135.0 41.0,125.0 40.5,115.0 39.5,107.0 37.0,98.0 31.0,92.0 22.0,89.5 15.0,83.0 12.5,72.0 13.0,62.0" stroke="#000" stroke-width="1.3"/><polyline points="16.6,60.5 19.7,57.5 25.7,58.2 30.2,56.0 34.8,51.4 39.3,49.9 42.3,46.9 45.4,43.8 45.4,40.8 51.4,39.3 57.5,41.6 63.5,40.8 69.5,39.3 75.6,37.8 78.6,34.8 83.0,32.5 89.0,36.3 95.0,39.3 99.6,42.3 105.7,46.9 111.7,51.4 117.8,54.4 120.0,60.5 120.8,66.5 125.3,75.6 128.4,84.7 131.4,93.7 133.0,102.8 128.4,104.3 123.8,108.9 122.3,114.9 125.3,121.0 126.8,128.5 128.4,135.0 130.0,140.0 129.0,148.0 139.0,145.0 146.5,139.0 149.0,142.0 143.5,153.0 137.4,160.7 128.4,166.8 122.3,168.3 119.3,175.8 116.3,184.9 110.2,192.5 104.2,194.0 99.6,200.0 95.0,206.0 92.0,213.6 89.0,222.7 86.0,230.0 83.0,239.0 79.0,249.0 75.6,256.5 71.0,255.5 63.5,251.0 57.5,245.4 52.9,237.8 49.9,228.7 49.9,219.7 49.9,210.6 51.4,203.0 50.6,195.5 52.2,188.0 51.4,180.4 49.9,174.3 52.9,171.3 54.4,165.0 52.9,157.7 53.7,150.0 51.4,141.0 46.9,135.0 43.8,128.5 41.6,121.0 40.8,113.4 39.3,105.8 40.0,98.3 37.8,92.2 33.3,89.2 25.7,87.7 21.2,84.7 16.6,78.6 15.9,72.6 18.1,66.5 16.6,60.5" stroke="#fff" stroke-width="2.3"/><polyline points="71.0,17.5 68.5,24.0 66.5,30.2 65.8,42.3 68.0,57.5 72.6,71.0 77.0,83.0 83.0,96.8 87.5,108.9 90.6,121.0 93.6,135.0 96.5,145.0 99.0,155.0 100.5,163.0 99.5,170.0 97.0,178.0 92.0,185.0 86.0,195.5 80.0,205.0 72.0,216.0 66.5,228.0 64.0,237.0 63.0,244.0" stroke="#fff" stroke-width="3.2"/><polyline points="43.8,150.0 60.0,150.8 83.0,152.4 97.7,152.0 112.5,149.0 128.4,144.0 139.0,141.6 147.9,138.7" stroke="#fff" stroke-width="3.2"/></g><rect x="9" y="7" width="18" height="19" fill="#fff"/><text x="12" y="21" font-family="Liberation Serif" font-size="16">g)</text><rect x="1" y="1" width="164" height="267" fill="none" stroke="#000" stroke-width="2"/></svg><canvas id="p6" width="166" height="269" style="left:0;top:0"></canvas></div>
<div class="pn" style="left:211px;top:576px;width:165px;height:269px"><svg width="165" height="269" viewBox="0 0 165 269" style="position:absolute;left:0;top:0"><path fill="#1000ff" fill-rule="evenodd" d="M88 203l5 1 1 4-1 4-3 4-2 2-4 0-2-6 2-4 3-4z"/><path fill="#0050ff" fill-rule="evenodd" d="M88 193l6-1 4 2 3 4 2 4 0 6-1 4-3 4-3 4-2 3-2 3-4 4-4 1-4-1-3-4-1-4-1-6 1-6 2-4 2-4 2-3 2-3 4-3zM87 204l-3 4-2 4 2 6 4 0 2-2 3-4 1-4-1-4-5-1z"/><path fill="#00afff" fill-rule="evenodd" d="M88 185l6-1 6 2 2 2 4 4 2 4 1 4 1 6-1 6-1 4-2 4-3 4-3 3-2 4-2 3-3 4-3 2-6 1-4-1-5-2-3-3-2-5-1-4 0-6 0-6 1-5 2-5 2-4 2-4 2-3 3-3 3-3 4-2zM87 194l-3 2-3 4-2 4-2 4-2 4 0 6 1 4 2 6 2 2 6 1 4-2 2-3 3-4 3-4 2-3 2-4 1-5-1-6-2-4-2-2-6-2-5 2z"/><path fill="#00ffef" fill-rule="evenodd" d="M86 177l6-1 6 1 4 2 4 3 2 2 4 4 2 4 2 4 1 4 0 6-1 6-1 4-1 4-2 4-2 4-3 4-2 4-3 4-2 2-4 4-3 2-5 2-2 0-6-1-4-2-4-3-3-2-3-4-2-4-1-4-1-6 0-4 0-5 1-5 1-5 2-5 2-4 2-4 2-4 2-2 4-4 3-2 3-2zM86 186l-3 2-3 3-3 3-2 4-2 4-2 4-1 4-1 6 0 6 1 6 0 4 3 4 3 2 4 2 6 1 4-1 4-3 2-3 3-4 2-4 3-4 2-3 2-4 1-5 1-6-1-6-2-4-3-4-2-2-4-3-6-1-6 2z"/><path fill="#00ff8f" fill-rule="evenodd" d="M90 166l6 0 4 1 4 1 4 2 4 4 2 2 4 4 2 4 2 3 2 5 1 4 0 6 0 6-1 4-2 6-1 4-2 4-2 4-2 4-2 4-3 4-2 2-3 4-3 3-4 3-3 2-4 2-5 1-6 0-4-2-4-2-4-3-2-3-3-3-2-4-3-4-1-4-1-4-1-6-1-6 0-6 1-6 1-6 1-4 2-4 2-4 2-4 3-4 2-2 4-3 4-3 3-2 4-2 5-2zM84 178l-3 2-3 2-4 4-2 2-2 4-2 4-2 4-2 5-1 5-1 5 0 5 0 4 1 6 1 4 2 4 3 4 3 2 4 3 4 2 6 1 2 0 5-2 3-2 4-4 2-2 3-4 2-4 3-4 2-4 2-4 1-4 1-4 1-6 0-6-1-4-2-4-2-4-4-4-2-2-4-3-4-2-6-1-6 1z"/><path fill="#00ff30" fill-rule="evenodd" d="M36 46l6-2 6 0 6 1 4 1 4 4 1 4 0 6-1 5-1 5-1 4-1 6-1 4-2 6-1 4-1 4-2 6-1 4-1 5-2 5-2 4-4 2-2 0-6-2-3-2-3-2-3-4-2-4-1-4-1-6 0-6 0-6-1-6 0-4 0-6 0-4 1-6 1-4 2-4 3-4 3-2 5-2zM70 152l6 0 4 1 4 1 6 1 6 0 6 0 6 1 4 0 6 2 4 2 2 2 3 4 2 4 2 4 2 4 1 5 1 5 1 6-1 6-1 6-1 4-1 5-2 5-2 4-1 4-2 4-2 4-2 4-3 4-2 3-2 3-4 4-2 2-4 4-2 2-4 3-4 2-4 1-6 0-6 0-6 0-4-2-3-2-3-3-3-3-2-4-2-4-2-4-3-4-2-4-1-4-1-5-1-5 0-6-1-6 0-6 0-6 1-6 1-6 1-4 1-4 2-4 2-4 3-4 3-4 2-2 3-4 3-3 3-3zM89 166l-5 2-4 2-4 2-3 2-3 2-4 4-2 3-2 3-2 4-2 4-2 6-1 4-1 6 0 6 1 6 0 6 1 4 2 5 2 4 2 3 3 4 3 4 3 2 3 2 4 2 6 1 6-1 4-1 4-3 3-2 3-3 3-3 3-4 2-3 2-3 2-4 2-4 2-4 2-5 2-5 0-4 1-6 0-6-1-5-2-5-2-4-2-4-2-2-4-4-2-2-4-3-4-2-6-1-4 0z"/><path fill="#30ff00" fill-rule="evenodd" d="M82 21l6-1 6 0 6 2 4 1 4 2 4 1 4 2 4 3 4 3 2 2 3 4 2 4 2 4 2 4 1 5 1 5 1 6 1 4 1 4 2 6 0 4 1 6 0 6 0 6 1 5 1 5 2 4 1 5 1 5 2 4 1 5 1 5 1 4 1 6 0 6 0 6 0 6-1 5-1 5-1 6-1 4-1 4-1 6-2 4-1 4-2 4-2 4-2 4-2 4-2 5-2 4-2 5-2 4-2 4-2 4-2 3-2 3-3 4-3 3-3 3-3 2-6 0-6 0-6 0 2-1 4-2 4-3 2-2 4-4 2-2 4-4 2-3 2-3 3-4 2-4 2-4 2-4 1-4 2-4 2-5 1-5 1-4 1-6 1-6-1-6-1-5-1-5-2-4-2-4-2-4-3-4-2-2-4-2-6-2-4 0-6-1-6 0-6 0-6-1-4-1-4-1-6 0-3 2-3 3-2 3-4 4-2 3-3 3-2 4-2 4-2 4-1 5-1 5 0 6-1 6 0 6 0 6 1 6 1 6 1 4 1 5 2 4 2 4 2 4 2 3 2 4 3 4 3 3 3 3 4 2-5 0-6 0-6 0-6 0-3-2-2-4-2-4-3-4-2-4-2-4-1-4-1-5-1-5-1-6 0-4 0-6-1-6 0-6 0-6 0-6-1-6 0-6 1-6 0-6 1-6 1-4 0-6-1-4-2-4-3-4-3-2-4-4-3-2-3-2-4-3-3-3-3-4-2-4 0-4 0-6 0-6 0-6 0-6 0-6 0-6 0-6 0-6 0-6 0-6 0-6 0-6 2-3 4-3 4-2 4-1 4-1 6-1 6-1 4 0 6-1 5-1 5-1 6 0 6-1 6 0 4 0 6-1 4-2zM35 46l-5 2-3 2-3 4-2 4-1 4-1 6 0 4 0 6 0 4 1 6 0 6 0 6 1 6 1 4 2 4 3 4 3 2 3 2 6 2 2 0 4-2 2-4 2-5 1-5 1-4 2-6 1-4 1-4 2-6 1-4 1-6 1-4 1-5 1-5 0-6-1-4-4-4-4-1-6-1-6 0-6 2zM80 66l-5 2-3 4-1 4-2 4-1 5-1 5-1 4-1 6-1 6 0 6 0 3 0 5 2 6 1 4 3 3 4 3 3 2 4 2 3 2 4 2 6 1 6-1 4-2 3-2 3-3 3-3 3-4 2-4 1-4 1-4 1-6 0-6 0-6-1-5-2-5-2-4-2-3-2-3-4-3-4-3-4-2-4-2-4-1-4-2-6-1-2 0z"/><path fill="#8fff00" fill-rule="evenodd" d="M18 2l4-2 6 0 6 0 6 0 6 0 6 0 6 0 6 0 6 0 6 0 6 0 6 0 6 0 6 0 6 0 6 0 6 0 6 0 6 0 6 0 6 0 6 0 6 0 2 2 2 6-1 6-1 6 1 6 1 4 2 4 2 5 2 4 0 5 0 6 0 6 0 6 0 6 0 6 0 6 0 6 0 6 0 6 0 6 0 6 0 6 0 6 0 6 0 6 0 6 0 6 0 6 0 6 0 6 0 6 0 6 0 6 0 6 0 6 0 6 0 5-2 4-2 4-2 3-2 4-2 4-3 4-2 4-3 4-2 4-1 4-1 4-2 6-1 4-2 4-3 2-6 0-6 0-6 0-5 0 3-3 3-3 3-3 2-3 3-4 2-4 2-4 2-4 2-4 2-4 1-4 2-4 2-4 2-4 2-4 2-4 2-6 1-4 1-4 2-6 0-4 2-6 0-4 1-6 0-6 0-6 0-6-1-5-1-5-1-4-2-6-1-4-1-4-2-6-1-4-1-4-1-6 0-6 0-6-1-6-1-4-1-5-1-5-1-4-1-6-1-4-2-6-2-4-2-4-2-3-2-3-4-4-3-2-4-2-4-2-5-2-4-2-4-1-6-1-6 1-6 1-4 1-6 1-4 0-6 0-6 1-6 1-4 0-6 1-6 1-4 0-6 1-4 1-6 2-4 1-4 2-4 3 0-2 0-6 0-6 0-6 0-6 1-4 5-2 4-1 4-2 4-1zM80 66l4 0 6 2 4 1 4 2 4 2 4 2 3 3 3 2 3 4 2 4 2 4 1 4 1 6 0 6 0 6-1 5-2 5-1 4-3 4-2 3-3 3-3 3-4 2-4 2-6 0-5-1-3-2-4-2-4-3-4-2-3-3-3-4-1-4-1-6 0-4 0-4 1-6 0-6 1-4 1-6 1-4 2-6 1-4 3-4 2-3 4-1zM83 82l-3 4-1 4-1 4-2 6 0 4-1 6 1 6 0 4 2 4 4 3 4 3 4 2 2 0 3-4 2-4 1-4 2-6 0-4 0-6 0-6-1-4-1-4-3-4-3-3-4-2-5 1zM0 116l2 4 3 4 3 3 4 3 3 2 3 2 4 4 3 2 3 4 2 4 1 4 0 6-1 4-1 6 0 6-1 6 0 6 1 6 0 6 0 6 0 6 1 6 0 6 0 4 1 6 1 5 1 5 1 4 2 4 2 4 3 4 2 4 2 4 1 2-6 0-6 0-6 0-6 0-6 0-6 0-2-2-3-4-2-4-2-4-1-4 0-6 0-6 0-6 0-6 0-6 0-6 0-6 0-6 0-6 0-6 0-6 0-6 0-6 1-4 1-4 2-5 2-5 0-3-1-5-3-3-2-3 0-6 0-6 0-6 0-6z"/><path fill="#efff00" fill-rule="evenodd" d="M2 0l6 0 6 0 6 0-2 2-4 1-4 2-4 1-5 2-1-2 0-6zM156 0l6 0 2 4 0 6 0 6 0 6 0 6 0 6 0 6 0 2-2-4-2-4-2-4-2-6 0-6 1-6 1-6-2-4zM84 81l6 1 3 2 3 3 2 4 2 5 0 4 0 6 0 5-1 5-1 4-2 6-2 4-3 2-3-1-4-2-4-3-2-2-2-5 0-5-1-6 1-6 1-4 1-6 1-4 2-4 3-3zM2 143l3 3 1 5 0 3-2 5-2 5-1 4-1 2 0-6 0-6 0-6 0-6 2-3zM164 209l0 5 0 6 0 6 0 6 0 6 0 6 0 6 0 6 0 6 0 6-6 0-6 0-6 0-6 0-3-2 2-4 1-4 2-6 1-4 1-4 2-4 3-4 2-4 3-4 2-4 2-4 2-3 2-4 2-4zM0 252l2 5 2 4 2 3 4 4-6 0-4-2 0-6 0-6 0-2z"/><g fill="none" stroke-linejoin="round"><polyline points="13.0,62.0 12.0,51.4 18.0,46.9 25.7,43.8 34.8,39.3 39.3,34.8 45.4,33.3 51.4,31.8 56.0,34.8 60.5,36.3 65.0,34.8 69.5,31.8 74.0,28.7 78.6,24.2 83.0,19.0 89.0,18.1 96.6,21.2 101.0,25.7 105.7,27.2 111.7,25.7 119.3,27.2 120.0,33.3 119.3,39.3 121.6,48.4 122.3,57.5 126.8,68.0 131.4,72.6 133.0,81.6 139.0,87.7 142.0,90.7 140.5,98.3 139.0,105.8 140.5,114.9 143.5,121.0 146.5,128.5 148.0,135.0 151.5,139.0 149.0,142.5 143.5,153.0 137.4,160.7 128.4,166.8 122.3,168.3 119.3,175.8 116.3,184.9 110.2,192.5 104.2,194.0 99.6,200.0 95.0,206.0 92.0,213.6 89.0,222.7 86.0,230.0 83.0,239.0 79.0,249.0 77.0,257.0 75.6,260.5 71.0,257.5 63.5,253.0 55.9,246.9 49.9,237.8 46.9,228.7 43.8,219.7 42.3,210.6 40.8,200.0 37.8,191.0 39.3,178.8 37.8,171.3 40.0,162.2 37.8,154.7 41.0,144.0 41.0,135.0 41.0,125.0 40.5,115.0 39.5,107.0 37.0,98.0 31.0,92.0 22.0,89.5 15.0,83.0 12.5,72.0 13.0,62.0" stroke="#000" stroke-width="1.3"/><polyline points="16.6,60.5 19.7,57.5 25.7,58.2 30.2,56.0 34.8,51.4 39.3,49.9 42.3,46.9 45.4,43.8 45.4,40.8 51.4,39.3 57.5,41.6 63.5,40.8 69.5,39.3 75.6,37.8 78.6,34.8 83.0,32.5 89.0,36.3 95.0,39.3 99.6,42.3 105.7,46.9 111.7,51.4 117.8,54.4 120.0,60.5 120.8,66.5 125.3,75.6 128.4,84.7 131.4,93.7 133.0,102.8 128.4,104.3 123.8,108.9 122.3,114.9 125.3,121.0 126.8,128.5 128.4,135.0 130.0,140.0 129.0,148.0 139.0,145.0 146.5,139.0 149.0,142.0 143.5,153.0 137.4,160.7 128.4,166.8 122.3,168.3 119.3,175.8 116.3,184.9 110.2,192.5 104.2,194.0 99.6,200.0 95.0,206.0 92.0,213.6 89.0,222.7 86.0,230.0 83.0,239.0 79.0,249.0 75.6,256.5 71.0,255.5 63.5,251.0 57.5,245.4 52.9,237.8 49.9,228.7 49.9,219.7 49.9,210.6 51.4,203.0 50.6,195.5 52.2,188.0 51.4,180.4 49.9,174.3 52.9,171.3 54.4,165.0 52.9,157.7 53.7,150.0 51.4,141.0 46.9,135.0 43.8,128.5 41.6,121.0 40.8,113.4 39.3,105.8 40.0,98.3 37.8,92.2 33.3,89.2 25.7,87.7 21.2,84.7 16.6,78.6 15.9,72.6 18.1,66.5 16.6,60.5" stroke="#fff" stroke-width="2.3"/><polyline points="71.0,17.5 68.5,24.0 66.5,30.2 65.8,42.3 68.0,57.5 72.6,71.0 77.0,83.0 83.0,96.8 87.5,108.9 90.6,121.0 93.6,135.0 96.5,145.0 99.0,155.0 100.5,163.0 99.5,170.0 97.0,178.0 92.0,185.0 86.0,195.5 80.0,205.0 72.0,216.0 66.5,228.0 64.0,237.0 63.0,244.0" stroke="#fff" stroke-width="3.2"/><polyline points="43.8,150.0 60.0,150.8 83.0,152.4 97.7,152.0 112.5,149.0 128.4,144.0 139.0,141.6 147.9,138.7" stroke="#fff" stroke-width="3.2"/></g><rect x="9" y="7" width="18" height="19" fill="#fff"/><text x="12" y="21" font-family="Liberation Serif" font-size="16">h)</text><rect x="1" y="1" width="163" height="267" fill="none" stroke="#000" stroke-width="2"/></svg><canvas id="p7" width="165" height="269" style="left:0;top:0"></canvas></div>
<div class="pn" style="left:396px;top:576px;width:165px;height:269px"><svg width="165" height="269" viewBox="0 0 165 269" style="position:absolute;left:0;top:0"><path fill="#ff00ff" fill-rule="evenodd" d="M66 188l4 1 3 3 2 4 1 6 0 6-2 5-2 3-4 3-5-1-3-3-2-3-2-6 1-6 1-4 2-4 4-4z"/><path fill="#cf00ff" fill-rule="evenodd" d="M64 177l6 0 4 3 2 3 2 3 2 4 2 6 0 4 0 6 0 4-2 6-1 4-3 4-2 2-4 2-6 0-4-2-2-3-2-3-2-5-1-5-1-4 0-4 1-6 1-4 2-6 2-3 2-3 4-3zM65 188l-3 2-3 4-2 4-1 6 1 6 2 4 3 3 4 2 4-1 4-4 1-4 1-6-1-6-1-4-3-4-3-2z"/><path fill="#7000ff" fill-rule="evenodd" d="M64 167l6 0 4 3 2 2 2 4 3 4 2 4 2 4 1 4 1 6 1 6-1 6-1 6-1 4-2 4-2 4-3 4-2 2-4 2-6 0-4-1-3-3-3-3-2-3-2-4-2-6-1-4-1-6 1-6 0-6 1-4 2-6 1-4 2-4 3-4 2-2 4-3zM62 178l-2 2-3 4-2 4-1 4-1 6-1 5 0 3 1 6 1 4 2 4 2 4 4 3 4 2 5-1 3-2 4-4 2-4 1-4 1-4 1-6-1-6-1-4-1-4-2-4-3-4-3-4-4-2-6 2z"/><path fill="#1000ff" fill-rule="evenodd" d="M34 74l6 0 2 2 1 6-3 4-5-2-2-4 1-6zM64 157l6 0 4 3 2 3 2 3 2 4 3 4 2 4 2 4 2 4 1 4 1 6 1 5 0 5 0 4-1 6-1 4-2 5-2 5-2 4-2 3-3 3-3 3-4 1-4 0-5-2-3-2-4-3-2-3-3-4-2-4-1-4-2-6 0-4-1-6 0-6 1-6 0-4 2-6 0-4 2-5 2-5 2-3 2-3 4-4 2-2zM62 168l-2 2-3 4-3 4-1 4-2 4-1 5-1 5-1 6 1 6 0 6 2 4 1 4 2 4 3 4 3 3 4 3 4 1 5-1 3-2 4-4 2-4 2-4 1-4 2-4 1-6 0-6-1-6-1-4-2-5-2-5-2-3-2-4-2-3-4-4-4-2-6 2z"/><path fill="#0050ff" fill-rule="evenodd" d="M34 65l6-1 6 2 2 2 3 4 2 4 0 6 0 6-1 4-1 6-1 4-2 5-3 3-4 0-3-2-3-4-2-4-2-4-2-4-1-4-2-6 0-4 1-4 2-4 3-3zM34 74l-1 6 2 4 5 2 3-4-1-6-2-2-6 0zM66 146l4 0 4 4 2 4 2 3 2 4 2 3 2 4 2 4 2 4 3 4 1 4 2 5 1 5 1 6 0 4 0 6-1 4-1 6-1 4-1 4-2 4-2 4-2 4-3 4-3 3-4 2-4 1-4 0-6-2-3-2-3-3-3-3-3-4-2-3-2-5-1-4-2-4-1-6 0-4 0-6 0-6 0-4 1-6 1-6 0-4 2-6 1-4 2-4 2-4 2-4 3-3 3-3 3-2 4-2zM62 158l-2 2-4 4-2 3-2 3-2 5-2 5 0 4-2 6 0 4-1 6 0 6 1 6 0 4 2 6 1 4 2 4 3 4 2 3 4 3 3 2 5 2 4 0 4-1 3-3 3-3 2-3 2-4 2-5 2-5 1-4 1-6 0-4 0-5-1-5-1-6-1-4-2-4-2-4-2-4-3-4-2-4-2-3-2-3-4-3-6 0z"/><path fill="#00afff" fill-rule="evenodd" d="M34 58l6-2 6 1 4 1 4 3 3 3 3 4 1 4 0 6 0 6 0 6 0 6 0 6-1 6 0 6 0 6 1 6 1 4 3 4 3 2 4 3 3 3 2 4 2 4 2 4 2 4 2 4 2 4 2 4 3 4 2 4 2 4 1 4 2 4 1 6 0 4 0 6 0 5-1 5-1 6-1 4-1 4-2 5-2 4-2 3-2 4-4 4-2 2-4 3-4 1-6 0-4-1-4-2-4-3-3-2-3-4-2-2-2-4-2-4-2-5-1-5-2-4-1-6 0-5 0-5 0-6 0-4 1-6 0-6 1-6 0-4 2-6 1-4 2-4 1-4 2-5 2-5-1-6-3-4-2-2-4-3-4-3-2-2-4-4-2-4-2-4-1-4-1-5-1-5-1-6 0-4-1-6 0-6 1-5 2-4 2-3 4-4 3-2zM33 66l-3 2-3 4-1 6 0 2 1 6 1 4 2 5 2 4 2 4 2 3 4 4 4 1 3-3 2-4 1-4 2-6 0-4 1-6 0-6-1-4-2-4-4-4-4-1-6 0zM66 146l-4 2-4 3-3 3-3 4-2 3-2 4-2 5-1 4-1 6-1 4-1 6 0 4 0 6 0 6 0 6 1 4 1 6 1 4 2 4 2 4 2 4 3 4 3 2 3 3 4 2 4 1 6 0 4-2 3-2 3-3 2-3 2-4 2-4 2-4 2-6 1-4 1-6 0-4 0-6 0-4-1-6-1-4-2-5-2-4-2-4-2-3-2-4-2-4-2-4-3-4-2-4-3-4-3-2-3 0z"/><path fill="#00ffef" fill-rule="evenodd" d="M32 50l6-2 6 0 6 1 4 1 6 2 4 1 4 3 2 3 1 5 0 6-1 6 0 4-1 6 0 6-1 6 0 6 0 4 0 6 0 4 1 6 2 4 2 4 3 4 2 3 2 4 2 5 2 4 2 4 2 4 2 4 2 3 2 3 3 4 2 4 2 4 1 4 2 6 0 4 1 6 0 6-1 6 0 4-2 6-1 4-1 4-2 6-2 4-2 3-2 4-3 3-3 4-3 2-3 2-4 2-6 1-4-1-5-2-4-2-3-2-4-4-2-2-3-4-3-4-2-4-1-4-1-4-2-6-1-4-1-6 0-4-1-6 0-6 1-6 0-4 0-6 1-6 0-6 1-5 1-5 1-4 1-6 0-6-2-4-3-4-2-2-4-4-2-2-3-4-2-4-2-4-1-6-1-4 0-6-1-6 0-4-1-6 0-6 1-6 1-4 2-4 2-4 2-4 3-3 4-2zM33 58l-3 2-4 4-2 3-2 4-1 5 0 6 1 6 0 4 1 6 1 5 1 5 1 4 2 4 2 4 4 4 2 2 4 3 4 3 2 2 3 4 1 6-2 5-2 5-1 4-2 4-1 4-2 6 0 4-1 6 0 6-1 6 0 4 0 6 0 5 0 5 1 6 2 4 1 5 2 5 2 4 2 4 2 2 3 4 3 2 4 3 4 2 4 1 6 0 4-1 4-3 2-2 4-4 2-4 2-3 2-4 2-5 1-4 1-4 1-6 1-5 0-5 0-6 0-4-1-6-2-4-1-4-2-4-2-4-3-4-2-4-2-4-2-4-2-4-2-4-2-4-2-4-3-3-4-3-3-2-3-4-1-4-1-6 0-6 0-6 1-6 0-6 0-6 0-6 0-6 0-6-1-4-3-4-3-3-4-3-4-1-6-1-6 2z"/><path fill="#00ff8f" fill-rule="evenodd" d="M76 38l6-1 6-1 6 1 6 1 4 1 4 2 4 3 2 4 1 4-1 4-2 4-4 4-4 1-6 1-4 0-6 2-2 2-3 4-2 4-2 4-1 4-2 6 0 4-1 6-1 6 0 6 1 6 1 6 2 4 2 4 2 4 1 4 2 4 2 4 2 4 2 4 3 4 2 3 3 3 2 4 3 4 2 4 1 4 2 4 1 6 0 4 0 6 0 4 0 6-1 6-1 4-2 6-1 4-1 4-2 4-2 4-2 4-3 4-3 4-2 2-4 3-3 3-4 2-5 0-6 0-5 0-4-2-4-2-3-2-4-3-3-3-3-4-2-3-2-3-2-5-2-5-1-4-1-4-2-6-1-4 0-6-1-6 0-6 0-6 0-6 1-6 0-6 0-6 1-6 1-4 1-6 0-6-2-5-2-3-3-4-3-3-3-3-3-4-2-4-1-4-1-4-1-6 0-6-1-6 0-4-1-6 0-6 0-6 1-6 1-4 1-5 2-5 2-3 2-3 4-3 4-2 4-1 6-2 4 0 6 0 4 0 6 0 6 0 4 0 6-2 4 0zM32 50l-4 2-4 3-2 3-2 4-2 4-2 5-1 5 0 6 1 6 0 5 1 5 0 6 1 6 1 4 1 4 2 5 2 3 4 4 2 2 4 4 2 2 2 4 2 6-1 6-1 4-2 6 0 4-1 6-1 6 0 6 0 4-1 6 0 6 1 6 0 6 1 4 1 6 1 4 1 4 2 5 2 4 2 4 2 3 4 4 2 2 4 3 4 3 4 1 4 1 6 0 4-1 4-2 4-3 2-2 3-4 3-4 2-4 2-4 1-4 2-4 1-4 1-6 1-4 1-6 0-6-1-6 0-4-1-6-1-4-2-4-2-4-2-4-3-4-3-4-2-4-2-4-2-3-2-5-2-4-2-4-2-4-2-2-2-4-2-4-2-6 0-4 0-6 0-5 0-5 1-6 0-6 1-6 0-4 1-6 0-6-1-6-2-4-2-2-5-2-5-1-4-1-6-2-6 0-6 1z"/><path fill="#00ff30" fill-rule="evenodd" d="M84 26l6-1 6 0 4 1 6 2 4 1 4 1 4 2 4 2 4 4 2 3 2 3 2 6 0 4 0 6 0 4-1 6-1 5-1 5-2 4-3 3-4 3-4 0-4 0-6-1-4-2-4-1-6 0-3 2-3 4-2 4-1 4-1 4-1 6 0 6 0 6 1 5 2 5 1 4 1 4 2 5 2 4 2 3 4 4 2 3 3 3 3 3 3 3 3 4 2 3 2 3 2 5 2 5 0 4 1 6 0 6-1 6 0 4-1 6-1 4-2 6-1 4-1 4-2 4-2 4-2 4-2 4-3 4-3 4-2 2-4 4-4 0-6 0-2-1 4-2 4-3 2-2 4-4 2-3 2-3 2-4 2-4 2-5 2-5 1-4 1-4 1-6 1-6 0-6 0-4 0-5-1-5-1-6-1-4-2-4-2-4-3-4-2-3-2-3-3-4-3-4-2-3-2-4-2-5-2-4-1-4-2-4-2-4-2-4-1-6 0-6 1-6 0-6 1-5 1-5 1-5 2-5 1-4 3-4 2-2 4-3 4-1 6 0 6-1 4-2 2-3 2-4 0-6-1-4-3-4-4-2-4-2-4-1-6-1-6 0-6 1-6 1-4 1-6 1-4 0-6 0-4 0-6 0-4 0-6 1-4 1-6 2-3 2-3 2-3 4-2 4-1 4-2 6-1 4 0 6 0 6 0 6 1 6 0 4 1 6 0 6 1 5 1 5 2 4 2 4 3 3 3 3 3 3 2 3 3 4 1 6-1 6-1 6-1 4 0 6 0 6 0 6-1 6 0 6 0 6 0 6 1 6 1 6 1 4 1 6 1 4 2 4 1 4 2 4 3 4 2 4 3 3 3 3 3 2 4 3 4 2 2 1-6 0-6 0-4-1-3-3-3-3-2-3-3-4-2-4-2-4-2-4-1-4-2-6-1-4-1-5-1-5-1-6 0-6 0-4 0-6 0-6 0-6 0-6 0-6 0-4 1-6 1-6 0-4 0-4-2-5-2-3-4-4-2-2-3-4-2-4-2-4-1-4-1-6-1-6 0-5-1-5 0-6-1-6 0-4 0-6 0-6 0-6 0-4 1-6 2-4 2-4 3-3 4-2 4-2 4-2 4-1 6-1 4-1 6-1 6-1 4 0 6-1 6 0 6-1 4 0 6-2 4 0z"/><path fill="#30ff00" fill-rule="evenodd" d="M80 10l6 0 6 0 4 1 5 1 5 2 4 1 5 1 5 1 4 2 4 1 4 2 4 3 3 3 3 4 2 4 1 4 1 4 1 6 1 6 0 4 0 6 0 6 0 6 0 6 0 6 0 6 0 4 0 6-1 6 0 6 1 6-2 6-1 4-1 4-2 6-2 4-1 4-1 4-1 6 0 6 0 6 0 6 0 6 0 6-1 5-1 5-1 6 0 4-1 6-1 4-2 6-1 4-2 4-1 4-2 4-2 4-3 4-2 4-3 4-2 3-2 3-4 2-6 0-6 0-2 0 4-4 2-2 3-4 3-4 2-4 2-4 2-4 2-4 1-4 1-4 2-6 1-4 1-6 0-4 1-6 0-6-1-6 0-4-2-5-2-5-2-3-2-3-3-4-3-3-3-3-3-3-2-3-4-4-2-3-2-4-2-5-1-4-1-4-2-5-1-5 0-6 0-6 1-6 1-4 1-4 2-4 3-4 3-2 6 0 4 1 4 2 6 1 4 0 4 0 4-3 3-3 2-4 1-5 1-5 1-6 0-4 0-6 0-4-2-6-2-3-2-3-4-4-4-2-4-2-4-1-4-1-6-2-4-1-6 0-6 1-4 0-6 2-4 0-6 1-6 0-6 1-4 0-6 1-6 1-4 1-6 1-4 1-4 2-4 2-4 2-3 3-2 4-2 4-1 6 0 4 0 6 0 6 0 6 0 4 1 6 0 6 1 5 0 5 1 6 1 6 1 4 2 4 2 4 3 4 2 2 4 4 2 3 2 5 0 4 0 4-1 6-1 6 0 4 0 6 0 6 0 6 0 6 0 6 0 4 0 6 1 6 1 5 1 5 1 4 2 6 1 4 2 4 2 4 2 4 3 4 2 3 3 3 3 3-2 1-6 0-4-1-2-3-3-4-2-4-3-4-1-4-2-4-1-4-2-6-1-4-1-6-1-4 0-6 0-6-1-6 0-6 0-6 0-6 0-6 0-6 0-6 1-6 1-6-1-6-2-4-2-4-3-3-2-3-3-4-2-4-1-4 0-6 0-6 0-6 0-6 0-6 0-6 0-6 0-6 0-6 0-6 0-6 0-6 0-6 0-6 0-4 4-3 4-2 4-2 4-1 6-2 4-1 4-1 6-2 4-1 4-1 5-2 5-1 4-1 6-1 4-1 6-1 5-1zM93 104l-3 4-1 4-1 4 0 6 0 4 1 6 1 4 2 6 2 4 2 2 4 3 4 3 4 1 4 2 6 0 4-2 3-3 1-4 2-6 0-4 0-4-2-6-1-4-2-4-3-4-2-3-3-3-3-2-4-3-4-2-6-1-5 2z"/><path fill="#8fff00" fill-rule="evenodd" d="M20 1l4-1 6 0 6 0 6 0 6 0 6 0 6 0 6 0 6 0 6 0 6 0 6 0 6 0 6 0 6 0 6 0 6 0 6 0 6 0 6 0 6 0 6 0 6 0 3 2 2 4 0 6-1 6 0 4 0 4 1 6 1 4 1 6 1 4 0 6 0 6 0 6 0 6 0 6 0 6 0 6 0 6 0 6 0 4-1 6 0 6 1 6 0 6 0 6-1 6 1 6-1 6 0 6-1 4 0 6-1 6-1 6-1 4 0 6-1 6 0 4-1 6 0 6 0 6-1 6 0 4-1 6-1 6-1 4 0 6-1 4-1 6-3 4-2 3-4 1-6 0-6 0-6 0-6 0-6 0-2-2 2-3 2-3 3-4 2-4 3-4 2-4 2-4 1-4 2-4 1-4 2-6 1-4 1-6 0-4 1-6 1-5 1-5 0-6 0-6 0-6 0-6 0-6 1-6 1-4 1-4 2-4 2-6 1-4 1-4 2-6-1-6 0-6 1-6 0-6 0-4 0-6 0-6 0-6 0-6 0-6 0-6 0-4-1-6-1-6-1-4-1-4-2-4-3-4-3-3-4-3-4-2-4-1-4-2-5-1-5-1-4-1-5-2-5-1-4-1-6 0-6 0-4 0-6 2-4 0-6 1-4 1-6 2-4 1-4 1-6 2-4 1-4 1-6 2-4 1-4 1-5 2-4 2-3 2-2 2 0-6 0-6 0-6 0-4 4-3 4-3 4-2 4-1 4-2zM94 103l6-1 5 2 4 2 3 2 4 3 3 3 3 4 2 4 2 4 1 4 1 6 0 4-1 4-1 6-2 3-3 3-5 1-6-1-4-1-4-3-4-2-2-2-4-4-1-4-1-4-1-6-1-4 0-6 0-4 1-6 2-4 3-3zM101 122l-3 4 0 4 1 4 2 4 5 0 2-2 2-6-2-5-4-3-3 0zM0 124l2 4 2 4 3 4 3 3 2 3 3 4 1 6-1 6 0 6-1 6 0 6 0 6 0 6 0 6 0 6 0 6 1 6 0 6 1 6 1 4 1 6 1 4 1 4 2 4 2 5 2 4 2 3 2 4 3 4 1 2-6 0-6 0-4 0-4-4-2-2-2-4-2-6-1-4-1-6 0-4-1-6 0-6 0-6 0-6 0-6 0-6 0-6 0-6 0-6 0-6 0-6 0-6 1-6 0-4 0-4-1-6-3-4-2-3 0-5 0-6 0-5z"/><path fill="#efff00" fill-rule="evenodd" d="M2 0l6 0 6 0 6 0 2 0-4 2-5 2-4 2-4 2-3 2-2 2 0-6 0-6zM158 0l6 0 0 6 0 6 0 6 0 6 0 6 0 6 0 6 0 2-1-6-1-4-2-6 0-4 0-6 0-4 1-6-1-5-3-3zM164 102l0 4 0 6 0 6 0 6 0 6 0 6 0 6 0 6 0 6 0 6 0 6 0 6 0 6 0 6 0 6 0 6 0 6 0 6 0 6 0 6 0 6 0 6 0 6 0 6 0 6 0 6 0 6 0 6-6 0-6 0-6 0 1-2 3-4 1-4 1-4 1-6 1-6 1-4 1-6 0-4 1-6 0-6 0-6 0-6 1-6 0-4 1-6 1-6 1-4 1-6 0-6 0-4 1-6 1-6 0-6-1-6 1-6 0-6 0-6-1-6 0-6 1-6zM102 122l4 1 2 3 1 6-1 4-4 3-4-2-2-5 0-4 1-4 3-2zM1 140l2 4 2 4 1 4 0 6 0 4-1 6 0 6 0 6 0 6 0 6 0 6 0 6 0 6 0 6 0 6 0 6 1 6 0 5 0 5 1 6 1 4 2 4 2 4 4 4 0 2-6 0-6 0-4-2 0-6 0-6 0-6 0-6 0-6 0-6 0-6 0-6 0-6 0-6 0-6 0-6 0-6 0-6 0-6 0-6 0-6 0-6 0-6 0-6 0-6z"/><g fill="none" stroke-linejoin="round"><polyline points="13.0,62.0 12.0,51.4 18.0,46.9 25.7,43.8 34.8,39.3 39.3,34.8 45.4,33.3 51.4,31.8 56.0,34.8 60.5,36.3 65.0,34.8 69.5,31.8 74.0,28.7 78.6,24.2 83.0,19.0 89.0,18.1 96.6,21.2 101.0,25.7 105.7,27.2 111.7,25.7 119.3,27.2 120.0,33.3 119.3,39.3 121.6,48.4 122.3,57.5 126.8,68.0 131.4,72.6 133.0,81.6 139.0,87.7 142.0,90.7 140.5,98.3 139.0,105.8 140.5,114.9 143.5,121.0 146.5,128.5 148.0,135.0 151.5,139.0 149.0,142.5 143.5,153.0 137.4,160.7 128.4,166.8 122.3,168.3 119.3,175.8 116.3,184.9 110.2,192.5 104.2,194.0 99.6,200.0 95.0,206.0 92.0,213.6 89.0,222.7 86.0,230.0 83.0,239.0 79.0,249.0 77.0,257.0 75.6,260.5 71.0,257.5 63.5,253.0 55.9,246.9 49.9,237.8 46.9,228.7 43.8,219.7 42.3,210.6 40.8,200.0 37.8,191.0 39.3,178.8 37.8,171.3 40.0,162.2 37.8,154.7 41.0,144.0 41.0,135.0 41.0,125.0 40.5,115.0 39.5,107.0 37.0,98.0 31.0,92.0 22.0,89.5 15.0,83.0 12.5,72.0 13.0,62.0" stroke="#000" stroke-width="1.3"/><polyline points="16.6,60.5 19.7,57.5 25.7,58.2 30.2,56.0 34.8,51.4 39.3,49.9 42.3,46.9 45.4,43.8 45.4,40.8 51.4,39.3 57.5,41.6 63.5,40.8 69.5,39.3 75.6,37.8 78.6,34.8 83.0,32.5 89.0,36.3 95.0,39.3 99.6,42.3 105.7,46.9 111.7,51.4 117.8,54.4 120.0,60.5 120.8,66.5 125.3,75.6 128.4,84.7 131.4,93.7 133.0,102.8 128.4,104.3 123.8,108.9 122.3,114.9 125.3,121.0 126.8,128.5 128.4,135.0 130.0,140.0 129.0,148.0 139.0,145.0 146.5,139.0 149.0,142.0 143.5,153.0 137.4,160.7 128.4,166.8 122.3,168.3 119.3,175.8 116.3,184.9 110.2,192.5 104.2,194.0 99.6,200.0 95.0,206.0 92.0,213.6 89.0,222.7 86.0,230.0 83.0,239.0 79.0,249.0 75.6,256.5 71.0,255.5 63.5,251.0 57.5,245.4 52.9,237.8 49.9,228.7 49.9,219.7 49.9,210.6 51.4,203.0 50.6,195.5 52.2,188.0 51.4,180.4 49.9,174.3 52.9,171.3 54.4,165.0 52.9,157.7 53.7,150.0 51.4,141.0 46.9,135.0 43.8,128.5 41.6,121.0 40.8,113.4 39.3,105.8 40.0,98.3 37.8,92.2 33.3,89.2 25.7,87.7 21.2,84.7 16.6,78.6 15.9,72.6 18.1,66.5 16.6,60.5" stroke="#fff" stroke-width="2.3"/><polyline points="71.0,17.5 68.5,24.0 66.5,30.2 65.8,42.3 68.0,57.5 72.6,71.0 77.0,83.0 83.0,96.8 87.5,108.9 90.6,121.0 93.6,135.0 96.5,145.0 99.0,155.0 100.5,163.0 99.5,170.0 97.0,178.0 92.0,185.0 86.0,195.5 80.0,205.0 72.0,216.0 66.5,228.0 64.0,237.0 63.0,244.0" stroke="#fff" stroke-width="3.2"/><polyline points="43.8,150.0 60.0,150.8 83.0,152.4 97.7,152.0 112.5,149.0 128.4,144.0 139.0,141.6 147.9,138.7" stroke="#fff" stroke-width="3.2"/></g><rect x="9" y="7" width="18" height="19" fill="#fff"/><text x="12" y="21" font-family="Liberation Serif" font-size="16">i)</text><rect x="1" y="1" width="163" height="267" fill="none" stroke="#000" stroke-width="2"/></svg><canvas id="p8" width="165" height="269" style="left:0;top:0"></canvas></div>
<div id="cbw" style="position:absolute;left:80px;top:856px;width:430px;height:22px"><canvas id="cb" width="430" height="22" style="left:0;top:0"></canvas></div>
<div class="s" style="left:508px;top:859px">(cm/yr)</div>
<div id="cbl"></div>
<script>
var STOPS=[[-15,255,0,255],[-11,0,0,255],[-7,0,255,255],[-3,0,255,0],[1,255,255,0],[5,255,0,0]];
function cmap(v){
  if(v<=-15)return [255,0,255];
  if(v>=5)return [255,0,0];
  for(var i=0;i<STOPS.length-1;i++){
    var a=STOPS[i],b=STOPS[i+1];
    if(v<=b[0]){var t=(v-a[0])/(b[0]-a[0]);
      return [a[1]+(b[1]-a[1])*t,a[2]+(b[2]-a[2])*t,a[3]+(b[3]-a[3])*t];}
  }
  return [255,0,0];
}
/* panels: scattered readings [x,y,value] in local px, interpolated with smoothed thin-plate spline */
var P=[
{lam:0.012,p:[[5,5,-3.2],[40,5,-2.5],[75,5,-1.5],[88,5,-0.2],[120,5,0.2],[145,5,0.3],[160,5,-0.2],
[5,30,-5.5],[40,30,-6],[75,30,-3],[88,20,-1.5],[110,20,-0.7],[130,20,-0.5],[160,20,-0.3],
[5,50,-8.6],[25,50,-9],[45,45,-7.4],[60,50,-6],[75,50,-3.5],[88,40,-2.5],[110,40,-2],[130,40,-1.5],[145,40,-1],[160,45,-0.3],
[5,75,-8.5],[25,75,-9.6],[45,75,-9.2],[60,75,-7],[75,75,-5],[88,60,-2.5],[110,60,-2.5],[130,60,-2],[145,60,-1.2],[158,75,0],
[88,80,-0.8],[95,95,-0.3],[95,75,-0.7],[95,120,-0.7],[90,100,-0.35],[100,88,-0.35],[88,125,-1.3],[100,65,-1.4],[97,108,-0.4],[120,80,-2.5],[135,80,-2],[150,80,-1],
[5,100,-8],[25,100,-10],[40,100,-11],[55,100,-10],[70,100,-6],[80,100,-2.5],[76,100,-3.5],[62,100,-8.5],
[88,110,-1],[110,110,-2],[125,110,-3.5],[140,110,-3],[155,110,-1.8],
[5,125,-5],[20,125,-7],[40,125,-12],[55,125,-11],[70,125,-8.5],[80,125,-5],[62,120,-11],[86,120,-3],
[120,130,-5],[140,130,-5.5],[155,130,-4],[110,130,-4],[130,130,-5.5],[150,130,-4.5],[110,115,-3],[130,115,-4],[150,115,-2.5],[160,115,-1.5],[110,150,-9],[130,150,-9],[150,150,-7],[160,150,-5],
[5,140,-3],[20,140,-5.5],[35,140,-9],[48,140,-11],[65,140,-11.5],[80,140,-6.5],[75,140,-8],[60,140,-11.5],
[88,140,-4.5],[100,140,-4.5],[115,140,-6.8],[130,140,-7.5],[145,140,-6.5],[160,140,-4],
[5,165,-3],[20,165,-5],[35,165,-8],[48,165,-11],[65,165,-11.5],[80,165,-12],
[88,160,-8.5],[105,160,-9],[120,160,-10],[140,160,-7],[155,160,-5.5],[163,160,-4],
[5,190,-2],[20,190,-3.5],[35,190,-6],[48,190,-8],[60,190,-11],[80,190,-12.5],
[88,180,-12.3],[100,180,-12],[115,180,-12],[130,180,-10.5],[145,180,-7.5],[160,180,-4],
[88,200,-13],[100,200,-13],[110,200,-11.5],[125,200,-8],[140,200,-5.5],[155,200,-3],[163,200,-1.5],
[5,215,-1],[20,215,-2.5],[35,215,-4],[45,215,-7],[55,215,-10],[70,215,-13],[80,215,-13],
[88,220,-13],[100,220,-11],[115,220,-7.5],[130,220,-4],[145,220,-1.5],[160,220,-0.7],
[5,240,0.3],[20,240,-0.5],[35,240,-2.5],[50,240,-5],[60,240,-7],[75,240,-11],
[88,245,-8.5],[100,245,-5.5],[115,245,-3],[130,245,-1],[142,250,0.1],[140,258,0.15],[145,243,0.1],[80,228,-13],[90,215,-13.3],[100,203,-13],[108,193,-12.5],[115,185,-12],[100,225,-9],[110,212,-8],[80,200,-12],[75,215,-12.5],[160,245,-0.5],
[5,262,0.5],[25,262,-0.2],[40,262,-1.5],[60,262,-3],[75,262,-4],
[88,265,-3.5],[105,265,-1.5],[125,265,-0.5],[160,265,-0.3]]},
{lam:0.012,p:[[5,5,-1.5],[22,5,-1.5],[40,5,-1.2],[58,5,-1],[75,5,-1],[5,25,-2.5],[22,25,-2.5],[40,25,-2.5],[58,25,-2.5],[75,25,-2],[5,45,-3.5],[22,45,-4],[40,45,-4],[58,45,-3.5],[75,45,-1],[5,65,-4],[22,65,-5.5],[40,65,-6],[58,65,-3.5],[75,65,0],[5,85,-4],[22,85,-6.5],[40,85,-8],[58,85,-6],[75,85,0],[5,105,-3.5],[22,105,-6.5],[40,105,-10.3],[58,105,-7.5],[75,105,-1],[5,125,-3],[22,125,-6],[40,125,-10.2],[58,125,-9],[75,125,-2.5],[90,5,0],[107,5,0.3],[125,5,0.3],[143,5,0],[160,5,-0.2],[90,25,-0.5],[107,25,-0.3],[125,25,-0.3],[143,25,-0.3],[160,25,-0.3],[90,45,-0.2],[107,45,-0.5],[125,45,-0.5],[143,45,-0.3],[160,45,-0.1],[90,65,0.8],[107,65,0],[125,65,-0.6],[143,65,0],[160,65,0.3],[90,85,1],[107,85,0],[125,85,-0.8],[143,85,0],[160,85,0.3],[90,105,-0.2],[107,105,-0.8],[125,105,-3.5],[143,105,-2],[160,105,-0.2],[90,125,-2],[107,125,-3],[125,125,-7],[143,125,-5],[160,125,-2],[5,145,-3],[22,145,-3],[40,145,-5.5],[58,145,-8],[75,145,-7],[5,165,-2.5],[22,165,-3.5],[40,165,-5],[58,165,-6.5],[75,165,-7.5],[5,185,-1.5],[22,185,-2.5],[40,185,-4],[58,185,-6],[75,185,-9],[5,205,-1],[22,205,-1],[40,205,-2.5],[58,205,-6],[75,205,-11],[5,225,0.3],[22,225,0],[40,225,-2],[58,225,-5],[75,225,-12],[5,245,1.5],[22,245,0.6],[40,245,-1.5],[58,245,-5],[75,245,-8],[5,265,1.8],[22,265,0.8],[40,265,-1],[58,265,-3],[75,265,-4.5],[90,145,-5],[107,145,-10],[125,145,-11.5],[143,145,-9.5],[160,145,-5.5],[90,165,-9],[107,165,-13.5],[125,165,-15],[143,165,-10.5],[160,165,-5.5],[90,185,-11.5],[107,185,-14.8],[125,185,-13.5],[143,185,-8],[160,185,-3.5],[90,205,-14],[107,205,-13],[125,205,-9],[143,205,-4.5],[160,205,-2],[90,225,-13],[107,225,-10],[125,225,-6.5],[143,225,-2.5],[160,225,-1],[90,245,-9],[107,245,-6],[125,245,-3],[143,245,-1.3],[160,245,-0.8],[90,265,-5],[107,265,-3],[125,265,-1.5],[143,265,-0.8],[160,265,-0.5],[45,115,-10.8],[89,77,1.2],[118,175,-15.5],[50,140,-9.5],[35,95,-9.5],[53,110,-10],[48,128,-10.3],[100,200,-14.5],[95,212,-14.2],[85,228,-13.5],[78,238,-12],[130,160,-14],[135,152,-12.5],[130,95,-2.5],[130,115,-6.3],[125,85,-1.5],[115,115,-3],[145,115,-3],[155,115,-1.5],[130,105,-4.5],[115,130,-7],[135,130,-8.5],[155,130,-5],[115,145,-10.5],[155,145,-7],[145,105,-1.5]]},
{lam:0.012,p:[[5,5,-3.5],[22,5,-3],[40,5,-2.5],[58,5,-2],[75,5,-1.5],[5,25,-7],[22,25,-6.5],[40,25,-5.5],[58,25,-4],[75,25,-3],[5,45,-12.5],[22,45,-12],[40,45,-10],[58,45,-7.5],[75,45,-5.5],[5,65,-12.5],[22,65,-13.5],[40,65,-12],[58,65,-9],[75,65,-7],[5,85,-12],[22,85,-13.5],[40,85,-13.5],[58,85,-11],[75,85,-7],[5,105,-10.5],[22,105,-12.5],[40,105,-15],[58,105,-14.5],[75,105,-6],[5,125,-8.5],[22,125,-11.5],[40,125,-15.5],[58,125,-15],[75,125,-8.5],[90,5,-2],[107,5,-1],[125,5,0.2],[143,5,0.3],[160,5,0.3],[90,25,-3.5],[107,25,-3],[125,25,-1.8],[143,25,-0.3],[160,25,0.2],[90,45,-5.5],[107,45,-6.5],[125,45,-4.5],[143,45,-2],[160,45,0.1],[90,65,-5],[107,65,-5.5],[125,65,-4.5],[143,65,-2.5],[160,65,0.05],[90,85,-3],[107,85,-3.5],[125,85,-4],[143,85,-2.5],[160,85,0],[90,105,-1.5],[107,105,-1],[125,105,-3.5],[143,105,-2.5],[160,105,-0.6],[90,125,-2],[107,125,-1],[125,125,-3.5],[143,125,-3],[160,125,-1],[5,145,-4.5],[22,145,-9],[40,145,-14.5],[58,145,-15.3],[75,145,-11],[5,165,-3.5],[22,165,-6.8],[40,165,-13],[58,165,-16.5],[75,165,-15],[5,185,-3.5],[22,185,-6.3],[40,185,-12.5],[58,185,-15.5],[75,185,-15],[5,205,-2.8],[22,205,-5],[40,205,-9.5],[58,205,-13.5],[75,205,-14.5],[5,225,-1.5],[22,225,-3.5],[40,225,-7],[58,225,-11],[75,225,-13.5],[5,245,0.2],[22,245,-2],[40,245,-4],[58,245,-8],[75,245,-11],[5,265,0.4],[22,265,-1],[40,265,-2.5],[58,265,-4],[75,265,-5.5],[90,145,-5],[107,145,-4.5],[125,145,-4],[143,145,-4],[160,145,-2.5],[90,165,-11],[107,165,-9],[125,165,-7],[143,165,-5.5],[160,165,-3],[90,185,-13],[107,185,-10.5],[125,185,-8],[143,185,-5.5],[160,185,-3],[90,205,-12.5],[107,205,-10],[125,205,-7],[143,205,-4],[160,205,-2],[90,225,-11],[107,225,-7],[125,225,-4.5],[143,225,0],[160,225,-0.1],[90,245,-7],[107,245,-4],[125,245,-0.7],[143,245,0.2],[160,245,0.3],[90,265,-4.5],[107,265,-1.5],[125,265,-0.2],[143,265,0.4],[160,265,0.5],[45,112,-16],[100,115,0.5],[100,108,0.2],[101,122,0.2],[105,52,-6.8],[30,100,-14],[50,100,-15.5],[62,100,-12.5],[68,100,-10],[74,100,-7],[80,100,-3.5],[50,120,-15.5],[66,120,-12.5],[72,120,-10],[78,120,-7],[84,120,-4],[50,145,-15.5],[67,145,-13],[82,145,-8],[88,145,-5.5],[30,145,-12],[30,165,-11],[70,165,-15.5],[85,165,-12],[92,165,-9.5],[100,165,-6],[45,185,-13],[65,185,-16],[82,185,-14],[100,185,-10],[132,240,0],[15,165,-5.5],[15,255,0.1],[8,205,-2.8]]},
{lam:0.012,p:[[5,5,0.3],[22,5,0],[40,5,-0.5],[58,5,-0.8],[75,5,-1],[5,25,-1.5],[22,25,-1.5],[40,25,-1.5],[58,25,-1.5],[75,25,-1.5],[5,45,-3],[22,45,-4.5],[40,45,-4.5],[58,45,-3.5],[75,45,-2],[5,65,-4.5],[22,65,-7],[40,65,-8],[58,65,-6],[75,65,-2],[5,85,-5],[22,85,-7.5],[40,85,-11],[58,85,-8.5],[75,85,-2],[5,105,-5],[22,105,-8],[40,105,-13],[58,105,-10.5],[75,105,-2.5],[5,125,-4.5],[22,125,-8],[40,125,-12],[58,125,-11],[75,125,-4],[90,5,-0.7],[107,5,-0.3],[125,5,0.2],[143,5,0.3],[160,5,0.2],[90,25,-1.5],[107,25,-1],[125,25,-0.5],[143,25,-0.2],[160,25,0.2],[90,45,-2.5],[107,45,-2.5],[125,45,-2],[143,45,-1],[160,45,-0.2],[90,65,-2],[107,65,-2.5],[125,65,-2.5],[143,65,-1.3],[160,65,-0.4],[90,85,1.3],[107,85,1],[125,85,-1.2],[143,85,-1.2],[160,85,-0.5],[90,105,2.2],[107,105,2],[125,105,0],[143,105,-1],[160,105,-0.6],[90,125,2],[107,125,1.8],[125,125,-0.2],[143,125,-1.2],[160,125,-0.8],[5,145,0],[22,145,-3.5],[40,145,-8],[58,145,-11],[75,145,-11],[5,165,0],[22,165,-3],[40,165,-8.5],[58,165,-11.5],[75,165,-12],[5,185,0],[22,185,-3],[40,185,-8],[58,185,-11.5],[75,185,-13],[5,205,0.1],[22,205,-2.5],[40,205,-7],[58,205,-11],[75,205,-13.5],[5,225,0.1],[22,225,-2],[40,225,-5.5],[58,225,-10],[75,225,-13],[5,245,0.3],[22,245,-0.5],[40,245,-3.5],[58,245,-7.5],[75,245,-11],[5,265,0.4],[22,265,0.1],[40,265,-1.5],[58,265,-4],[75,265,-6],[90,145,-3.5],[107,145,-3],[125,145,-3],[143,145,-3],[160,145,-2],[90,165,-11],[107,165,-9],[125,165,-8],[143,165,-5],[160,165,-3],[90,185,-15],[107,185,-13.5],[125,185,-10.5],[143,185,-7],[160,185,-3.5],[90,205,-14],[107,205,-12.5],[125,205,-9],[143,205,-5],[160,205,-1.5],[90,225,-11.5],[107,225,-9],[125,225,-5.5],[143,225,0.1],[160,225,0.2],[90,245,-7.5],[107,245,-4.5],[125,245,-1.5],[143,245,0.3],[160,245,-0.05],[90,265,-4],[107,265,-2],[125,265,0],[143,265,-0.05],[160,265,-0.1],[42,100,-13.5],[100,110,2.9],[105,48,-3],[98,193,-16],[100,76,0],[100,92,2.5],[95,135,0.3],[100,139,-0.2],[80,218,-14.5],[88,208,-15.5],[105,190,-15.8],[113,182,-15.2],[110,187,-15.5],[105,200,-15],[117,176,-14],[150,210,0.1],[130,255,0.2],[132,265,0.15],[155,235,0.15]]},
{lam:0.012,p:[[5,5,0.1],[22,5,0],[40,5,-0.5],[58,5,-0.7],[75,5,-0.7],[5,25,-0.8],[22,25,-1],[40,25,-1],[58,25,-1],[75,25,-0.8],[5,45,-1.5],[22,45,-2],[40,45,-2.5],[58,45,-2],[75,45,-1],[5,65,-2],[22,65,-3],[40,65,-4],[58,65,-2],[75,65,1],[5,85,-2.5],[22,85,-4],[40,85,-7.2],[58,85,-4.5],[75,85,0],[5,105,-2.5],[22,105,-5],[40,105,-9],[58,105,-6],[75,105,-1],[5,125,-2],[22,125,-5],[40,125,-9.3],[58,125,-7],[75,125,-1.7],[90,5,-0.5],[107,5,0],[125,5,0.2],[143,5,0.2],[160,5,0.1],[90,25,-0.8],[107,25,-0.6],[125,25,-0.3],[143,25,-0.1],[160,25,0.1],[90,45,-0.2],[107,45,-0.8],[125,45,-0.8],[143,45,-0.5],[160,45,-0.1],[90,65,2],[107,65,0.3],[125,65,-0.8],[143,65,-1],[160,65,-0.3],[90,85,3],[107,85,1.5],[125,85,-0.5],[143,85,-1],[160,85,-0.4],[90,105,2.5],[107,105,1.3],[125,105,-0.5],[143,105,-1],[160,105,-0.5],[90,125,0.8],[107,125,-0.3],[125,125,-1.2],[143,125,-1.2],[160,125,-0.6],[5,145,0.1],[22,145,-4.5],[40,145,-9],[58,145,-7.3],[75,145,-4],[5,165,0],[22,165,-3.5],[40,165,-8],[58,165,-7],[75,165,-6.5],[5,185,0.1],[22,185,-2],[40,185,-5.5],[58,185,-7.5],[75,185,-10],[5,205,0.1],[22,205,-0.8],[40,205,-4.5],[58,205,-8],[75,205,-12],[5,225,0.3],[22,225,0.1],[40,225,-3],[58,225,-7.5],[75,225,-13],[5,245,0.4],[22,245,0.2],[40,245,-2],[58,245,-5],[75,245,-10],[5,265,0.4],[22,265,0.2],[40,265,-0.2],[58,265,-2],[75,265,-4],[90,145,-3],[107,145,-4],[125,145,-7.5],[143,145,-6.5],[160,145,-3],[90,165,-11],[107,165,-13],[125,165,-12],[143,165,-7],[160,165,-4],[90,185,-15],[107,185,-18],[125,185,-15],[143,185,-9.5],[160,185,-3],[90,205,-16],[107,205,-15],[125,205,-12.5],[143,205,-6.5],[160,205,-0.5],[90,225,-13.5],[107,225,-12],[125,225,-8.5],[143,225,0.1],[160,225,0.3],[90,245,-9],[107,245,-6],[125,245,-2.5],[143,245,0.3],[160,245,-0.1],[90,265,-4],[107,265,-2],[125,265,-0.2],[143,265,0.2],[160,265,-0.15],[45,117,-10],[90,88,3.4],[106,190,-18.5],[35,105,-8.5],[52,105,-8],[60,105,-5.5],[68,105,-3],[79,105,0],[85,105,1.2],[95,105,3],[35,85,-7.5],[45,85,-7],[65,85,-2.5],[76,85,0],[95,85,3.2],[35,70,-5.5],[55,70,-4],[66,70,0],[80,70,1.5],[35,125,-8.5],[48,125,-9.5],[62,125,-6.5],[70,125,-4.5],[85,125,0],[32,145,-8],[48,145,-9],[62,145,-5.5],[70,145,-3.5],[40,160,-8.5],[50,160,-7.5],[70,160,-6],[80,160,-5],[150,225,0.15],[140,245,0.2],[130,262,0.15],[163,250,-0.15],[15,230,0.3],[25,250,0.15],[140,185,-11],[130,185,-13],[135,205,-10],[135,225,-5],[152,205,-3],[152,185,-5.5],[130,105,-1.5],[145,105,-0.8],[130,120,-2.5],[145,120,-2],[160,120,-0.8],[130,135,-4.5],[145,135,-3.5],[160,135,-1.5],[130,150,-10],[145,150,-8],[160,150,-4]]},
{lam:0.012,p:[[5,5,0.1],[22,5,-0.1],[40,5,-0.5],[58,5,-0.8],[75,5,-1],[5,25,-1],[22,25,-1.5],[40,25,-2],[58,25,-2.5],[75,25,-2.5],[5,45,-3.5],[22,45,-4.5],[40,45,-6],[58,45,-6.5],[75,45,-6],[5,65,-5],[22,65,-9],[40,65,-13],[58,65,-11.5],[75,65,-7],[5,85,-6],[22,85,-11],[40,85,-18],[58,85,-13.5],[75,85,-7],[5,105,-6.5],[22,105,-12],[40,105,-17],[58,105,-14],[75,105,-7.5],[5,125,-7],[22,125,-12.5],[40,125,-15],[58,125,-14],[75,125,-8],[90,5,-1],[107,5,-0.3],[125,5,0.1],[143,5,0.2],[160,5,0.1],[90,25,-3],[107,25,-2.5],[125,25,-1.5],[143,25,-0.5],[160,25,0.1],[90,45,-6],[107,45,-6.5],[125,45,-4.5],[143,45,-2.5],[160,45,-0.5],[90,65,-6],[107,65,-6.5],[125,65,-5],[143,65,-2.5],[160,65,-0.7],[90,85,-3.5],[107,85,-4],[125,85,-3.5],[143,85,-2],[160,85,-0.7],[90,105,0.5],[107,105,0.5],[125,105,-0.3],[143,105,-0.7],[160,105,-0.5],[90,125,2],[107,125,3.2],[125,125,1.5],[143,125,0.3],[160,125,0.1],[5,145,0],[22,145,-4],[40,145,-10],[58,145,-15],[75,145,-8.5],[5,165,0],[22,165,-4],[40,165,-10],[58,165,-16.5],[75,165,-12.5],[5,185,0],[22,185,-4],[40,185,-9.5],[58,185,-16],[75,185,-15.5],[5,205,0],[22,205,-3.5],[40,205,-9],[58,205,-14],[75,205,-15],[5,225,0],[22,225,-3],[40,225,-8],[58,225,-12.5],[75,225,-14],[5,245,0.1],[22,245,-1.5],[40,245,-5.5],[58,245,-9.5],[75,245,-12],[5,265,0.3],[22,265,0],[40,265,-2.5],[58,265,-5],[75,265,-6.5],[90,145,-3],[107,145,0.3],[125,145,0.2],[143,145,0.2],[160,145,0.3],[90,165,-12.5],[107,165,-9.5],[125,165,-5],[143,165,-2.5],[160,165,0.1],[90,185,-13],[107,185,-11],[125,185,-8],[143,185,-3.5],[160,185,0],[90,205,-12.5],[107,205,-10],[125,205,-7],[143,205,-2],[160,205,0.1],[90,225,-11.5],[107,225,-7],[125,225,-3.5],[143,225,-0.5],[160,225,0.2],[90,245,-7],[107,245,-4],[125,245,-1.5],[143,245,0.2],[160,245,0],[90,265,-4],[107,265,-2],[125,265,-0.3],[143,265,0.2],[160,265,-0.1],[40,91,-19],[105,125,3.6],[107,55,-7],[62,175,-17.5],[95,95,0.3],[110,97,0.2],[100,115,3.2],[110,115,3.2],[105,130,3.4],[98,125,3.1]]},
{lam:0.012,p:[[5,5,0.1],[22,5,-0.3],[40,5,-0.5],[58,5,-0.8],[75,5,-0.8],[5,25,-1],[22,25,-1.2],[40,25,-1.5],[58,25,-1.5],[75,25,-1.5],[5,45,-2.5],[22,45,-3.5],[40,45,-3.5],[58,45,-3],[75,45,-2.5],[5,65,-3],[22,65,-5],[40,65,-6.5],[58,65,-5.5],[75,65,-3],[5,85,-3],[22,85,-5.5],[40,85,-7.3],[58,85,-5.5],[75,85,-3],[5,105,-3],[22,105,-5],[40,105,-6.2],[58,105,-5],[75,105,-2.5],[5,125,-3],[22,125,-4.5],[40,125,-5.5],[58,125,-5],[75,125,-2.5],[90,5,-0.8],[107,5,-0.5],[125,5,-0.3],[143,5,-0.2],[160,5,-0.1],[90,25,-2],[107,25,-1.5],[125,25,-1.2],[143,25,-0.8],[160,25,0.1],[90,45,-4],[107,45,-3.5],[125,45,-2.5],[143,45,-1.5],[160,45,-0.3],[90,65,-3],[107,65,-3],[125,65,-2.8],[143,65,-1.8],[160,65,-0.6],[90,85,-1],[107,85,-2],[125,85,-3],[143,85,-2],[160,85,-0.8],[90,105,0.2],[107,105,-1],[125,105,-2.5],[143,105,-2],[160,105,-0.8],[90,125,-0.5],[107,125,-1.2],[125,125,-2.5],[143,125,-2.2],[160,125,-1],[5,145,0],[22,145,-2],[40,145,-4],[58,145,-5.5],[75,145,-5.5],[5,165,-0.3],[22,165,-2.3],[40,165,-4.5],[58,165,-7],[75,165,-7.5],[5,185,-0.5],[22,185,-2.5],[40,185,-5],[58,185,-8.5],[75,185,-10],[5,205,-0.5],[22,205,-2.5],[40,205,-5],[58,205,-10.5],[75,205,-12.5],[5,225,-0.5],[22,225,-2],[40,225,-4.5],[58,225,-8.5],[75,225,-11.5],[5,245,-0.1],[22,245,-1.5],[40,245,-3.5],[58,245,-6.5],[75,245,-8.5],[5,265,0.2],[22,265,-0.3],[40,265,-2],[58,265,-4],[75,265,-5],[90,145,-1.5],[107,145,-2],[125,145,-2.5],[143,145,-2],[160,145,-1.2],[90,165,-5.5],[107,165,-3.5],[125,165,-3],[143,165,-2.5],[160,165,-1.2],[90,185,-8],[107,185,-5.5],[125,185,-3.5],[143,185,-2],[160,185,-0.5],[90,205,-10],[107,205,-6.5],[125,205,-3.5],[143,205,-1.5],[160,205,0.1],[90,225,-9.5],[107,225,-6],[125,225,-3],[143,225,-0.5],[160,225,0.1],[90,245,-7],[107,245,-4],[125,245,-1.5],[143,245,0.1],[160,245,-0.1],[90,265,-3.5],[107,265,-2],[125,265,-0.5],[143,265,0.1],[160,265,-0.1],[37,78,-7.6],[91,102,0.4],[72,211,-12.8],[88,95,0.3],[92,110,0.3],[85,100,0.1],[95,90,0.05],[94,116,0.05],[60,220,-10.5],[68,195,-11.5],[72,208,-12.8]]},
{lam:0.012,p:[[5,5,0.1],[22,5,-0.2],[40,5,-0.5],[58,5,-0.7],[75,5,-0.8],[5,25,-1],[22,25,-1.2],[40,25,-1.3],[58,25,-1.5],[75,25,-1.5],[5,45,-2],[22,45,-2.5],[40,45,-3],[58,45,-3],[75,45,-2.5],[5,65,-2],[22,65,-3],[40,65,-4.5],[58,65,-3.5],[75,65,-1.5],[5,85,-2],[22,85,-3],[40,85,-4.2],[58,85,-3],[75,85,-0.5],[5,105,-2],[22,105,-3],[40,105,-3.5],[58,105,-2.5],[75,105,0],[5,125,-1.5],[22,125,-2.5],[40,125,-3],[58,125,-2.5],[75,125,0],[90,5,-0.8],[107,5,-0.6],[125,5,-0.4],[143,5,-0.2],[160,5,0],[90,25,-1.8],[107,25,-1.5],[125,25,-1.1],[143,25,-0.6],[160,25,0.2],[90,45,-2.8],[107,45,-2.5],[125,45,-1.8],[143,45,-1],[160,45,-0.2],[90,65,-2],[107,65,-2.3],[125,65,-2],[143,65,-1.2],[160,65,-0.5],[90,85,0.3],[107,85,-1],[125,85,-1.8],[143,85,-1.5],[160,85,-0.6],[90,105,0.6],[107,105,-0.6],[125,105,-1.7],[143,105,-1.5],[160,105,-0.7],[90,125,0],[107,125,-0.8],[125,125,-1.8],[143,125,-1.8],[160,125,-0.8],[5,145,0.1],[22,145,-1],[40,145,-2],[58,145,-2.5],[75,145,-3],[5,165,-0.2],[22,165,-1],[40,165,-2.3],[58,165,-3],[75,165,-3.5],[5,185,-0.3],[22,185,-1],[40,185,-2.5],[58,185,-4],[75,185,-6],[5,205,-0.3],[22,205,-1],[40,205,-2.5],[58,205,-5],[75,205,-8],[5,225,-0.3],[22,225,-1],[40,225,-2.3],[58,225,-5],[75,225,-8],[5,245,-0.2],[22,245,-0.8],[40,245,-2],[58,245,-3.5],[75,245,-6],[5,265,0],[22,265,-0.3],[40,265,-1.2],[58,265,-2.5],[75,265,-3.5],[90,145,-1.5],[107,145,-2],[125,145,-2.5],[143,145,-2],[160,145,-1.2],[90,165,-4.5],[107,165,-4],[125,165,-3],[143,165,-2.2],[160,165,-1.2],[90,185,-7.5],[107,185,-6],[125,185,-4],[143,185,-2.2],[160,185,-1],[90,205,-11],[107,205,-8],[125,205,-4.5],[143,205,-2],[160,205,-0.3],[90,225,-10],[107,225,-7],[125,225,-3.5],[143,225,-0.8],[160,225,0.2],[90,245,-7],[107,245,-4.5],[125,245,-2],[143,245,0.1],[160,245,0.2],[90,265,-3.5],[107,265,-2],[125,265,-0.7],[143,265,0.2],[160,265,-0.1],[38,68,-4.6],[87,105,0.7],[85,213,-11.5],[86,80,0.15],[90,130,0.2],[92,137,0.02],[80,95,0.2],[98,100,0.2],[95,198,-10],[77,226,-9.5],[100,190,-8.5],[70,236,-7.5],[96,224,-7.5],[75,200,-7.5]]},
{lam:0.012,p:[[5,5,0.1],[22,5,-0.2],[40,5,-0.7],[58,5,-1],[75,5,-1.2],[5,25,-1],[22,25,-1.5],[40,25,-2],[58,25,-2.5],[75,25,-2.5],[5,45,-3],[22,45,-4.5],[40,45,-5.5],[58,45,-5],[75,45,-5.5],[5,65,-3.5],[22,65,-6.5],[40,65,-9],[58,65,-7.5],[75,65,-5.5],[5,85,-3.5],[22,85,-7.5],[40,85,-10.5],[58,85,-8],[75,85,-5],[5,105,-3],[22,105,-7],[40,105,-9.3],[58,105,-8],[75,105,-4.5],[5,125,-2.5],[22,125,-6],[40,125,-8],[58,125,-8],[75,125,-4.5],[90,5,-1.2],[107,5,-0.8],[125,5,-0.5],[143,5,-0.3],[160,5,-0.1],[90,25,-3],[107,25,-2.5],[125,25,-2],[143,25,-1.2],[160,25,0.1],[90,45,-5.5],[107,45,-5],[125,45,-3.5],[143,45,-1.8],[160,45,-0.3],[90,65,-4.5],[107,65,-4.5],[125,65,-3.5],[143,65,-2],[160,65,-0.4],[90,85,-3],[107,85,-3.5],[125,85,-3],[143,85,-2],[160,85,-0.4],[90,105,-1.5],[107,105,-1.5],[125,105,-2.5],[143,105,-2],[160,105,-0.3],[90,125,-1],[107,125,0.1],[125,125,-1.5],[143,125,-2],[160,125,-0.3],[5,145,0],[22,145,-2.5],[40,145,-6],[58,145,-8],[75,145,-9],[5,165,0],[22,165,-3],[40,165,-7],[58,165,-11],[75,165,-11.5],[5,185,0],[22,185,-3],[40,185,-7.5],[58,185,-14],[75,185,-14],[5,205,0],[22,205,-3],[40,205,-8],[58,205,-16],[75,205,-15],[5,225,0],[22,225,-2.5],[40,225,-7],[58,225,-13.5],[75,225,-13.5],[5,245,0.1],[22,245,-1.5],[40,245,-5],[58,245,-9],[75,245,-10.5],[5,265,0.3],[22,265,-0.3],[40,265,-2.5],[58,265,-4.5],[75,265,-5.5],[90,145,-1.5],[107,145,-0.8],[125,145,-1.5],[143,145,-1.5],[160,145,-0.3],[90,165,-6],[107,165,-2.5],[125,165,-1.8],[143,165,-1.3],[160,165,0],[90,185,-10],[107,185,-4.5],[125,185,-2.3],[143,185,-1.2],[160,185,0.1],[90,205,-11.5],[107,205,-5],[125,205,-2.3],[143,205,-1],[160,205,0.2],[90,225,-10],[107,225,-4.5],[125,225,-2],[143,225,-0.8],[160,225,0.2],[90,245,-7],[107,245,-3],[125,245,-1.5],[143,245,-0.3],[160,245,0.2],[90,265,-3.5],[107,265,-1.8],[125,265,-0.7],[143,265,-0.1],[160,265,0.2],[36,80,-11.2],[103,140,0.1],[100,124,0.1],[104,131,0.3],[165,110,0.05],[165,140,0.05],[165,170,0.1],[158,110,-0.15],[158,140,-0.15],[33,74,-11],[45,95,-9.5],[103,131,0.2],[62,205,-16.3]]}
];
var LBL=['a)','b)','c)','d)','e)','f)','g)','h)','i)'];
/* geography (local coords) */
var MARGIN=[[16.6,60.5],[19.7,57.5],[25.7,58.2],[30.2,56],[34.8,51.4],[39.3,49.9],[42.3,46.9],[45.4,43.8],[45.4,40.8],[51.4,39.3],[57.5,41.6],[63.5,40.8],[69.5,39.3],[75.6,37.8],[78.6,34.8],[83,32.5],[89,36.3],[95,39.3],[99.6,42.3],[105.7,46.9],[111.7,51.4],[117.8,54.4],[120,60.5],[120.8,66.5],[125.3,75.6],[128.4,84.7],[131.4,93.7],[133,102.8],[128.4,104.3],[123.8,108.9],[122.3,114.9],[125.3,121],[126.8,128.5],[128.4,135],[130,140],[129,148],[139,145],[146.5,139],[149,142],[143.5,153],[137.4,160.7],[128.4,166.8],[122.3,168.3],[119.3,175.8],[116.3,184.9],[110.2,192.5],[104.2,194],[99.6,200],[95,206],[92,213.6],[89,222.7],[86,230],[83,239],[79,249],[75.6,256.5],[71,255.5],[63.5,251],[57.5,245.4],[52.9,237.8],[49.9,228.7],[49.9,219.7],[49.9,210.6],[51.4,203],[50.6,195.5],[52.2,188],[51.4,180.4],[49.9,174.3],[52.9,171.3],[54.4,165],[52.9,157.7],[53.7,150],[51.4,141],[46.9,135],[43.8,128.5],[41.6,121],[40.8,113.4],[39.3,105.8],[40,98.3],[37.8,92.2],[33.3,89.2],[25.7,87.7],[21.2,84.7],[16.6,78.6],[15.9,72.6],[18.1,66.5],[16.6,60.5]];
var COAST=[[13,62],[12,51.4],[18,46.9],[25.7,43.8],[34.8,39.3],[39.3,34.8],[45.4,33.3],[51.4,31.8],[56,34.8],[60.5,36.3],[65,34.8],[69.5,31.8],[74,28.7],[78.6,24.2],[83,19],[89,18.1],[96.6,21.2],[101,25.7],[105.7,27.2],[111.7,25.7],[119.3,27.2],[120,33.3],[119.3,39.3],[121.6,48.4],[122.3,57.5],[126.8,68],[131.4,72.6],[133,81.6],[139,87.7],[142,90.7],[140.5,98.3],[139,105.8],[140.5,114.9],[143.5,121],[146.5,128.5],[148,135],[151.5,139],[149,142.5],[143.5,153],[137.4,160.7],[128.4,166.8],[122.3,168.3],[119.3,175.8],[116.3,184.9],[110.2,192.5],[104.2,194],[99.6,200],[95,206],[92,213.6],[89,222.7],[86,230],[83,239],[79,249],[77,257],[75.6,260.5],[71,257.5],[63.5,253],[55.9,246.9],[49.9,237.8],[46.9,228.7],[43.8,219.7],[42.3,210.6],[40.8,200],[37.8,191],[39.3,178.8],[37.8,171.3],[40,162.2],[37.8,154.7],[41,144],[41,135],[41,125],[40.5,115],[39.5,107],[37,98],[31,92],[22,89.5],[15,83],[12.5,72],[13,62]];
var ELLES=[[[27,13.5],[33,14.3],[39,15],[45,19.5],[50,25.5],[51.5,30]],[[1.5,13.6],[7.6,15],[4.5,22.7],[6,30],[12,34.8],[18,30],[22.7,28.7],[27.2,27.2],[33,29],[38,27],[44,29]],[[1,59],[6,57],[9,56],[12,51.4]],[[1,44],[6,41],[10,37],[16,36],[22,35]],[[14,20],[20,18],[26,20]]];
var MARKS=[[3.5,181,2.2,-1.2,1.8],[4,186,1.6,-1.5,1.5],[163.5,9,2.2,1.5,4.6],[163,14,1.8,1.5,4.6],[163.5,180,2.2,1.5,4.6],[163,185,1.6,1.5,4.6]];
var DIV1=[[71,17.5],[68.5,24],[66.5,30.2],[65.8,42.3],[68,57.5],[72.6,71],[77,83],[83,96.8],[87.5,108.9],[90.6,121],[93.6,135],[96.5,145],[99,155],[100.5,163],[99.5,170],[97,178],[92,185],[86,195.5],[80,205],[72,216],[66.5,228],[64,237],[63,244]];
var DIV2=[[43.8,150],[60,150.8],[83,152.4],[97.7,152],[112.5,149],[128.4,144],[139,141.6],[147.9,138.7]];
/* deterministic rng */
var seed=12345;function rnd(){seed=(seed*16807)%2147483647;return seed/2147483647;}
function jag(pts,amp,step){
  var out=[];
  for(var i=0;i<pts.length-1;i++){
    var a=pts[i],b=pts[i+1],dx=b[0]-a[0],dy=b[1]-a[1],L=Math.sqrt(dx*dx+dy*dy),n=Math.max(1,Math.round(L/step));
    var nx=-dy/L,ny=dx/L;
    for(var k=0;k<n;k++){var t=k/n,o=(rnd()-0.5)*2*amp;out.push([a[0]+dx*t+nx*o,a[1]+dy*t+ny*o]);}
  }
  out.push(pts[pts.length-1]);return out;
}
function frac(pts,rough,minLen){
  var out=[pts[0]];
  function sub(a,b,d){
    var dx=b[0]-a[0],dy=b[1]-a[1],L=Math.sqrt(dx*dx+dy*dy);
    if(L<minLen||d>10){out.push(b);return;}
    var o=(rnd()-0.5)*2*rough*L,m=[(a[0]+b[0])/2-dy/L*o,(a[1]+b[1])/2+dx/L*o];
    sub(a,m,d+1);sub(m,b,d+1);
  }
  for(var i=0;i<pts.length-1;i++)sub(pts[i],pts[i+1],0);
  return out;
}
seed=777;var MARGIN_J=frac(jag(MARGIN,0.9,2.2),0.4,0.6);
seed=999;var COAST_J=frac(jag(COAST,1.5,2.5),0.42,0.7);
seed=4242;var COAST_J2=frac(jag(COAST,2.2,3),0.45,0.7);
seed=555;var ELLES_J=ELLES.map(function(p){return frac(jag(p,1.5,2.5),0.42,0.7);});
/* fjord/island loops along the coast */
function loops(pts,every,seedv){
  seed=seedv;var res=[];
  for(var i=0;i<pts.length-1;i++){
    var a=pts[i],b=pts[i+1],dx=b[0]-a[0],dy=b[1]-a[1],L=Math.sqrt(dx*dx+dy*dy),n=Math.floor(L/every);
    for(var k=0;k<n;k++){
      if(rnd()<0.55)continue;
      var t=(k+rnd())/Math.max(n,1),cx=a[0]+dx*t,cy=a[1]+dy*t,nx=-dy/L,ny=dx/L,tx=dx/L,ty=dy/L;
      if(cy>138&&cx>66)continue;
      var len=1.5+rnd()*4.5,w=0.6+rnd()*1.2,sk=(rnd()-0.5)*1.5;
      var p0=[cx-tx*w,cy-ty*w],p1=[cx+nx*len*0.5+tx*(sk-w*0.3)+(rnd()-0.5),cy+ny*len*0.5+ty*(sk-w*0.3)+(rnd()-0.5)],p2=[cx+nx*len+tx*sk,cy+ny*len+ty*sk],
          p3=[cx+nx*len*0.5+tx*(sk+w*0.3)+(rnd()-0.5),cy+ny*len*0.5+ty*(sk+w*0.3)+(rnd()-0.5)],p4=[cx+tx*w,cy+ty*w];
      res.push([p0,p1,p2,p3,p4]);
    }
  }
  return res;
}
var LOOPS=loops(COAST,3.2,31337);
function isl(pts,every,maxOff,seedv){
  seed=seedv;var res=[];
  for(var i=0;i<pts.length-1;i++){
    var a=pts[i],b=pts[i+1],dx=b[0]-a[0],dy=b[1]-a[1],L=Math.sqrt(dx*dx+dy*dy),n=Math.max(1,Math.round(L/every));
    for(var k=0;k<n;k++){
      var t=(k+rnd())/n,nx=-dy/L,ny=dx/L,o=rnd()*maxOff,cx=a[0]+dx*t+nx*o,cy=a[1]+dy*t+ny*o;
      var r1=0.7+rnd()*1.6,r2=0.5+rnd()*1.0,ang=rnd()*Math.PI,m=6,lp=[];
      for(var j=0;j<=m;j++){var th=j/m*2*Math.PI,rr=1+(rnd()-0.5)*0.6;lp.push([cx+(Math.cos(ang)*r1*Math.cos(th)-Math.sin(ang)*r2*Math.sin(th))*rr,cy+(Math.sin(ang)*r1*Math.cos(th)+Math.cos(ang)*r2*Math.sin(th))*rr]);}
      lp[m]=lp[0];res.push(lp);
    }
  }
  return res;
}
/* west coast island band (coast runs northward here, inward = east) */
var WBAND=[[75.6,260.5],[63.5,253],[55.9,246.9],[49.9,237.8],[46.9,228.7],[43.8,219.7],[42.3,210.6],[40.8,200],[40,191],[41,179],[41,171.3],[41.5,163],[40,155],[41,144],[41,135]];
var ISL=isl(WBAND,2.2,9,8080).concat(isl([[122.3,57.5],[126.8,68],[131.4,72.6],[133,81.6],[139,87.7],[142,90.7],[140.5,98.3],[139,105.8],[140.5,114.9],[143.5,121],[146.5,128.5],[148,135]],2.0,12,9090)).concat(isl([[83,19],[89,18.1],[96.6,21.2],[101,25.7],[105.7,27.2],[111.7,25.7],[119.3,27.2],[120,33.3],[119.3,39.3],[121.6,48.4]],2.2,14,7070)).concat(isl([[12,51.4],[18,46.9],[25.7,43.8],[34.8,39.3],[39.3,34.8],[45.4,33.3],[51.4,31.8]],3.5,-8,6060));


function poly(ctx,pts){ctx.beginPath();ctx.moveTo(pts[0][0],pts[0][1]);for(var i=1;i<pts.length;i++)ctx.lineTo(pts[i][0],pts[i][1]);}
function phi(r){return r>1e-9?r*r*Math.log(r):0;}
function solve(A,b){var n=b.length;for(var i=0;i<n;i++){var m=i;for(var r=i+1;r<n;r++)if(Math.abs(A[r][i])>Math.abs(A[m][i]))m=r;
 var t=A[i];A[i]=A[m];A[m]=t;t=b[i];b[i]=b[m];b[m]=t;
 for(var r=i+1;r<n;r++){var f=A[r][i]/A[i][i];if(f===0)continue;for(var c=i;c<n;c++)A[r][c]-=f*A[i][c];b[r]-=f*b[i];}}
 var x=new Array(n);for(var i=n-1;i>=0;i--){var s=b[i];for(var c=i+1;c<n;c++)s-=A[i][c]*x[c];x[i]=s/A[i][i];}return x;}
var S=100;
function field(p,W,H){
  var pts=p.p,n=pts.length,N=n+3,A=[],b=[];
  for(var i=0;i<N;i++){A.push(new Array(N).fill(0));b.push(0);}
  for(var i=0;i<n;i++){for(var j=0;j<n;j++){var dx=(pts[i][0]-pts[j][0])/S,dy=(pts[i][1]-pts[j][1])/S;A[i][j]=phi(Math.sqrt(dx*dx+dy*dy))+(i===j?p.lam:0);}
    A[i][n]=1;A[i][n+1]=pts[i][0]/S;A[i][n+2]=pts[i][1]/S;A[n][i]=1;A[n+1][i]=pts[i][0]/S;A[n+2][i]=pts[i][1]/S;b[i]=pts[i][2];}
  var w=solve(A,b);
  var g=new Float32Array((W+1)*(H+1));
  for(var y=0;y<=H;y++)for(var x=0;x<=W;x++){
    var xs=x/S,ys=y/S,v=w[n]+w[n+1]*xs+w[n+2]*ys;
    for(var i=0;i<n;i++){var dx=xs-pts[i][0]/S,dy=ys-pts[i][1]/S,r2=dx*dx+dy*dy;if(r2>1e-12)v+=w[i]*0.5*r2*Math.log(r2);}
    g[y*(W+1)+x]=v;
  }
  return g;
}
function contours(ctx,g,W,H,L){
  ctx.beginPath();
  var W1=W+1;
  for(var y=0;y<H;y++)for(var x=0;x<W;x++){
    var a=g[y*W1+x]-L,b=g[y*W1+x+1]-L,c=g[(y+1)*W1+x+1]-L,d=g[(y+1)*W1+x]-L;
    var idx=(a>0?8:0)|(b>0?4:0)|(c>0?2:0)|(d>0?1:0);
    if(idx===0||idx===15)continue;
    var T=[x+a/(a-b),y],R=[x+1,y+b/(b-c)],B=[x+d/(d-c),y+1],Lf=[x,y+a/(a-d)];
    var segs=[];
    switch(idx){
      case 1:case 14:segs=[[Lf,B]];break;
      case 2:case 13:segs=[[B,R]];break;
      case 3:case 12:segs=[[Lf,R]];break;
      case 4:case 11:segs=[[T,R]];break;
      case 5:segs=[[Lf,T],[B,R]];break;
      case 10:segs=[[T,R],[Lf,B]];break;
      case 6:case 9:segs=[[T,B]];break;
      case 7:case 8:segs=[[Lf,T]];break;
    }
    for(var s=0;s<segs.length;s++){ctx.moveTo(segs[s][0][0]+0.5,segs[s][0][1]+0.5);ctx.lineTo(segs[s][1][0]+0.5,segs[s][1][1]+0.5);}
  }
  ctx.stroke();
}
function drawPanel(k){
  var cv=document.getElementById('p'+k),ctx=cv.getContext('2d'),W=cv.width,H=cv.height;
  var g=field(P[k],W,H);
  var img=ctx.createImageData(W,H),d=img.data;
  for(var y=0;y<H;y++)for(var x=0;x<W;x++){
    var v=g[y*(W+1)+x],c=cmap(v),o=(y*W+x)*4;
    d[o]=c[0];d[o+1]=c[1];d[o+2]=c[2];d[o+3]=255;
  }
  ctx.putImageData(img,0,0);
  ctx.lineJoin='round';ctx.lineCap='round';
  /* coast */
  ctx.strokeStyle='#000';ctx.lineWidth=1.1;poly(ctx,COAST_J);ctx.stroke();ctx.lineWidth=0.7;poly(ctx,COAST_J2);ctx.stroke();ctx.lineWidth=0.9;LOOPS.forEach(function(p){poly(ctx,p);ctx.stroke();});ctx.lineWidth=0.8;ISL.forEach(function(p){poly(ctx,p);ctx.stroke();});
  ctx.lineWidth=1.2;ELLES_J.forEach(function(p){poly(ctx,p);ctx.stroke();});
  /* edge marks */
  ctx.lineWidth=1.2;MARKS.forEach(function(m){ctx.beginPath();ctx.arc(m[0],m[1],m[2],m[3],m[4]);ctx.stroke();});
  /* ice margin */
  ctx.strokeStyle='#fff';ctx.lineWidth=2.3;poly(ctx,MARGIN_J);ctx.stroke();
  /* divides */
  ctx.lineWidth=3.2;poly(ctx,DIV1);ctx.stroke();poly(ctx,DIV2);ctx.stroke();
  /* contours */
  ctx.lineWidth=1.0;ctx.strokeStyle='#000';ctx.lineCap='butt';
  for(var L=-20;L<=8;L++){if(L===0)continue;contours(ctx,g,W,H,L);}
  ctx.strokeStyle='#f00';ctx.lineWidth=1.5;contours(ctx,g,W,H,0);
  /* label */
  ctx.fillStyle='#fff';ctx.fillRect(9,7,18,19);
  ctx.fillStyle='#000';ctx.font='16px "Liberation Serif"';ctx.textBaseline='alphabetic';ctx.fillText(LBL[k],12,21);
  /* border */
  ctx.strokeStyle='#000';ctx.lineWidth=2;ctx.strokeRect(1,1,W-2,H-2);
}
for(var k=0;k<9;k++)drawPanel(k);
/* colorbar */
(function(){
  var cv=document.getElementById('cb'),ctx=cv.getContext('2d');
  var x0=5,x1=421,y0=1,y1=14;
  for(var x=x0;x<x1;x++){var v=-15+20*(x-x0+0.5)/(x1-x0),c=cmap(v);ctx.fillStyle='rgb('+Math.round(c[0])+','+Math.round(c[1])+','+Math.round(c[2])+')';ctx.fillRect(x,y0,1,y1-y0);}
  ctx.strokeStyle='#000';ctx.lineWidth=1;
  for(var i=0;i<=20;i++){var x=Math.round(x0+(x1-x0)*i/20)+0.5;ctx.beginPath();ctx.moveTo(x,y0);ctx.lineTo(x,y1+7);ctx.stroke();}
  ctx.lineWidth=1.5;ctx.strokeRect(x0,y0+0.25,x1-x0,y1-y0);
  var lab=document.getElementById('cbl'),h='';
  for(var i=0;i<=20;i++){var v=-15+i;var s=v<0?'\u2013'+(-v):''+v;var cx=80+x0+(x1-x0)*i/20;
    h+='<div class="s" style="left:'+(cx-19)+'px;width:40px;text-align:center;top:881.5px">'+s+'</div>';}
  lab.innerHTML=h;
})();
</script>
</body></html>
